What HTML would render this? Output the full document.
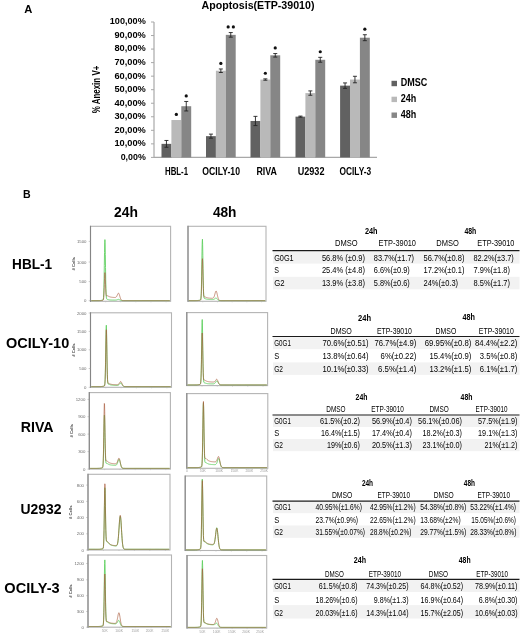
<!DOCTYPE html>
<html><head><meta charset="utf-8"><style>
html,body{margin:0;padding:0;background:#fff;}
body{width:520px;height:637px;overflow:hidden;}
svg{display:block;font-family:"Liberation Sans", sans-serif;will-change:transform;}
</style></head><body>
<svg width="520" height="637" viewBox="0 0 520 637">
<text x="24.2" y="12.8" font-size="11.2" font-weight="bold" >A</text>
<text x="201.5" y="9.3" font-size="10.6" font-weight="bold" textLength="113" lengthAdjust="spacingAndGlyphs" >Apoptosis(ETP-39010)</text>
<line x1="154" y1="22.0" x2="154" y2="157.4" stroke="#a8a8a8" stroke-width="1.2" />
<line x1="154" y1="157.4" x2="377" y2="157.4" stroke="#a8a8a8" stroke-width="1.2" />
<line x1="151" y1="157.4" x2="154" y2="157.4" stroke="#a8a8a8" stroke-width="1" />
<text x="120.70000000000002" y="159.8" font-size="8.6" font-weight="bold" textLength="25.1" lengthAdjust="spacingAndGlyphs" >0,00%</text>
<line x1="151" y1="143.86" x2="154" y2="143.86" stroke="#a8a8a8" stroke-width="1" />
<text x="114.4" y="146.26000000000002" font-size="8.6" font-weight="bold" textLength="31.4" lengthAdjust="spacingAndGlyphs" >10,00%</text>
<line x1="151" y1="130.32" x2="154" y2="130.32" stroke="#a8a8a8" stroke-width="1" />
<text x="114.4" y="132.72" font-size="8.6" font-weight="bold" textLength="31.4" lengthAdjust="spacingAndGlyphs" >20,00%</text>
<line x1="151" y1="116.78" x2="154" y2="116.78" stroke="#a8a8a8" stroke-width="1" />
<text x="114.4" y="119.18" font-size="8.6" font-weight="bold" textLength="31.4" lengthAdjust="spacingAndGlyphs" >30,00%</text>
<line x1="151" y1="103.24000000000001" x2="154" y2="103.24000000000001" stroke="#a8a8a8" stroke-width="1" />
<text x="114.4" y="105.64000000000001" font-size="8.6" font-weight="bold" textLength="31.4" lengthAdjust="spacingAndGlyphs" >40,00%</text>
<line x1="151" y1="89.7" x2="154" y2="89.7" stroke="#a8a8a8" stroke-width="1" />
<text x="114.4" y="92.10000000000001" font-size="8.6" font-weight="bold" textLength="31.4" lengthAdjust="spacingAndGlyphs" >50,00%</text>
<line x1="151" y1="76.16000000000001" x2="154" y2="76.16000000000001" stroke="#a8a8a8" stroke-width="1" />
<text x="114.4" y="78.56000000000002" font-size="8.6" font-weight="bold" textLength="31.4" lengthAdjust="spacingAndGlyphs" >60,00%</text>
<line x1="151" y1="62.620000000000005" x2="154" y2="62.620000000000005" stroke="#a8a8a8" stroke-width="1" />
<text x="114.4" y="65.02000000000001" font-size="8.6" font-weight="bold" textLength="31.4" lengthAdjust="spacingAndGlyphs" >70,00%</text>
<line x1="151" y1="49.08000000000001" x2="154" y2="49.08000000000001" stroke="#a8a8a8" stroke-width="1" />
<text x="114.4" y="51.48000000000001" font-size="8.6" font-weight="bold" textLength="31.4" lengthAdjust="spacingAndGlyphs" >80,00%</text>
<line x1="151" y1="35.540000000000006" x2="154" y2="35.540000000000006" stroke="#a8a8a8" stroke-width="1" />
<text x="114.4" y="37.940000000000005" font-size="8.6" font-weight="bold" textLength="31.4" lengthAdjust="spacingAndGlyphs" >90,00%</text>
<line x1="151" y1="22.0" x2="154" y2="22.0" stroke="#a8a8a8" stroke-width="1" />
<text x="109.80000000000001" y="24.4" font-size="8.6" font-weight="bold" textLength="36" lengthAdjust="spacingAndGlyphs" >100,00%</text>
<text transform="translate(100.3,89.5) rotate(-90)" x="0" y="0" font-size="10.4" font-weight="bold" text-anchor="middle" textLength="47.7" lengthAdjust="spacingAndGlyphs">% Anexin V+</text>
<rect x="161.5" y="143.86" width="9.9" height="13.54" fill="#616161" />
<line x1="166.45" y1="140.475" x2="166.45" y2="147.245" stroke="#222" stroke-width="0.9" />
<line x1="164.45" y1="140.475" x2="168.45" y2="140.475" stroke="#222" stroke-width="0.9" />
<line x1="164.45" y1="147.245" x2="168.45" y2="147.245" stroke="#222" stroke-width="0.9" />
<rect x="171.4" y="120.03" width="9.9" height="37.37" fill="#b9b9b9" />
<circle cx="176.35" cy="114.43" r="1.6" fill="#111"/>
<rect x="181.3" y="106.22" width="9.9" height="51.18" fill="#868686" />
<line x1="186.25" y1="101.47980000000001" x2="186.25" y2="110.9578" stroke="#222" stroke-width="0.9" />
<line x1="184.25" y1="101.47980000000001" x2="188.25" y2="101.47980000000001" stroke="#222" stroke-width="0.9" />
<line x1="184.25" y1="110.9578" x2="188.25" y2="110.9578" stroke="#222" stroke-width="0.9" />
<circle cx="186.25" cy="95.88" r="1.6" fill="#111"/>
<text x="165" y="175.2" font-size="10.4" font-weight="bold" textLength="23" lengthAdjust="spacingAndGlyphs" >HBL-1</text>
<rect x="206.0" y="136.14" width="9.9" height="21.26" fill="#616161" />
<line x1="210.95" y1="134.1112" x2="210.95" y2="138.1732" stroke="#222" stroke-width="0.9" />
<line x1="208.95" y1="134.1112" x2="212.95" y2="134.1112" stroke="#222" stroke-width="0.9" />
<line x1="208.95" y1="138.1732" x2="212.95" y2="138.1732" stroke="#222" stroke-width="0.9" />
<rect x="215.9" y="70.74" width="9.9" height="86.66" fill="#b9b9b9" />
<line x1="220.85" y1="68.9838" x2="220.85" y2="72.50420000000001" stroke="#222" stroke-width="0.9" />
<line x1="218.85" y1="68.9838" x2="222.85" y2="68.9838" stroke="#222" stroke-width="0.9" />
<line x1="218.85" y1="72.50420000000001" x2="222.85" y2="72.50420000000001" stroke="#222" stroke-width="0.9" />
<circle cx="220.85" cy="63.38" r="1.6" fill="#111"/>
<rect x="225.8" y="34.86" width="9.9" height="122.54" fill="#868686" />
<line x1="230.75" y1="32.5612" x2="230.75" y2="37.1648" stroke="#222" stroke-width="0.9" />
<line x1="228.75" y1="32.5612" x2="232.75" y2="32.5612" stroke="#222" stroke-width="0.9" />
<line x1="228.75" y1="37.1648" x2="232.75" y2="37.1648" stroke="#222" stroke-width="0.9" />
<circle cx="228.15" cy="26.96" r="1.6" fill="#111"/>
<circle cx="233.35" cy="26.96" r="1.6" fill="#111"/>
<text x="202.3" y="175.2" font-size="10.4" font-weight="bold" textLength="37.7" lengthAdjust="spacingAndGlyphs" >OCILY-10</text>
<rect x="250.5" y="120.98" width="9.9" height="36.42" fill="#616161" />
<line x1="255.45" y1="116.37380000000002" x2="255.45" y2="125.581" stroke="#222" stroke-width="0.9" />
<line x1="253.45" y1="116.37380000000002" x2="257.45" y2="116.37380000000002" stroke="#222" stroke-width="0.9" />
<line x1="253.45" y1="125.581" x2="257.45" y2="125.581" stroke="#222" stroke-width="0.9" />
<rect x="260.4" y="79.55" width="9.9" height="77.86" fill="#b9b9b9" />
<line x1="265.34999999999997" y1="78.868" x2="265.34999999999997" y2="80.22200000000001" stroke="#222" stroke-width="0.9" />
<line x1="263.34999999999997" y1="78.868" x2="267.34999999999997" y2="78.868" stroke="#222" stroke-width="0.9" />
<line x1="263.34999999999997" y1="80.22200000000001" x2="267.34999999999997" y2="80.22200000000001" stroke="#222" stroke-width="0.9" />
<circle cx="265.35" cy="73.27" r="1.6" fill="#111"/>
<rect x="270.3" y="55.31" width="9.9" height="102.09" fill="#868686" />
<line x1="275.25" y1="53.54820000000001" x2="275.25" y2="57.06859999999999" stroke="#222" stroke-width="0.9" />
<line x1="273.25" y1="53.54820000000001" x2="277.25" y2="53.54820000000001" stroke="#222" stroke-width="0.9" />
<line x1="273.25" y1="57.06859999999999" x2="277.25" y2="57.06859999999999" stroke="#222" stroke-width="0.9" />
<circle cx="275.25" cy="47.95" r="1.6" fill="#111"/>
<text x="256.4" y="175.2" font-size="10.4" font-weight="bold" textLength="20.5" lengthAdjust="spacingAndGlyphs" >RIVA</text>
<rect x="295.5" y="116.64" width="9.9" height="40.76" fill="#616161" />
<line x1="300.45" y1="116.10300000000001" x2="300.45" y2="117.1862" stroke="#222" stroke-width="0.9" />
<line x1="298.45" y1="116.10300000000001" x2="302.45" y2="116.10300000000001" stroke="#222" stroke-width="0.9" />
<line x1="298.45" y1="117.1862" x2="302.45" y2="117.1862" stroke="#222" stroke-width="0.9" />
<rect x="305.4" y="93.09" width="9.9" height="64.31" fill="#b9b9b9" />
<line x1="310.34999999999997" y1="90.9186" x2="310.34999999999997" y2="95.25140000000002" stroke="#222" stroke-width="0.9" />
<line x1="308.34999999999997" y1="90.9186" x2="312.34999999999997" y2="90.9186" stroke="#222" stroke-width="0.9" />
<line x1="308.34999999999997" y1="95.25140000000002" x2="312.34999999999997" y2="95.25140000000002" stroke="#222" stroke-width="0.9" />
<rect x="315.3" y="59.78" width="9.9" height="97.62" fill="#868686" />
<line x1="320.25" y1="57.33940000000001" x2="320.25" y2="62.21379999999999" stroke="#222" stroke-width="0.9" />
<line x1="318.25" y1="57.33940000000001" x2="322.25" y2="57.33940000000001" stroke="#222" stroke-width="0.9" />
<line x1="318.25" y1="62.21379999999999" x2="322.25" y2="62.21379999999999" stroke="#222" stroke-width="0.9" />
<circle cx="320.25" cy="51.74" r="1.6" fill="#111"/>
<text x="297.7" y="175.2" font-size="10.4" font-weight="bold" textLength="26.8" lengthAdjust="spacingAndGlyphs" >U2932</text>
<rect x="340.1" y="85.64" width="9.9" height="71.76" fill="#616161" />
<line x1="345.05" y1="82.93" x2="345.05" y2="88.346" stroke="#222" stroke-width="0.9" />
<line x1="343.05" y1="82.93" x2="347.05" y2="82.93" stroke="#222" stroke-width="0.9" />
<line x1="343.05" y1="88.346" x2="347.05" y2="88.346" stroke="#222" stroke-width="0.9" />
<rect x="350.0" y="79.55" width="9.9" height="77.86" fill="#b9b9b9" />
<line x1="354.95" y1="76.2954" x2="354.95" y2="82.7946" stroke="#222" stroke-width="0.9" />
<line x1="352.95" y1="76.2954" x2="356.95" y2="76.2954" stroke="#222" stroke-width="0.9" />
<line x1="352.95" y1="82.7946" x2="356.95" y2="82.7946" stroke="#222" stroke-width="0.9" />
<rect x="359.9" y="37.71" width="9.9" height="119.69" fill="#868686" />
<line x1="364.85" y1="34.727599999999995" x2="364.85" y2="40.685199999999995" stroke="#222" stroke-width="0.9" />
<line x1="362.85" y1="34.727599999999995" x2="366.85" y2="34.727599999999995" stroke="#222" stroke-width="0.9" />
<line x1="362.85" y1="40.685199999999995" x2="366.85" y2="40.685199999999995" stroke="#222" stroke-width="0.9" />
<circle cx="364.85" cy="29.13" r="1.6" fill="#111"/>
<text x="339.5" y="175.2" font-size="10.4" font-weight="bold" textLength="31.7" lengthAdjust="spacingAndGlyphs" >OCILY-3</text>
<rect x="391.5" y="80.8" width="5.5" height="5.4" fill="#616161" />
<text x="400.8" y="86.1" font-size="10.2" font-weight="bold" textLength="26.5" lengthAdjust="spacingAndGlyphs" >DMSC</text>
<rect x="391.5" y="96.7" width="5.5" height="5.4" fill="#b9b9b9" />
<text x="400.8" y="102.0" font-size="10.2" font-weight="bold" textLength="15.5" lengthAdjust="spacingAndGlyphs" >24h</text>
<rect x="391.5" y="112.5" width="5.5" height="5.4" fill="#868686" />
<text x="400.8" y="117.8" font-size="10.2" font-weight="bold" textLength="15.5" lengthAdjust="spacingAndGlyphs" >48h</text>
<text x="22.9" y="198.1" font-size="10.6" font-weight="bold" >B</text>
<text x="114" y="216.6" font-size="13.9" font-weight="bold" textLength="23.9" lengthAdjust="spacingAndGlyphs" >24h</text>
<text x="212.9" y="216.7" font-size="13.9" font-weight="bold" textLength="23.6" lengthAdjust="spacingAndGlyphs" >48h</text>
<text x="12.1" y="269" font-size="13.9" font-weight="bold" textLength="40.1" lengthAdjust="spacingAndGlyphs" >HBL-1</text>
<text x="6.1" y="348.2" font-size="13.9" font-weight="bold" textLength="63.1" lengthAdjust="spacingAndGlyphs" >OCILY-10</text>
<text x="20.8" y="431.7" font-size="13.9" font-weight="bold" textLength="32.8" lengthAdjust="spacingAndGlyphs" >RIVA</text>
<text x="20.4" y="514" font-size="13.9" font-weight="bold" textLength="41" lengthAdjust="spacingAndGlyphs" >U2932</text>
<text x="4.3" y="593" font-size="13.9" font-weight="bold" textLength="55.4" lengthAdjust="spacingAndGlyphs" >OCILY-3</text>
<rect x="90.5" y="226.3" width="80.1" height="75.0" fill="#fff" stroke="#b4b4b4" stroke-width="1.1"/>
<line x1="90.5" y1="225.8" x2="90.5" y2="301.8" stroke="#858585" stroke-width="1.1" />
<line x1="105.61320754716981" y1="301.3" x2="105.61320754716981" y2="302.3" stroke="#bbb" stroke-width="0.6" />
<line x1="120.72641509433961" y1="301.3" x2="120.72641509433961" y2="302.3" stroke="#bbb" stroke-width="0.6" />
<line x1="135.83962264150944" y1="301.3" x2="135.83962264150944" y2="302.3" stroke="#bbb" stroke-width="0.6" />
<line x1="150.95283018867923" y1="301.3" x2="150.95283018867923" y2="302.3" stroke="#bbb" stroke-width="0.6" />
<line x1="166.06603773584908" y1="301.3" x2="166.06603773584908" y2="302.3" stroke="#bbb" stroke-width="0.6" />
<path d="M91.30,300.60 L91.50,300.60 L91.70,300.60 L91.90,300.60 L92.10,300.60 L92.30,300.60 L92.50,300.60 L92.70,300.60 L92.90,300.60 L93.10,300.60 L93.30,300.60 L93.50,300.60 L93.70,300.60 L93.90,300.60 L94.10,300.60 L94.30,300.60 L94.50,300.60 L94.70,300.60 L94.90,300.60 L95.10,300.60 L95.31,300.60 L95.51,300.60 L95.71,300.60 L95.91,300.60 L96.11,300.60 L96.31,300.60 L96.51,300.60 L96.71,300.60 L96.91,300.60 L97.11,300.60 L97.31,300.60 L97.51,300.60 L97.71,300.60 L97.91,300.59 L98.11,300.59 L98.31,300.59 L98.51,300.59 L98.71,300.58 L98.91,300.58 L99.11,300.57 L99.31,300.57 L99.51,300.56 L99.71,300.55 L99.91,300.53 L100.11,300.52 L100.31,300.50 L100.51,300.48 L100.71,300.46 L100.91,300.43 L101.11,300.41 L101.31,300.37 L101.51,300.34 L101.71,300.30 L101.91,300.26 L102.11,300.22 L102.31,300.17 L102.51,300.12 L102.71,300.05 L102.91,299.94 L103.12,299.67 L103.32,298.99 L103.52,297.37 L103.72,293.94 L103.92,287.69 L104.12,278.02 L104.32,265.53 L104.52,252.60 L104.72,242.86 L104.92,239.63 L105.12,244.08 L105.32,254.57 L105.52,267.58 L105.72,279.60 L105.92,288.58 L106.12,294.18 L106.32,297.14 L106.52,298.49 L106.72,299.02 L106.92,299.22 L107.12,299.30 L107.32,299.36 L107.52,299.41 L107.72,299.46 L107.92,299.52 L108.12,299.57 L108.32,299.63 L108.52,299.68 L108.72,299.72 L108.92,299.76 L109.12,299.80 L109.32,299.84 L109.52,299.87 L109.72,299.89 L109.92,299.92 L110.12,299.94 L110.32,299.96 L110.52,299.97 L110.72,299.99 L110.92,300.00 L111.13,300.01 L111.33,300.02 L111.53,300.03 L111.73,300.03 L111.93,300.04 L112.13,300.05 L112.33,300.05 L112.53,300.06 L112.73,300.06 L112.93,300.06 L113.13,300.07 L113.33,300.07 L113.53,300.07 L113.73,300.07 L113.93,300.08 L114.13,300.08 L114.33,300.08 L114.53,300.08 L114.73,300.08 L114.93,300.08 L115.13,300.08 L115.33,300.07 L115.53,300.06 L115.73,300.05 L115.93,300.03 L116.13,300.01 L116.33,299.98 L116.53,299.93 L116.73,299.88 L116.93,299.82 L117.13,299.75 L117.33,299.68 L117.53,299.60 L117.73,299.53 L117.93,299.46 L118.13,299.41 L118.33,299.39 L118.53,299.38 L118.73,299.41 L118.94,299.46 L119.14,299.53 L119.34,299.62 L119.54,299.73 L119.74,299.85 L119.94,299.96 L120.14,300.07 L120.34,300.18 L120.54,300.27 L120.74,300.34 L120.94,300.41 L121.14,300.46 L121.34,300.50 L121.54,300.53 L121.74,300.55 L121.94,300.57 L122.14,300.58 L122.34,300.58 L122.54,300.59 L122.74,300.59 L122.94,300.60 L123.14,300.60 L123.34,300.60 L123.54,300.60 L123.74,300.60 L123.94,300.60 L124.14,300.60 L124.34,300.60 L124.54,300.60 L124.74,300.60 L124.94,300.60 L125.14,300.60 L125.34,300.60 L125.54,300.60 L125.74,300.60 L125.94,300.60 L126.14,300.60 L126.34,300.60 L126.54,300.60 L126.75,300.60 L126.95,300.60 L127.15,300.60 L127.35,300.60 L127.55,300.60 L127.75,300.60 L127.95,300.60 L128.15,300.60 L128.35,300.60 L128.55,300.60 L128.75,300.60 L128.95,300.60 L129.15,300.60 L129.35,300.60 L129.55,300.60 L129.75,300.60 L129.95,300.60 L130.15,300.60 L130.35,300.60 L130.55,300.60 L130.75,300.60 L130.95,300.60 L131.15,300.60 L131.35,300.60 L131.55,300.60 L131.75,300.60 L131.95,300.60 L132.15,300.60 L132.35,300.60 L132.55,300.60 L132.75,300.60 L132.95,300.60 L133.15,300.60 L133.35,300.60 L133.55,300.60 L133.75,300.60 L133.95,300.60 L134.15,300.60 L134.35,300.60 L134.56,300.60 L134.76,300.60 L134.96,300.60 L135.16,300.60 L135.36,300.60 L135.56,300.60 L135.76,300.60 L135.96,300.60 L136.16,300.60 L136.36,300.60 L136.56,300.60 L136.76,300.60 L136.96,300.60 L137.16,300.60 L137.36,300.60 L137.56,300.60 L137.76,300.60 L137.96,300.60 L138.16,300.60 L138.36,300.60 L138.56,300.60 L138.76,300.60 L138.96,300.60 L139.16,300.60 L139.36,300.60 L139.56,300.60 L139.76,300.60 L139.96,300.60 L140.16,300.60 L140.36,300.60 L140.56,300.60 L140.76,300.60 L140.96,300.60 L141.16,300.60 L141.36,300.60 L141.56,300.60 L141.76,300.60 L141.96,300.60 L142.16,300.60 L142.37,300.60 L142.57,300.60 L142.77,300.60 L142.97,300.60 L143.17,300.60 L143.37,300.60 L143.57,300.60 L143.77,300.60 L143.97,300.60 L144.17,300.60 L144.37,300.60 L144.57,300.60 L144.77,300.60 L144.97,300.60 L145.17,300.60 L145.37,300.60 L145.57,300.60 L145.77,300.60 L145.97,300.60 L146.17,300.60 L146.37,300.60 L146.57,300.60 L146.77,300.60 L146.97,300.60 L147.17,300.60 L147.37,300.60 L147.57,300.60 L147.77,300.60 L147.97,300.60 L148.17,300.60 L148.37,300.60 L148.57,300.60 L148.77,300.60 L148.97,300.60 L149.17,300.60 L149.37,300.60 L149.57,300.60 L149.77,300.60 L149.97,300.60 L150.17,300.60 L150.38,300.60 L150.58,300.60 L150.78,300.60 L150.98,300.60 L151.18,300.60 L151.38,300.60 L151.58,300.60 L151.78,300.60 L151.98,300.60 L152.18,300.60 L152.38,300.60 L152.58,300.60 L152.78,300.60 L152.98,300.60 L153.18,300.60 L153.38,300.60 L153.58,300.60 L153.78,300.60 L153.98,300.60 L154.18,300.60 L154.38,300.60 L154.58,300.60 L154.78,300.60 L154.98,300.60 L155.18,300.60 L155.38,300.60 L155.58,300.60 L155.78,300.60 L155.98,300.60 L156.18,300.60 L156.38,300.60 L156.58,300.60 L156.78,300.60 L156.98,300.60 L157.18,300.60 L157.38,300.60 L157.58,300.60 L157.78,300.60 L157.98,300.60 L158.19,300.60 L158.39,300.60 L158.59,300.60 L158.79,300.60 L158.99,300.60 L159.19,300.60 L159.39,300.60 L159.59,300.60 L159.79,300.60 L159.99,300.60 L160.19,300.60 L160.39,300.60 L160.59,300.60 L160.79,300.60 L160.99,300.60 L161.19,300.60 L161.39,300.60 L161.59,300.60 L161.79,300.60 L161.99,300.60 L162.19,300.60 L162.39,300.60 L162.59,300.60 L162.79,300.60 L162.99,300.60 L163.19,300.60 L163.39,300.60 L163.59,300.60 L163.79,300.60 L163.99,300.60 L164.19,300.60 L164.39,300.60 L164.59,300.60 L164.79,300.60 L164.99,300.60 L165.19,300.60 L165.39,300.60 L165.59,300.60 L165.79,300.60 L166.00,300.60 L166.20,300.60 L166.40,300.60 L166.60,300.60 L166.80,300.60 L167.00,300.60 L167.20,300.60 L167.40,300.60 L167.60,300.60 L167.80,300.60 L168.00,300.60 L168.20,300.60 L168.40,300.60 L168.60,300.60 L168.80,300.60 L169.00,300.60 L169.20,300.60 L169.40,300.60 L169.60,300.60 L169.80,300.60" fill="none" stroke="#62d062" stroke-width="0.9"/>
<path d="M91.30,300.60 L91.50,300.60 L91.70,300.60 L91.90,300.60 L92.10,300.60 L92.30,300.60 L92.50,300.60 L92.70,300.60 L92.90,300.60 L93.10,300.60 L93.30,300.60 L93.50,300.60 L93.70,300.60 L93.90,300.60 L94.10,300.60 L94.30,300.60 L94.50,300.60 L94.70,300.60 L94.90,300.60 L95.10,300.60 L95.31,300.60 L95.51,300.60 L95.71,300.60 L95.91,300.60 L96.11,300.60 L96.31,300.60 L96.51,300.60 L96.71,300.60 L96.91,300.60 L97.11,300.60 L97.31,300.60 L97.51,300.60 L97.71,300.60 L97.91,300.60 L98.11,300.60 L98.31,300.60 L98.51,300.59 L98.71,300.59 L98.91,300.59 L99.11,300.59 L99.31,300.58 L99.51,300.58 L99.71,300.58 L99.91,300.57 L100.11,300.56 L100.31,300.56 L100.51,300.55 L100.71,300.54 L100.91,300.52 L101.11,300.51 L101.31,300.50 L101.51,300.48 L101.71,300.46 L101.91,300.44 L102.11,300.42 L102.31,300.40 L102.51,300.37 L102.71,300.34 L102.91,300.29 L103.12,300.16 L103.32,299.85 L103.52,299.10 L103.72,297.54 L103.92,294.70 L104.12,290.30 L104.32,284.62 L104.52,278.72 L104.72,274.22 L104.92,272.60 L105.12,274.38 L105.32,278.80 L105.52,284.26 L105.72,289.19 L105.92,292.68 L106.12,294.73 L106.32,295.64 L106.52,295.89 L106.72,295.87 L106.92,295.79 L107.12,295.75 L107.32,295.75 L107.52,295.79 L107.72,295.87 L107.92,295.96 L108.12,296.06 L108.32,296.17 L108.52,296.27 L108.72,296.37 L108.92,296.47 L109.12,296.56 L109.32,296.64 L109.52,296.72 L109.72,296.79 L109.92,296.85 L110.12,296.91 L110.32,296.97 L110.52,297.02 L110.72,297.07 L110.92,297.11 L111.13,297.15 L111.33,297.18 L111.53,297.22 L111.73,297.25 L111.93,297.27 L112.13,297.30 L112.33,297.32 L112.53,297.35 L112.73,297.36 L112.93,297.38 L113.13,297.40 L113.33,297.42 L113.53,297.43 L113.73,297.44 L113.93,297.45 L114.13,297.46 L114.33,297.47 L114.53,297.48 L114.73,297.48 L114.93,297.47 L115.13,297.46 L115.33,297.43 L115.53,297.38 L115.73,297.30 L115.93,297.20 L116.13,297.04 L116.33,296.84 L116.53,296.58 L116.73,296.27 L116.93,295.89 L117.13,295.46 L117.33,295.01 L117.53,294.54 L117.73,294.09 L117.93,293.70 L118.13,293.40 L118.33,293.22 L118.53,293.20 L118.73,293.34 L118.94,293.64 L119.14,294.08 L119.34,294.65 L119.54,295.31 L119.74,296.01 L119.94,296.71 L120.14,297.39 L120.34,298.02 L120.54,298.57 L120.74,299.04 L120.94,299.43 L121.14,299.75 L121.34,299.99 L121.54,300.17 L121.74,300.30 L121.94,300.40 L122.14,300.46 L122.34,300.51 L122.54,300.54 L122.74,300.56 L122.94,300.57 L123.14,300.58 L123.34,300.59 L123.54,300.59 L123.74,300.59 L123.94,300.59 L124.14,300.59 L124.34,300.60 L124.54,300.60 L124.74,300.60 L124.94,300.60 L125.14,300.60 L125.34,300.60 L125.54,300.60 L125.74,300.60 L125.94,300.60 L126.14,300.60 L126.34,300.60 L126.54,300.60 L126.75,300.60 L126.95,300.60 L127.15,300.60 L127.35,300.60 L127.55,300.60 L127.75,300.60 L127.95,300.60 L128.15,300.60 L128.35,300.60 L128.55,300.60 L128.75,300.60 L128.95,300.60 L129.15,300.60 L129.35,300.60 L129.55,300.60 L129.75,300.60 L129.95,300.60 L130.15,300.60 L130.35,300.60 L130.55,300.60 L130.75,300.60 L130.95,300.60 L131.15,300.60 L131.35,300.60 L131.55,300.60 L131.75,300.60 L131.95,300.60 L132.15,300.60 L132.35,300.60 L132.55,300.60 L132.75,300.60 L132.95,300.60 L133.15,300.60 L133.35,300.60 L133.55,300.60 L133.75,300.60 L133.95,300.60 L134.15,300.60 L134.35,300.60 L134.56,300.60 L134.76,300.60 L134.96,300.60 L135.16,300.60 L135.36,300.60 L135.56,300.60 L135.76,300.60 L135.96,300.60 L136.16,300.60 L136.36,300.60 L136.56,300.60 L136.76,300.60 L136.96,300.60 L137.16,300.60 L137.36,300.60 L137.56,300.60 L137.76,300.60 L137.96,300.60 L138.16,300.60 L138.36,300.60 L138.56,300.60 L138.76,300.60 L138.96,300.60 L139.16,300.60 L139.36,300.60 L139.56,300.60 L139.76,300.60 L139.96,300.60 L140.16,300.60 L140.36,300.60 L140.56,300.60 L140.76,300.60 L140.96,300.60 L141.16,300.60 L141.36,300.60 L141.56,300.60 L141.76,300.60 L141.96,300.60 L142.16,300.60 L142.37,300.60 L142.57,300.60 L142.77,300.60 L142.97,300.60 L143.17,300.60 L143.37,300.60 L143.57,300.60 L143.77,300.60 L143.97,300.60 L144.17,300.60 L144.37,300.60 L144.57,300.60 L144.77,300.60 L144.97,300.60 L145.17,300.60 L145.37,300.60 L145.57,300.60 L145.77,300.60 L145.97,300.60 L146.17,300.60 L146.37,300.60 L146.57,300.60 L146.77,300.60 L146.97,300.60 L147.17,300.60 L147.37,300.60 L147.57,300.60 L147.77,300.60 L147.97,300.60 L148.17,300.60 L148.37,300.60 L148.57,300.60 L148.77,300.60 L148.97,300.60 L149.17,300.60 L149.37,300.60 L149.57,300.60 L149.77,300.60 L149.97,300.60 L150.17,300.60 L150.38,300.60 L150.58,300.60 L150.78,300.60 L150.98,300.60 L151.18,300.60 L151.38,300.60 L151.58,300.60 L151.78,300.60 L151.98,300.60 L152.18,300.60 L152.38,300.60 L152.58,300.60 L152.78,300.60 L152.98,300.60 L153.18,300.60 L153.38,300.60 L153.58,300.60 L153.78,300.60 L153.98,300.60 L154.18,300.60 L154.38,300.60 L154.58,300.60 L154.78,300.60 L154.98,300.60 L155.18,300.60 L155.38,300.60 L155.58,300.60 L155.78,300.60 L155.98,300.60 L156.18,300.60 L156.38,300.60 L156.58,300.60 L156.78,300.60 L156.98,300.60 L157.18,300.60 L157.38,300.60 L157.58,300.60 L157.78,300.60 L157.98,300.60 L158.19,300.60 L158.39,300.60 L158.59,300.60 L158.79,300.60 L158.99,300.60 L159.19,300.60 L159.39,300.60 L159.59,300.60 L159.79,300.60 L159.99,300.60 L160.19,300.60 L160.39,300.60 L160.59,300.60 L160.79,300.60 L160.99,300.60 L161.19,300.60 L161.39,300.60 L161.59,300.60 L161.79,300.60 L161.99,300.60 L162.19,300.60 L162.39,300.60 L162.59,300.60 L162.79,300.60 L162.99,300.60 L163.19,300.60 L163.39,300.60 L163.59,300.60 L163.79,300.60 L163.99,300.60 L164.19,300.60 L164.39,300.60 L164.59,300.60 L164.79,300.60 L164.99,300.60 L165.19,300.60 L165.39,300.60 L165.59,300.60 L165.79,300.60 L166.00,300.60 L166.20,300.60 L166.40,300.60 L166.60,300.60 L166.80,300.60 L167.00,300.60 L167.20,300.60 L167.40,300.60 L167.60,300.60 L167.80,300.60 L168.00,300.60 L168.20,300.60 L168.40,300.60 L168.60,300.60 L168.80,300.60 L169.00,300.60 L169.20,300.60 L169.40,300.60 L169.60,300.60 L169.80,300.60" fill="none" stroke="#a85a3a" stroke-width="0.9" opacity="0.72"/>
<text x="86.5" y="242.9" font-size="4.3" text-anchor="end" fill="#6a6a6a" >1500</text>
<line x1="88.7" y1="241.4" x2="90.5" y2="241.4" stroke="#999" stroke-width="0.5" />
<text x="86.5" y="263.5" font-size="4.3" text-anchor="end" fill="#6a6a6a" >1000</text>
<line x1="88.7" y1="262" x2="90.5" y2="262" stroke="#999" stroke-width="0.5" />
<text x="86.5" y="283.1" font-size="4.3" text-anchor="end" fill="#6a6a6a" >500</text>
<line x1="88.7" y1="281.6" x2="90.5" y2="281.6" stroke="#999" stroke-width="0.5" />
<text x="86.5" y="302.2" font-size="4.3" text-anchor="end" fill="#6a6a6a" >0</text>
<line x1="88.7" y1="300.7" x2="90.5" y2="300.7" stroke="#999" stroke-width="0.5" />
<text transform="translate(74.6,263.8) rotate(-90)" font-size="4.2" font-weight="bold" fill="#444" text-anchor="middle"># Cells</text>
<rect x="188" y="226.3" width="78" height="75.0" fill="#fff" stroke="#b4b4b4" stroke-width="1.1"/>
<line x1="188" y1="225.8" x2="188" y2="301.8" stroke="#858585" stroke-width="1.1" />
<line x1="202.71698113207546" y1="301.3" x2="202.71698113207546" y2="302.3" stroke="#bbb" stroke-width="0.6" />
<line x1="217.43396226415095" y1="301.3" x2="217.43396226415095" y2="302.3" stroke="#bbb" stroke-width="0.6" />
<line x1="232.1509433962264" y1="301.3" x2="232.1509433962264" y2="302.3" stroke="#bbb" stroke-width="0.6" />
<line x1="246.8679245283019" y1="301.3" x2="246.8679245283019" y2="302.3" stroke="#bbb" stroke-width="0.6" />
<line x1="261.58490566037733" y1="301.3" x2="261.58490566037733" y2="302.3" stroke="#bbb" stroke-width="0.6" />
<path d="M188.80,300.60 L189.00,300.60 L189.20,300.60 L189.40,300.60 L189.60,300.60 L189.80,300.60 L190.00,300.60 L190.20,300.60 L190.40,300.60 L190.60,300.60 L190.81,300.60 L191.01,300.60 L191.21,300.60 L191.41,300.60 L191.61,300.60 L191.81,300.60 L192.01,300.60 L192.21,300.60 L192.41,300.60 L192.61,300.60 L192.81,300.60 L193.01,300.60 L193.21,300.60 L193.41,300.60 L193.61,300.60 L193.81,300.60 L194.01,300.60 L194.21,300.60 L194.41,300.60 L194.62,300.60 L194.82,300.60 L195.02,300.60 L195.22,300.60 L195.42,300.59 L195.62,300.59 L195.82,300.59 L196.02,300.59 L196.22,300.58 L196.42,300.58 L196.62,300.57 L196.82,300.57 L197.02,300.56 L197.22,300.55 L197.42,300.53 L197.62,300.52 L197.82,300.50 L198.02,300.48 L198.22,300.46 L198.43,300.43 L198.63,300.40 L198.83,300.37 L199.03,300.33 L199.23,300.30 L199.43,300.25 L199.63,300.21 L199.83,300.16 L200.03,300.11 L200.23,300.04 L200.43,299.92 L200.63,299.63 L200.83,298.89 L201.03,297.14 L201.23,293.48 L201.43,286.90 L201.63,276.85 L201.83,264.09 L202.03,251.17 L202.24,241.81 L202.44,239.21 L202.64,244.34 L202.84,255.26 L203.04,268.34 L203.24,280.13 L203.44,288.74 L203.64,294.00 L203.84,296.70 L204.04,297.87 L204.24,298.32 L204.44,298.47 L204.64,298.53 L204.84,298.59 L205.04,298.64 L205.24,298.71 L205.44,298.78 L205.64,298.85 L205.84,298.91 L206.05,298.98 L206.25,299.04 L206.45,299.09 L206.65,299.14 L206.85,299.19 L207.05,299.23 L207.25,299.27 L207.45,299.30 L207.65,299.33 L207.85,299.36 L208.05,299.38 L208.25,299.40 L208.45,299.42 L208.65,299.44 L208.85,299.45 L209.05,299.47 L209.25,299.48 L209.45,299.49 L209.65,299.50 L209.86,299.51 L210.06,299.51 L210.26,299.52 L210.46,299.53 L210.66,299.53 L210.86,299.54 L211.06,299.54 L211.26,299.55 L211.46,299.55 L211.66,299.56 L211.86,299.56 L212.06,299.56 L212.26,299.56 L212.46,299.56 L212.66,299.55 L212.86,299.54 L213.06,299.52 L213.26,299.49 L213.46,299.45 L213.67,299.40 L213.87,299.32 L214.07,299.23 L214.27,299.12 L214.47,298.98 L214.67,298.83 L214.87,298.67 L215.07,298.51 L215.27,298.36 L215.47,298.22 L215.67,298.13 L215.87,298.07 L216.07,298.07 L216.27,298.13 L216.47,298.24 L216.67,298.40 L216.87,298.60 L217.07,298.83 L217.27,299.07 L217.48,299.31 L217.68,299.54 L217.88,299.75 L218.08,299.94 L218.28,300.09 L218.48,300.22 L218.68,300.33 L218.88,300.40 L219.08,300.46 L219.28,300.51 L219.48,300.54 L219.68,300.56 L219.88,300.57 L220.08,300.58 L220.28,300.59 L220.48,300.59 L220.68,300.59 L220.88,300.60 L221.08,300.60 L221.29,300.60 L221.49,300.60 L221.69,300.60 L221.89,300.60 L222.09,300.60 L222.29,300.60 L222.49,300.60 L222.69,300.60 L222.89,300.60 L223.09,300.60 L223.29,300.60 L223.49,300.60 L223.69,300.60 L223.89,300.60 L224.09,300.60 L224.29,300.60 L224.49,300.60 L224.69,300.60 L224.89,300.60 L225.10,300.60 L225.30,300.60 L225.50,300.60 L225.70,300.60 L225.90,300.60 L226.10,300.60 L226.30,300.60 L226.50,300.60 L226.70,300.60 L226.90,300.60 L227.10,300.60 L227.30,300.60 L227.50,300.60 L227.70,300.60 L227.90,300.60 L228.10,300.60 L228.30,300.60 L228.50,300.60 L228.70,300.60 L228.90,300.60 L229.11,300.60 L229.31,300.60 L229.51,300.60 L229.71,300.60 L229.91,300.60 L230.11,300.60 L230.31,300.60 L230.51,300.60 L230.71,300.60 L230.91,300.60 L231.11,300.60 L231.31,300.60 L231.51,300.60 L231.71,300.60 L231.91,300.60 L232.11,300.60 L232.31,300.60 L232.51,300.60 L232.71,300.60 L232.92,300.60 L233.12,300.60 L233.32,300.60 L233.52,300.60 L233.72,300.60 L233.92,300.60 L234.12,300.60 L234.32,300.60 L234.52,300.60 L234.72,300.60 L234.92,300.60 L235.12,300.60 L235.32,300.60 L235.52,300.60 L235.72,300.60 L235.92,300.60 L236.12,300.60 L236.32,300.60 L236.52,300.60 L236.73,300.60 L236.93,300.60 L237.13,300.60 L237.33,300.60 L237.53,300.60 L237.73,300.60 L237.93,300.60 L238.13,300.60 L238.33,300.60 L238.53,300.60 L238.73,300.60 L238.93,300.60 L239.13,300.60 L239.33,300.60 L239.53,300.60 L239.73,300.60 L239.93,300.60 L240.13,300.60 L240.33,300.60 L240.54,300.60 L240.74,300.60 L240.94,300.60 L241.14,300.60 L241.34,300.60 L241.54,300.60 L241.74,300.60 L241.94,300.60 L242.14,300.60 L242.34,300.60 L242.54,300.60 L242.74,300.60 L242.94,300.60 L243.14,300.60 L243.34,300.60 L243.54,300.60 L243.74,300.60 L243.94,300.60 L244.14,300.60 L244.35,300.60 L244.55,300.60 L244.75,300.60 L244.95,300.60 L245.15,300.60 L245.35,300.60 L245.55,300.60 L245.75,300.60 L245.95,300.60 L246.15,300.60 L246.35,300.60 L246.55,300.60 L246.75,300.60 L246.95,300.60 L247.15,300.60 L247.35,300.60 L247.55,300.60 L247.75,300.60 L247.95,300.60 L248.16,300.60 L248.36,300.60 L248.56,300.60 L248.76,300.60 L248.96,300.60 L249.16,300.60 L249.36,300.60 L249.56,300.60 L249.76,300.60 L249.96,300.60 L250.16,300.60 L250.36,300.60 L250.56,300.60 L250.76,300.60 L250.96,300.60 L251.16,300.60 L251.36,300.60 L251.56,300.60 L251.76,300.60 L251.97,300.60 L252.17,300.60 L252.37,300.60 L252.57,300.60 L252.77,300.60 L252.97,300.60 L253.17,300.60 L253.37,300.60 L253.57,300.60 L253.77,300.60 L253.97,300.60 L254.17,300.60 L254.37,300.60 L254.57,300.60 L254.77,300.60 L254.97,300.60 L255.17,300.60 L255.37,300.60 L255.57,300.60 L255.78,300.60 L255.98,300.60 L256.18,300.60 L256.38,300.60 L256.58,300.60 L256.78,300.60 L256.98,300.60 L257.18,300.60 L257.38,300.60 L257.58,300.60 L257.78,300.60 L257.98,300.60 L258.18,300.60 L258.38,300.60 L258.58,300.60 L258.78,300.60 L258.98,300.60 L259.18,300.60 L259.38,300.60 L259.59,300.60 L259.79,300.60 L259.99,300.60 L260.19,300.60 L260.39,300.60 L260.59,300.60 L260.79,300.60 L260.99,300.60 L261.19,300.60 L261.39,300.60 L261.59,300.60 L261.79,300.60 L261.99,300.60 L262.19,300.60 L262.39,300.60 L262.59,300.60 L262.79,300.60 L262.99,300.60 L263.19,300.60 L263.40,300.60 L263.60,300.60 L263.80,300.60 L264.00,300.60 L264.20,300.60 L264.40,300.60 L264.60,300.60 L264.80,300.60 L265.00,300.60 L265.20,300.60" fill="none" stroke="#62d062" stroke-width="0.9"/>
<path d="M188.80,300.60 L189.00,300.60 L189.20,300.60 L189.40,300.60 L189.60,300.60 L189.80,300.60 L190.00,300.60 L190.20,300.60 L190.40,300.60 L190.60,300.60 L190.81,300.60 L191.01,300.60 L191.21,300.60 L191.41,300.60 L191.61,300.60 L191.81,300.60 L192.01,300.60 L192.21,300.60 L192.41,300.60 L192.61,300.60 L192.81,300.60 L193.01,300.60 L193.21,300.60 L193.41,300.60 L193.61,300.60 L193.81,300.60 L194.01,300.60 L194.21,300.60 L194.41,300.60 L194.62,300.60 L194.82,300.60 L195.02,300.60 L195.22,300.60 L195.42,300.60 L195.62,300.59 L195.82,300.59 L196.02,300.59 L196.22,300.59 L196.42,300.59 L196.62,300.58 L196.82,300.58 L197.02,300.57 L197.22,300.56 L197.42,300.55 L197.62,300.54 L197.82,300.53 L198.02,300.52 L198.22,300.50 L198.43,300.48 L198.63,300.46 L198.83,300.44 L199.03,300.42 L199.23,300.39 L199.43,300.36 L199.63,300.33 L199.83,300.30 L200.03,300.26 L200.23,300.22 L200.43,300.13 L200.63,299.93 L200.83,299.42 L201.03,298.23 L201.23,295.74 L201.43,291.26 L201.63,284.42 L201.83,275.74 L202.03,266.93 L202.24,260.51 L202.44,258.66 L202.64,262.00 L202.84,269.24 L203.04,277.89 L203.24,285.62 L203.44,291.16 L203.64,294.46 L203.84,296.06 L204.04,296.67 L204.24,296.84 L204.44,296.85 L204.64,296.85 L204.84,296.88 L205.04,296.93 L205.24,297.01 L205.44,297.09 L205.64,297.18 L205.84,297.27 L206.05,297.36 L206.25,297.44 L206.45,297.52 L206.65,297.59 L206.85,297.66 L207.05,297.73 L207.25,297.78 L207.45,297.84 L207.65,297.88 L207.85,297.93 L208.05,297.97 L208.25,298.00 L208.45,298.04 L208.65,298.07 L208.85,298.09 L209.05,298.12 L209.25,298.14 L209.45,298.16 L209.65,298.18 L209.86,298.20 L210.06,298.21 L210.26,298.23 L210.46,298.24 L210.66,298.25 L210.86,298.27 L211.06,298.28 L211.26,298.29 L211.46,298.29 L211.66,298.30 L211.86,298.30 L212.06,298.30 L212.26,298.29 L212.46,298.27 L212.66,298.24 L212.86,298.18 L213.06,298.09 L213.26,297.96 L213.46,297.78 L213.67,297.52 L213.87,297.19 L214.07,296.77 L214.27,296.24 L214.47,295.63 L214.67,294.94 L214.87,294.20 L215.07,293.44 L215.27,292.70 L215.47,292.05 L215.67,291.53 L215.87,291.19 L216.07,291.06 L216.27,291.17 L216.47,291.51 L216.67,292.06 L216.87,292.78 L217.07,293.63 L217.27,294.55 L217.48,295.49 L217.68,296.39 L217.88,297.23 L218.08,297.97 L218.28,298.59 L218.48,299.11 L218.68,299.52 L218.88,299.84 L219.08,300.07 L219.28,300.24 L219.48,300.36 L219.68,300.45 L219.88,300.50 L220.08,300.54 L220.28,300.56 L220.48,300.57 L220.68,300.58 L220.88,300.59 L221.08,300.59 L221.29,300.59 L221.49,300.60 L221.69,300.60 L221.89,300.60 L222.09,300.60 L222.29,300.60 L222.49,300.60 L222.69,300.60 L222.89,300.60 L223.09,300.60 L223.29,300.60 L223.49,300.60 L223.69,300.60 L223.89,300.60 L224.09,300.60 L224.29,300.60 L224.49,300.60 L224.69,300.60 L224.89,300.60 L225.10,300.60 L225.30,300.60 L225.50,300.60 L225.70,300.60 L225.90,300.60 L226.10,300.60 L226.30,300.60 L226.50,300.60 L226.70,300.60 L226.90,300.60 L227.10,300.60 L227.30,300.60 L227.50,300.60 L227.70,300.60 L227.90,300.60 L228.10,300.60 L228.30,300.60 L228.50,300.60 L228.70,300.60 L228.90,300.60 L229.11,300.60 L229.31,300.60 L229.51,300.60 L229.71,300.60 L229.91,300.60 L230.11,300.60 L230.31,300.60 L230.51,300.60 L230.71,300.60 L230.91,300.60 L231.11,300.60 L231.31,300.60 L231.51,300.60 L231.71,300.60 L231.91,300.60 L232.11,300.60 L232.31,300.60 L232.51,300.60 L232.71,300.60 L232.92,300.60 L233.12,300.60 L233.32,300.60 L233.52,300.60 L233.72,300.60 L233.92,300.60 L234.12,300.60 L234.32,300.60 L234.52,300.60 L234.72,300.60 L234.92,300.60 L235.12,300.60 L235.32,300.60 L235.52,300.60 L235.72,300.60 L235.92,300.60 L236.12,300.60 L236.32,300.60 L236.52,300.60 L236.73,300.60 L236.93,300.60 L237.13,300.60 L237.33,300.60 L237.53,300.60 L237.73,300.60 L237.93,300.60 L238.13,300.60 L238.33,300.60 L238.53,300.60 L238.73,300.60 L238.93,300.60 L239.13,300.60 L239.33,300.60 L239.53,300.60 L239.73,300.60 L239.93,300.60 L240.13,300.60 L240.33,300.60 L240.54,300.60 L240.74,300.60 L240.94,300.60 L241.14,300.60 L241.34,300.60 L241.54,300.60 L241.74,300.60 L241.94,300.60 L242.14,300.60 L242.34,300.60 L242.54,300.60 L242.74,300.60 L242.94,300.60 L243.14,300.60 L243.34,300.60 L243.54,300.60 L243.74,300.60 L243.94,300.60 L244.14,300.60 L244.35,300.60 L244.55,300.60 L244.75,300.60 L244.95,300.60 L245.15,300.60 L245.35,300.60 L245.55,300.60 L245.75,300.60 L245.95,300.60 L246.15,300.60 L246.35,300.60 L246.55,300.60 L246.75,300.60 L246.95,300.60 L247.15,300.60 L247.35,300.60 L247.55,300.60 L247.75,300.60 L247.95,300.60 L248.16,300.60 L248.36,300.60 L248.56,300.60 L248.76,300.60 L248.96,300.60 L249.16,300.60 L249.36,300.60 L249.56,300.60 L249.76,300.60 L249.96,300.60 L250.16,300.60 L250.36,300.60 L250.56,300.60 L250.76,300.60 L250.96,300.60 L251.16,300.60 L251.36,300.60 L251.56,300.60 L251.76,300.60 L251.97,300.60 L252.17,300.60 L252.37,300.60 L252.57,300.60 L252.77,300.60 L252.97,300.60 L253.17,300.60 L253.37,300.60 L253.57,300.60 L253.77,300.60 L253.97,300.60 L254.17,300.60 L254.37,300.60 L254.57,300.60 L254.77,300.60 L254.97,300.60 L255.17,300.60 L255.37,300.60 L255.57,300.60 L255.78,300.60 L255.98,300.60 L256.18,300.60 L256.38,300.60 L256.58,300.60 L256.78,300.60 L256.98,300.60 L257.18,300.60 L257.38,300.60 L257.58,300.60 L257.78,300.60 L257.98,300.60 L258.18,300.60 L258.38,300.60 L258.58,300.60 L258.78,300.60 L258.98,300.60 L259.18,300.60 L259.38,300.60 L259.59,300.60 L259.79,300.60 L259.99,300.60 L260.19,300.60 L260.39,300.60 L260.59,300.60 L260.79,300.60 L260.99,300.60 L261.19,300.60 L261.39,300.60 L261.59,300.60 L261.79,300.60 L261.99,300.60 L262.19,300.60 L262.39,300.60 L262.59,300.60 L262.79,300.60 L262.99,300.60 L263.19,300.60 L263.40,300.60 L263.60,300.60 L263.80,300.60 L264.00,300.60 L264.20,300.60 L264.40,300.60 L264.60,300.60 L264.80,300.60 L265.00,300.60 L265.20,300.60" fill="none" stroke="#a85a3a" stroke-width="0.9" opacity="0.72"/>
<rect x="90.5" y="312.8" width="81.0" height="74.5" fill="#fff" stroke="#b4b4b4" stroke-width="1.1"/>
<line x1="90.5" y1="312.3" x2="90.5" y2="387.8" stroke="#858585" stroke-width="1.1" />
<line x1="105.78301886792453" y1="387.3" x2="105.78301886792453" y2="388.3" stroke="#bbb" stroke-width="0.6" />
<line x1="121.06603773584905" y1="387.3" x2="121.06603773584905" y2="388.3" stroke="#bbb" stroke-width="0.6" />
<line x1="136.3490566037736" y1="387.3" x2="136.3490566037736" y2="388.3" stroke="#bbb" stroke-width="0.6" />
<line x1="151.6320754716981" y1="387.3" x2="151.6320754716981" y2="388.3" stroke="#bbb" stroke-width="0.6" />
<line x1="166.91509433962264" y1="387.3" x2="166.91509433962264" y2="388.3" stroke="#bbb" stroke-width="0.6" />
<path d="M91.30,386.60 L91.50,386.60 L91.70,386.60 L91.90,386.60 L92.10,386.60 L92.30,386.60 L92.50,386.60 L92.70,386.60 L92.90,386.60 L93.10,386.60 L93.31,386.60 L93.51,386.60 L93.71,386.60 L93.91,386.60 L94.11,386.60 L94.31,386.60 L94.51,386.60 L94.71,386.60 L94.91,386.60 L95.11,386.60 L95.31,386.60 L95.51,386.60 L95.71,386.60 L95.91,386.60 L96.11,386.60 L96.31,386.60 L96.51,386.60 L96.71,386.60 L96.91,386.60 L97.11,386.60 L97.32,386.60 L97.52,386.60 L97.72,386.60 L97.92,386.60 L98.12,386.60 L98.32,386.60 L98.52,386.60 L98.72,386.60 L98.92,386.60 L99.12,386.60 L99.32,386.59 L99.52,386.59 L99.72,386.59 L99.92,386.59 L100.12,386.58 L100.32,386.58 L100.52,386.57 L100.72,386.57 L100.92,386.56 L101.12,386.55 L101.33,386.53 L101.53,386.52 L101.73,386.50 L101.93,386.48 L102.13,386.46 L102.33,386.43 L102.53,386.40 L102.73,386.37 L102.93,386.33 L103.13,386.29 L103.33,386.25 L103.53,386.21 L103.73,386.16 L103.93,386.11 L104.13,386.04 L104.33,385.92 L104.53,385.62 L104.73,384.87 L104.93,383.10 L105.13,379.42 L105.34,372.81 L105.54,362.72 L105.74,349.95 L105.94,337.05 L106.14,327.74 L106.34,325.23 L106.54,330.40 L106.74,341.34 L106.94,354.39 L107.14,366.11 L107.34,374.63 L107.54,379.82 L107.74,382.47 L107.94,383.61 L108.14,384.03 L108.34,384.17 L108.54,384.23 L108.74,384.28 L108.94,384.34 L109.14,384.41 L109.35,384.48 L109.55,384.55 L109.75,384.63 L109.95,384.70 L110.15,384.76 L110.35,384.82 L110.55,384.88 L110.75,384.93 L110.95,384.97 L111.15,385.02 L111.35,385.05 L111.55,385.09 L111.75,385.12 L111.95,385.14 L112.15,385.17 L112.35,385.19 L112.55,385.21 L112.75,385.23 L112.95,385.24 L113.16,385.25 L113.36,385.27 L113.56,385.28 L113.76,385.29 L113.96,385.30 L114.16,385.31 L114.36,385.31 L114.56,385.32 L114.76,385.33 L114.96,385.33 L115.16,385.34 L115.36,385.34 L115.56,385.35 L115.76,385.35 L115.96,385.35 L116.16,385.36 L116.36,385.36 L116.56,385.36 L116.76,385.36 L116.96,385.36 L117.17,385.35 L117.37,385.34 L117.57,385.32 L117.77,385.30 L117.97,385.25 L118.17,385.19 L118.37,385.11 L118.57,385.00 L118.77,384.86 L118.97,384.69 L119.17,384.48 L119.37,384.26 L119.57,384.02 L119.77,383.77 L119.97,383.54 L120.17,383.33 L120.37,383.18 L120.57,383.08 L120.77,383.07 L120.97,383.13 L121.18,383.28 L121.38,383.50 L121.58,383.78 L121.78,384.09 L121.98,384.43 L122.18,384.77 L122.38,385.10 L122.58,385.40 L122.78,385.66 L122.98,385.88 L123.18,386.07 L123.38,386.21 L123.58,386.33 L123.78,386.41 L123.98,386.47 L124.18,386.51 L124.38,386.54 L124.58,386.56 L124.78,386.57 L124.98,386.58 L125.19,386.59 L125.39,386.59 L125.59,386.59 L125.79,386.60 L125.99,386.60 L126.19,386.60 L126.39,386.60 L126.59,386.60 L126.79,386.60 L126.99,386.60 L127.19,386.60 L127.39,386.60 L127.59,386.60 L127.79,386.60 L127.99,386.60 L128.19,386.60 L128.39,386.60 L128.59,386.60 L128.79,386.60 L128.99,386.60 L129.20,386.60 L129.40,386.60 L129.60,386.60 L129.80,386.60 L130.00,386.60 L130.20,386.60 L130.40,386.60 L130.60,386.60 L130.80,386.60 L131.00,386.60 L131.20,386.60 L131.40,386.60 L131.60,386.60 L131.80,386.60 L132.00,386.60 L132.20,386.60 L132.40,386.60 L132.60,386.60 L132.80,386.60 L133.01,386.60 L133.21,386.60 L133.41,386.60 L133.61,386.60 L133.81,386.60 L134.01,386.60 L134.21,386.60 L134.41,386.60 L134.61,386.60 L134.81,386.60 L135.01,386.60 L135.21,386.60 L135.41,386.60 L135.61,386.60 L135.81,386.60 L136.01,386.60 L136.21,386.60 L136.41,386.60 L136.61,386.60 L136.81,386.60 L137.02,386.60 L137.22,386.60 L137.42,386.60 L137.62,386.60 L137.82,386.60 L138.02,386.60 L138.22,386.60 L138.42,386.60 L138.62,386.60 L138.82,386.60 L139.02,386.60 L139.22,386.60 L139.42,386.60 L139.62,386.60 L139.82,386.60 L140.02,386.60 L140.22,386.60 L140.42,386.60 L140.62,386.60 L140.82,386.60 L141.03,386.60 L141.23,386.60 L141.43,386.60 L141.63,386.60 L141.83,386.60 L142.03,386.60 L142.23,386.60 L142.43,386.60 L142.63,386.60 L142.83,386.60 L143.03,386.60 L143.23,386.60 L143.43,386.60 L143.63,386.60 L143.83,386.60 L144.03,386.60 L144.23,386.60 L144.43,386.60 L144.63,386.60 L144.83,386.60 L145.04,386.60 L145.24,386.60 L145.44,386.60 L145.64,386.60 L145.84,386.60 L146.04,386.60 L146.24,386.60 L146.44,386.60 L146.64,386.60 L146.84,386.60 L147.04,386.60 L147.24,386.60 L147.44,386.60 L147.64,386.60 L147.84,386.60 L148.04,386.60 L148.24,386.60 L148.44,386.60 L148.64,386.60 L148.84,386.60 L149.05,386.60 L149.25,386.60 L149.45,386.60 L149.65,386.60 L149.85,386.60 L150.05,386.60 L150.25,386.60 L150.45,386.60 L150.65,386.60 L150.85,386.60 L151.05,386.60 L151.25,386.60 L151.45,386.60 L151.65,386.60 L151.85,386.60 L152.05,386.60 L152.25,386.60 L152.45,386.60 L152.65,386.60 L152.86,386.60 L153.06,386.60 L153.26,386.60 L153.46,386.60 L153.66,386.60 L153.86,386.60 L154.06,386.60 L154.26,386.60 L154.46,386.60 L154.66,386.60 L154.86,386.60 L155.06,386.60 L155.26,386.60 L155.46,386.60 L155.66,386.60 L155.86,386.60 L156.06,386.60 L156.26,386.60 L156.46,386.60 L156.66,386.60 L156.87,386.60 L157.07,386.60 L157.27,386.60 L157.47,386.60 L157.67,386.60 L157.87,386.60 L158.07,386.60 L158.27,386.60 L158.47,386.60 L158.67,386.60 L158.87,386.60 L159.07,386.60 L159.27,386.60 L159.47,386.60 L159.67,386.60 L159.87,386.60 L160.07,386.60 L160.27,386.60 L160.47,386.60 L160.67,386.60 L160.88,386.60 L161.08,386.60 L161.28,386.60 L161.48,386.60 L161.68,386.60 L161.88,386.60 L162.08,386.60 L162.28,386.60 L162.48,386.60 L162.68,386.60 L162.88,386.60 L163.08,386.60 L163.28,386.60 L163.48,386.60 L163.68,386.60 L163.88,386.60 L164.08,386.60 L164.28,386.60 L164.48,386.60 L164.68,386.60 L164.89,386.60 L165.09,386.60 L165.29,386.60 L165.49,386.60 L165.69,386.60 L165.89,386.60 L166.09,386.60 L166.29,386.60 L166.49,386.60 L166.69,386.60 L166.89,386.60 L167.09,386.60 L167.29,386.60 L167.49,386.60 L167.69,386.60 L167.89,386.60 L168.09,386.60 L168.29,386.60 L168.49,386.60 L168.69,386.60 L168.90,386.60 L169.10,386.60 L169.30,386.60 L169.50,386.60 L169.70,386.60 L169.90,386.60 L170.10,386.60 L170.30,386.60 L170.50,386.60 L170.70,386.60" fill="none" stroke="#62d062" stroke-width="0.9"/>
<path d="M91.30,386.60 L91.50,386.60 L91.70,386.60 L91.90,386.60 L92.10,386.60 L92.30,386.60 L92.50,386.60 L92.70,386.60 L92.90,386.60 L93.10,386.60 L93.31,386.60 L93.51,386.60 L93.71,386.60 L93.91,386.60 L94.11,386.60 L94.31,386.60 L94.51,386.60 L94.71,386.60 L94.91,386.60 L95.11,386.60 L95.31,386.60 L95.51,386.60 L95.71,386.60 L95.91,386.60 L96.11,386.60 L96.31,386.60 L96.51,386.60 L96.71,386.60 L96.91,386.60 L97.11,386.60 L97.32,386.60 L97.52,386.60 L97.72,386.60 L97.92,386.60 L98.12,386.60 L98.32,386.60 L98.52,386.60 L98.72,386.60 L98.92,386.60 L99.12,386.60 L99.32,386.59 L99.52,386.59 L99.72,386.59 L99.92,386.59 L100.12,386.58 L100.32,386.58 L100.52,386.57 L100.72,386.57 L100.92,386.56 L101.12,386.55 L101.33,386.54 L101.53,386.52 L101.73,386.51 L101.93,386.49 L102.13,386.47 L102.33,386.44 L102.53,386.42 L102.73,386.39 L102.93,386.35 L103.13,386.32 L103.33,386.28 L103.53,386.24 L103.73,386.19 L103.93,386.14 L104.13,386.08 L104.33,385.96 L104.53,385.69 L104.73,385.00 L104.93,383.36 L105.13,379.95 L105.34,373.82 L105.54,364.49 L105.74,352.67 L105.94,340.72 L106.14,332.08 L106.34,329.71 L106.54,334.44 L106.74,344.47 L106.94,356.43 L107.14,367.15 L107.34,374.90 L107.54,379.58 L107.74,381.92 L107.94,382.89 L108.14,383.22 L108.34,383.31 L108.54,383.34 L108.74,383.39 L108.94,383.45 L109.14,383.52 L109.35,383.61 L109.55,383.70 L109.75,383.78 L109.95,383.87 L110.15,383.95 L110.35,384.02 L110.55,384.09 L110.75,384.16 L110.95,384.22 L111.15,384.27 L111.35,384.32 L111.55,384.36 L111.75,384.40 L111.95,384.43 L112.15,384.47 L112.35,384.50 L112.55,384.52 L112.75,384.55 L112.95,384.57 L113.16,384.59 L113.36,384.60 L113.56,384.62 L113.76,384.63 L113.96,384.65 L114.16,384.66 L114.36,384.67 L114.56,384.68 L114.76,384.69 L114.96,384.70 L115.16,384.71 L115.36,384.71 L115.56,384.72 L115.76,384.73 L115.96,384.73 L116.16,384.74 L116.36,384.74 L116.56,384.74 L116.76,384.74 L116.96,384.74 L117.17,384.73 L117.37,384.72 L117.57,384.69 L117.77,384.65 L117.97,384.59 L118.17,384.51 L118.37,384.39 L118.57,384.23 L118.77,384.04 L118.97,383.80 L119.17,383.51 L119.37,383.20 L119.57,382.86 L119.77,382.51 L119.97,382.19 L120.17,381.91 L120.37,381.69 L120.57,381.57 L120.77,381.55 L120.97,381.65 L121.18,381.86 L121.38,382.18 L121.58,382.58 L121.78,383.03 L121.98,383.52 L122.18,384.00 L122.38,384.47 L122.58,384.89 L122.78,385.27 L122.98,385.58 L123.18,385.84 L123.38,386.05 L123.58,386.21 L123.78,386.33 L123.98,386.41 L124.18,386.47 L124.38,386.52 L124.58,386.55 L124.78,386.56 L124.98,386.58 L125.19,386.58 L125.39,386.59 L125.59,386.59 L125.79,386.59 L125.99,386.60 L126.19,386.60 L126.39,386.60 L126.59,386.60 L126.79,386.60 L126.99,386.60 L127.19,386.60 L127.39,386.60 L127.59,386.60 L127.79,386.60 L127.99,386.60 L128.19,386.60 L128.39,386.60 L128.59,386.60 L128.79,386.60 L128.99,386.60 L129.20,386.60 L129.40,386.60 L129.60,386.60 L129.80,386.60 L130.00,386.60 L130.20,386.60 L130.40,386.60 L130.60,386.60 L130.80,386.60 L131.00,386.60 L131.20,386.60 L131.40,386.60 L131.60,386.60 L131.80,386.60 L132.00,386.60 L132.20,386.60 L132.40,386.60 L132.60,386.60 L132.80,386.60 L133.01,386.60 L133.21,386.60 L133.41,386.60 L133.61,386.60 L133.81,386.60 L134.01,386.60 L134.21,386.60 L134.41,386.60 L134.61,386.60 L134.81,386.60 L135.01,386.60 L135.21,386.60 L135.41,386.60 L135.61,386.60 L135.81,386.60 L136.01,386.60 L136.21,386.60 L136.41,386.60 L136.61,386.60 L136.81,386.60 L137.02,386.60 L137.22,386.60 L137.42,386.60 L137.62,386.60 L137.82,386.60 L138.02,386.60 L138.22,386.60 L138.42,386.60 L138.62,386.60 L138.82,386.60 L139.02,386.60 L139.22,386.60 L139.42,386.60 L139.62,386.60 L139.82,386.60 L140.02,386.60 L140.22,386.60 L140.42,386.60 L140.62,386.60 L140.82,386.60 L141.03,386.60 L141.23,386.60 L141.43,386.60 L141.63,386.60 L141.83,386.60 L142.03,386.60 L142.23,386.60 L142.43,386.60 L142.63,386.60 L142.83,386.60 L143.03,386.60 L143.23,386.60 L143.43,386.60 L143.63,386.60 L143.83,386.60 L144.03,386.60 L144.23,386.60 L144.43,386.60 L144.63,386.60 L144.83,386.60 L145.04,386.60 L145.24,386.60 L145.44,386.60 L145.64,386.60 L145.84,386.60 L146.04,386.60 L146.24,386.60 L146.44,386.60 L146.64,386.60 L146.84,386.60 L147.04,386.60 L147.24,386.60 L147.44,386.60 L147.64,386.60 L147.84,386.60 L148.04,386.60 L148.24,386.60 L148.44,386.60 L148.64,386.60 L148.84,386.60 L149.05,386.60 L149.25,386.60 L149.45,386.60 L149.65,386.60 L149.85,386.60 L150.05,386.60 L150.25,386.60 L150.45,386.60 L150.65,386.60 L150.85,386.60 L151.05,386.60 L151.25,386.60 L151.45,386.60 L151.65,386.60 L151.85,386.60 L152.05,386.60 L152.25,386.60 L152.45,386.60 L152.65,386.60 L152.86,386.60 L153.06,386.60 L153.26,386.60 L153.46,386.60 L153.66,386.60 L153.86,386.60 L154.06,386.60 L154.26,386.60 L154.46,386.60 L154.66,386.60 L154.86,386.60 L155.06,386.60 L155.26,386.60 L155.46,386.60 L155.66,386.60 L155.86,386.60 L156.06,386.60 L156.26,386.60 L156.46,386.60 L156.66,386.60 L156.87,386.60 L157.07,386.60 L157.27,386.60 L157.47,386.60 L157.67,386.60 L157.87,386.60 L158.07,386.60 L158.27,386.60 L158.47,386.60 L158.67,386.60 L158.87,386.60 L159.07,386.60 L159.27,386.60 L159.47,386.60 L159.67,386.60 L159.87,386.60 L160.07,386.60 L160.27,386.60 L160.47,386.60 L160.67,386.60 L160.88,386.60 L161.08,386.60 L161.28,386.60 L161.48,386.60 L161.68,386.60 L161.88,386.60 L162.08,386.60 L162.28,386.60 L162.48,386.60 L162.68,386.60 L162.88,386.60 L163.08,386.60 L163.28,386.60 L163.48,386.60 L163.68,386.60 L163.88,386.60 L164.08,386.60 L164.28,386.60 L164.48,386.60 L164.68,386.60 L164.89,386.60 L165.09,386.60 L165.29,386.60 L165.49,386.60 L165.69,386.60 L165.89,386.60 L166.09,386.60 L166.29,386.60 L166.49,386.60 L166.69,386.60 L166.89,386.60 L167.09,386.60 L167.29,386.60 L167.49,386.60 L167.69,386.60 L167.89,386.60 L168.09,386.60 L168.29,386.60 L168.49,386.60 L168.69,386.60 L168.90,386.60 L169.10,386.60 L169.30,386.60 L169.50,386.60 L169.70,386.60 L169.90,386.60 L170.10,386.60 L170.30,386.60 L170.50,386.60 L170.70,386.60" fill="none" stroke="#a85a3a" stroke-width="0.9" opacity="0.72"/>
<text x="86.5" y="314.5" font-size="4.3" text-anchor="end" fill="#6a6a6a" >2000</text>
<line x1="88.7" y1="313" x2="90.5" y2="313" stroke="#999" stroke-width="0.5" />
<text x="86.5" y="332.9" font-size="4.3" text-anchor="end" fill="#6a6a6a" >1500</text>
<line x1="88.7" y1="331.4" x2="90.5" y2="331.4" stroke="#999" stroke-width="0.5" />
<text x="86.5" y="351.3" font-size="4.3" text-anchor="end" fill="#6a6a6a" >1000</text>
<line x1="88.7" y1="349.8" x2="90.5" y2="349.8" stroke="#999" stroke-width="0.5" />
<text x="86.5" y="370.0" font-size="4.3" text-anchor="end" fill="#6a6a6a" >500</text>
<line x1="88.7" y1="368.5" x2="90.5" y2="368.5" stroke="#999" stroke-width="0.5" />
<text x="86.5" y="388.8" font-size="4.3" text-anchor="end" fill="#6a6a6a" >0</text>
<line x1="88.7" y1="387.3" x2="90.5" y2="387.3" stroke="#999" stroke-width="0.5" />
<text transform="translate(74.6,350.05) rotate(-90)" font-size="4.2" font-weight="bold" fill="#444" text-anchor="middle"># Cells</text>
<rect x="186.8" y="312.6" width="80.80000000000001" height="73.0" fill="#fff" stroke="#b4b4b4" stroke-width="1.1"/>
<line x1="186.8" y1="312.1" x2="186.8" y2="386.1" stroke="#858585" stroke-width="1.1" />
<line x1="202.04528301886793" y1="385.6" x2="202.04528301886793" y2="386.6" stroke="#bbb" stroke-width="0.6" />
<line x1="217.29056603773586" y1="385.6" x2="217.29056603773586" y2="386.6" stroke="#bbb" stroke-width="0.6" />
<line x1="232.5358490566038" y1="385.6" x2="232.5358490566038" y2="386.6" stroke="#bbb" stroke-width="0.6" />
<line x1="247.7811320754717" y1="385.6" x2="247.7811320754717" y2="386.6" stroke="#bbb" stroke-width="0.6" />
<line x1="263.02641509433965" y1="385.6" x2="263.02641509433965" y2="386.6" stroke="#bbb" stroke-width="0.6" />
<path d="M187.60,384.90 L187.80,384.90 L188.00,384.90 L188.20,384.90 L188.40,384.90 L188.60,384.90 L188.80,384.90 L189.00,384.90 L189.20,384.90 L189.40,384.90 L189.61,384.90 L189.81,384.90 L190.01,384.90 L190.21,384.90 L190.41,384.90 L190.61,384.90 L190.81,384.90 L191.01,384.90 L191.21,384.90 L191.41,384.90 L191.61,384.90 L191.81,384.90 L192.01,384.90 L192.21,384.90 L192.41,384.90 L192.61,384.90 L192.81,384.90 L193.01,384.90 L193.21,384.90 L193.41,384.90 L193.62,384.90 L193.82,384.90 L194.02,384.90 L194.22,384.90 L194.42,384.90 L194.62,384.90 L194.82,384.90 L195.02,384.90 L195.22,384.89 L195.42,384.89 L195.62,384.89 L195.82,384.89 L196.02,384.88 L196.22,384.88 L196.42,384.87 L196.62,384.86 L196.82,384.85 L197.02,384.84 L197.22,384.83 L197.42,384.81 L197.63,384.79 L197.83,384.77 L198.03,384.75 L198.23,384.72 L198.43,384.69 L198.63,384.65 L198.83,384.62 L199.03,384.58 L199.23,384.53 L199.43,384.48 L199.63,384.43 L199.83,384.38 L200.03,384.31 L200.23,384.17 L200.43,383.86 L200.63,383.07 L200.83,381.19 L201.03,377.28 L201.23,370.25 L201.43,359.52 L201.64,345.92 L201.84,332.17 L202.04,322.24 L202.24,319.53 L202.44,325.04 L202.64,336.71 L202.84,350.65 L203.04,363.21 L203.24,372.37 L203.44,377.96 L203.64,380.83 L203.84,382.09 L204.04,382.56 L204.24,382.73 L204.44,382.80 L204.64,382.86 L204.84,382.92 L205.04,382.99 L205.24,383.06 L205.45,383.13 L205.65,383.20 L205.85,383.26 L206.05,383.32 L206.25,383.38 L206.45,383.43 L206.65,383.48 L206.85,383.52 L207.05,383.56 L207.25,383.60 L207.45,383.63 L207.65,383.66 L207.85,383.68 L208.05,383.70 L208.25,383.72 L208.45,383.74 L208.65,383.75 L208.85,383.77 L209.05,383.78 L209.25,383.79 L209.46,383.80 L209.66,383.81 L209.86,383.81 L210.06,383.82 L210.26,383.83 L210.46,383.83 L210.66,383.84 L210.86,383.84 L211.06,383.85 L211.26,383.85 L211.46,383.86 L211.66,383.86 L211.86,383.86 L212.06,383.87 L212.26,383.87 L212.46,383.87 L212.66,383.87 L212.86,383.87 L213.06,383.86 L213.26,383.85 L213.47,383.84 L213.67,383.82 L213.87,383.78 L214.07,383.72 L214.27,383.65 L214.47,383.54 L214.67,383.40 L214.87,383.22 L215.07,383.01 L215.27,382.75 L215.47,382.47 L215.67,382.16 L215.87,381.85 L216.07,381.54 L216.27,381.28 L216.47,381.06 L216.67,380.93 L216.87,380.88 L217.07,380.93 L217.27,381.08 L217.48,381.31 L217.68,381.62 L217.88,381.98 L218.08,382.37 L218.28,382.76 L218.48,383.14 L218.68,383.49 L218.88,383.80 L219.08,384.06 L219.28,384.28 L219.48,384.45 L219.68,384.58 L219.88,384.68 L220.08,384.75 L220.28,384.80 L220.48,384.84 L220.68,384.86 L220.88,384.87 L221.08,384.88 L221.29,384.89 L221.49,384.89 L221.69,384.90 L221.89,384.90 L222.09,384.90 L222.29,384.90 L222.49,384.90 L222.69,384.90 L222.89,384.90 L223.09,384.90 L223.29,384.90 L223.49,384.90 L223.69,384.90 L223.89,384.90 L224.09,384.90 L224.29,384.90 L224.49,384.90 L224.69,384.90 L224.89,384.90 L225.09,384.90 L225.30,384.90 L225.50,384.90 L225.70,384.90 L225.90,384.90 L226.10,384.90 L226.30,384.90 L226.50,384.90 L226.70,384.90 L226.90,384.90 L227.10,384.90 L227.30,384.90 L227.50,384.90 L227.70,384.90 L227.90,384.90 L228.10,384.90 L228.30,384.90 L228.50,384.90 L228.70,384.90 L228.90,384.90 L229.10,384.90 L229.31,384.90 L229.51,384.90 L229.71,384.90 L229.91,384.90 L230.11,384.90 L230.31,384.90 L230.51,384.90 L230.71,384.90 L230.91,384.90 L231.11,384.90 L231.31,384.90 L231.51,384.90 L231.71,384.90 L231.91,384.90 L232.11,384.90 L232.31,384.90 L232.51,384.90 L232.71,384.90 L232.91,384.90 L233.11,384.90 L233.32,384.90 L233.52,384.90 L233.72,384.90 L233.92,384.90 L234.12,384.90 L234.32,384.90 L234.52,384.90 L234.72,384.90 L234.92,384.90 L235.12,384.90 L235.32,384.90 L235.52,384.90 L235.72,384.90 L235.92,384.90 L236.12,384.90 L236.32,384.90 L236.52,384.90 L236.72,384.90 L236.92,384.90 L237.13,384.90 L237.33,384.90 L237.53,384.90 L237.73,384.90 L237.93,384.90 L238.13,384.90 L238.33,384.90 L238.53,384.90 L238.73,384.90 L238.93,384.90 L239.13,384.90 L239.33,384.90 L239.53,384.90 L239.73,384.90 L239.93,384.90 L240.13,384.90 L240.33,384.90 L240.53,384.90 L240.73,384.90 L240.93,384.90 L241.14,384.90 L241.34,384.90 L241.54,384.90 L241.74,384.90 L241.94,384.90 L242.14,384.90 L242.34,384.90 L242.54,384.90 L242.74,384.90 L242.94,384.90 L243.14,384.90 L243.34,384.90 L243.54,384.90 L243.74,384.90 L243.94,384.90 L244.14,384.90 L244.34,384.90 L244.54,384.90 L244.74,384.90 L244.94,384.90 L245.15,384.90 L245.35,384.90 L245.55,384.90 L245.75,384.90 L245.95,384.90 L246.15,384.90 L246.35,384.90 L246.55,384.90 L246.75,384.90 L246.95,384.90 L247.15,384.90 L247.35,384.90 L247.55,384.90 L247.75,384.90 L247.95,384.90 L248.15,384.90 L248.35,384.90 L248.55,384.90 L248.75,384.90 L248.95,384.90 L249.16,384.90 L249.36,384.90 L249.56,384.90 L249.76,384.90 L249.96,384.90 L250.16,384.90 L250.36,384.90 L250.56,384.90 L250.76,384.90 L250.96,384.90 L251.16,384.90 L251.36,384.90 L251.56,384.90 L251.76,384.90 L251.96,384.90 L252.16,384.90 L252.36,384.90 L252.56,384.90 L252.76,384.90 L252.97,384.90 L253.17,384.90 L253.37,384.90 L253.57,384.90 L253.77,384.90 L253.97,384.90 L254.17,384.90 L254.37,384.90 L254.57,384.90 L254.77,384.90 L254.97,384.90 L255.17,384.90 L255.37,384.90 L255.57,384.90 L255.77,384.90 L255.97,384.90 L256.17,384.90 L256.37,384.90 L256.57,384.90 L256.77,384.90 L256.98,384.90 L257.18,384.90 L257.38,384.90 L257.58,384.90 L257.78,384.90 L257.98,384.90 L258.18,384.90 L258.38,384.90 L258.58,384.90 L258.78,384.90 L258.98,384.90 L259.18,384.90 L259.38,384.90 L259.58,384.90 L259.78,384.90 L259.98,384.90 L260.18,384.90 L260.38,384.90 L260.58,384.90 L260.78,384.90 L260.99,384.90 L261.19,384.90 L261.39,384.90 L261.59,384.90 L261.79,384.90 L261.99,384.90 L262.19,384.90 L262.39,384.90 L262.59,384.90 L262.79,384.90 L262.99,384.90 L263.19,384.90 L263.39,384.90 L263.59,384.90 L263.79,384.90 L263.99,384.90 L264.19,384.90 L264.39,384.90 L264.59,384.90 L264.79,384.90 L265.00,384.90 L265.20,384.90 L265.40,384.90 L265.60,384.90 L265.80,384.90 L266.00,384.90 L266.20,384.90 L266.40,384.90 L266.60,384.90 L266.80,384.90" fill="none" stroke="#62d062" stroke-width="0.9"/>
<path d="M187.60,384.90 L187.80,384.90 L188.00,384.90 L188.20,384.90 L188.40,384.90 L188.60,384.90 L188.80,384.90 L189.00,384.90 L189.20,384.90 L189.40,384.90 L189.61,384.90 L189.81,384.90 L190.01,384.90 L190.21,384.90 L190.41,384.90 L190.61,384.90 L190.81,384.90 L191.01,384.90 L191.21,384.90 L191.41,384.90 L191.61,384.90 L191.81,384.90 L192.01,384.90 L192.21,384.90 L192.41,384.90 L192.61,384.90 L192.81,384.90 L193.01,384.90 L193.21,384.90 L193.41,384.90 L193.62,384.90 L193.82,384.90 L194.02,384.90 L194.22,384.90 L194.42,384.90 L194.62,384.90 L194.82,384.90 L195.02,384.90 L195.22,384.90 L195.42,384.89 L195.62,384.89 L195.82,384.89 L196.02,384.89 L196.22,384.88 L196.42,384.88 L196.62,384.87 L196.82,384.86 L197.02,384.85 L197.22,384.84 L197.42,384.83 L197.63,384.82 L197.83,384.80 L198.03,384.78 L198.23,384.76 L198.43,384.73 L198.63,384.70 L198.83,384.67 L199.03,384.64 L199.23,384.61 L199.43,384.57 L199.63,384.53 L199.83,384.48 L200.03,384.42 L200.23,384.32 L200.43,384.07 L200.63,383.43 L200.83,381.95 L201.03,378.85 L201.23,373.29 L201.43,364.81 L201.64,354.05 L201.84,343.15 L202.04,335.23 L202.24,332.98 L202.44,337.15 L202.64,346.12 L202.84,356.81 L203.04,366.35 L203.24,373.17 L203.44,377.24 L203.64,379.20 L203.84,379.94 L204.04,380.13 L204.24,380.15 L204.44,380.15 L204.64,380.18 L204.84,380.24 L205.04,380.34 L205.24,380.44 L205.45,380.55 L205.65,380.67 L205.85,380.78 L206.05,380.89 L206.25,380.99 L206.45,381.08 L206.65,381.17 L206.85,381.24 L207.05,381.32 L207.25,381.38 L207.45,381.45 L207.65,381.50 L207.85,381.55 L208.05,381.60 L208.25,381.64 L208.45,381.68 L208.65,381.71 L208.85,381.74 L209.05,381.77 L209.25,381.80 L209.46,381.82 L209.66,381.84 L209.86,381.86 L210.06,381.88 L210.26,381.90 L210.46,381.92 L210.66,381.93 L210.86,381.94 L211.06,381.96 L211.26,381.97 L211.46,381.98 L211.66,381.99 L211.86,382.00 L212.06,382.00 L212.26,382.01 L212.46,382.02 L212.66,382.02 L212.86,382.02 L213.06,382.02 L213.26,382.02 L213.47,382.01 L213.67,381.98 L213.87,381.95 L214.07,381.90 L214.27,381.82 L214.47,381.71 L214.67,381.57 L214.87,381.39 L215.07,381.17 L215.27,380.91 L215.47,380.62 L215.67,380.32 L215.87,380.01 L216.07,379.73 L216.27,379.49 L216.47,379.33 L216.67,379.27 L216.87,379.31 L217.07,379.47 L217.27,379.75 L217.48,380.13 L217.68,380.59 L217.88,381.10 L218.08,381.63 L218.28,382.15 L218.48,382.65 L218.68,383.10 L218.88,383.49 L219.08,383.83 L219.28,384.10 L219.48,384.31 L219.68,384.48 L219.88,384.60 L220.08,384.69 L220.28,384.76 L220.48,384.80 L220.68,384.84 L220.88,384.86 L221.08,384.87 L221.29,384.88 L221.49,384.89 L221.69,384.89 L221.89,384.89 L222.09,384.89 L222.29,384.90 L222.49,384.90 L222.69,384.90 L222.89,384.90 L223.09,384.90 L223.29,384.90 L223.49,384.90 L223.69,384.90 L223.89,384.90 L224.09,384.90 L224.29,384.90 L224.49,384.90 L224.69,384.90 L224.89,384.90 L225.09,384.90 L225.30,384.90 L225.50,384.90 L225.70,384.90 L225.90,384.90 L226.10,384.90 L226.30,384.90 L226.50,384.90 L226.70,384.90 L226.90,384.90 L227.10,384.90 L227.30,384.90 L227.50,384.90 L227.70,384.90 L227.90,384.90 L228.10,384.90 L228.30,384.90 L228.50,384.90 L228.70,384.90 L228.90,384.90 L229.10,384.90 L229.31,384.90 L229.51,384.90 L229.71,384.90 L229.91,384.90 L230.11,384.90 L230.31,384.90 L230.51,384.90 L230.71,384.90 L230.91,384.90 L231.11,384.90 L231.31,384.90 L231.51,384.90 L231.71,384.90 L231.91,384.90 L232.11,384.90 L232.31,384.90 L232.51,384.90 L232.71,384.90 L232.91,384.90 L233.11,384.90 L233.32,384.90 L233.52,384.90 L233.72,384.90 L233.92,384.90 L234.12,384.90 L234.32,384.90 L234.52,384.90 L234.72,384.90 L234.92,384.90 L235.12,384.90 L235.32,384.90 L235.52,384.90 L235.72,384.90 L235.92,384.90 L236.12,384.90 L236.32,384.90 L236.52,384.90 L236.72,384.90 L236.92,384.90 L237.13,384.90 L237.33,384.90 L237.53,384.90 L237.73,384.90 L237.93,384.90 L238.13,384.90 L238.33,384.90 L238.53,384.90 L238.73,384.90 L238.93,384.90 L239.13,384.90 L239.33,384.90 L239.53,384.90 L239.73,384.90 L239.93,384.90 L240.13,384.90 L240.33,384.90 L240.53,384.90 L240.73,384.90 L240.93,384.90 L241.14,384.90 L241.34,384.90 L241.54,384.90 L241.74,384.90 L241.94,384.90 L242.14,384.90 L242.34,384.90 L242.54,384.90 L242.74,384.90 L242.94,384.90 L243.14,384.90 L243.34,384.90 L243.54,384.90 L243.74,384.90 L243.94,384.90 L244.14,384.90 L244.34,384.90 L244.54,384.90 L244.74,384.90 L244.94,384.90 L245.15,384.90 L245.35,384.90 L245.55,384.90 L245.75,384.90 L245.95,384.90 L246.15,384.90 L246.35,384.90 L246.55,384.90 L246.75,384.90 L246.95,384.90 L247.15,384.90 L247.35,384.90 L247.55,384.90 L247.75,384.90 L247.95,384.90 L248.15,384.90 L248.35,384.90 L248.55,384.90 L248.75,384.90 L248.95,384.90 L249.16,384.90 L249.36,384.90 L249.56,384.90 L249.76,384.90 L249.96,384.90 L250.16,384.90 L250.36,384.90 L250.56,384.90 L250.76,384.90 L250.96,384.90 L251.16,384.90 L251.36,384.90 L251.56,384.90 L251.76,384.90 L251.96,384.90 L252.16,384.90 L252.36,384.90 L252.56,384.90 L252.76,384.90 L252.97,384.90 L253.17,384.90 L253.37,384.90 L253.57,384.90 L253.77,384.90 L253.97,384.90 L254.17,384.90 L254.37,384.90 L254.57,384.90 L254.77,384.90 L254.97,384.90 L255.17,384.90 L255.37,384.90 L255.57,384.90 L255.77,384.90 L255.97,384.90 L256.17,384.90 L256.37,384.90 L256.57,384.90 L256.77,384.90 L256.98,384.90 L257.18,384.90 L257.38,384.90 L257.58,384.90 L257.78,384.90 L257.98,384.90 L258.18,384.90 L258.38,384.90 L258.58,384.90 L258.78,384.90 L258.98,384.90 L259.18,384.90 L259.38,384.90 L259.58,384.90 L259.78,384.90 L259.98,384.90 L260.18,384.90 L260.38,384.90 L260.58,384.90 L260.78,384.90 L260.99,384.90 L261.19,384.90 L261.39,384.90 L261.59,384.90 L261.79,384.90 L261.99,384.90 L262.19,384.90 L262.39,384.90 L262.59,384.90 L262.79,384.90 L262.99,384.90 L263.19,384.90 L263.39,384.90 L263.59,384.90 L263.79,384.90 L263.99,384.90 L264.19,384.90 L264.39,384.90 L264.59,384.90 L264.79,384.90 L265.00,384.90 L265.20,384.90 L265.40,384.90 L265.60,384.90 L265.80,384.90 L266.00,384.90 L266.20,384.90 L266.40,384.90 L266.60,384.90 L266.80,384.90" fill="none" stroke="#a85a3a" stroke-width="0.9" opacity="0.72"/>
<rect x="89.3" y="392.6" width="81.10000000000001" height="76.5" fill="#fff" stroke="#b4b4b4" stroke-width="1.1"/>
<line x1="89.3" y1="392.1" x2="89.3" y2="469.6" stroke="#858585" stroke-width="1.1" />
<line x1="104.60188679245283" y1="469.1" x2="104.60188679245283" y2="470.1" stroke="#bbb" stroke-width="0.6" />
<line x1="119.90377358490566" y1="469.1" x2="119.90377358490566" y2="470.1" stroke="#bbb" stroke-width="0.6" />
<line x1="135.2056603773585" y1="469.1" x2="135.2056603773585" y2="470.1" stroke="#bbb" stroke-width="0.6" />
<line x1="150.50754716981132" y1="469.1" x2="150.50754716981132" y2="470.1" stroke="#bbb" stroke-width="0.6" />
<line x1="165.80943396226417" y1="469.1" x2="165.80943396226417" y2="470.1" stroke="#bbb" stroke-width="0.6" />
<path d="M90.10,468.40 L90.30,468.40 L90.50,468.40 L90.70,468.40 L90.90,468.40 L91.10,468.40 L91.30,468.40 L91.50,468.40 L91.70,468.40 L91.90,468.40 L92.10,468.40 L92.30,468.40 L92.50,468.40 L92.70,468.40 L92.90,468.40 L93.10,468.40 L93.30,468.40 L93.50,468.40 L93.70,468.40 L93.90,468.40 L94.11,468.40 L94.31,468.40 L94.51,468.40 L94.71,468.40 L94.91,468.40 L95.11,468.40 L95.31,468.40 L95.51,468.40 L95.71,468.40 L95.91,468.40 L96.11,468.40 L96.31,468.40 L96.51,468.40 L96.71,468.40 L96.91,468.40 L97.11,468.40 L97.31,468.40 L97.51,468.39 L97.71,468.39 L97.91,468.39 L98.11,468.39 L98.31,468.38 L98.51,468.38 L98.71,468.37 L98.91,468.37 L99.11,468.36 L99.31,468.35 L99.51,468.34 L99.71,468.32 L99.91,468.31 L100.11,468.29 L100.31,468.27 L100.51,468.24 L100.71,468.21 L100.91,468.18 L101.11,468.15 L101.31,468.12 L101.51,468.08 L101.71,468.04 L101.91,467.99 L102.12,467.94 L102.32,467.87 L102.52,467.71 L102.72,467.33 L102.92,466.38 L103.12,464.26 L103.32,460.09 L103.52,453.08 L103.72,443.15 L103.92,431.58 L104.12,421.14 L104.32,415.06 L104.52,415.47 L104.72,422.12 L104.92,432.54 L105.12,443.43 L105.32,452.27 L105.52,458.14 L105.72,461.35 L105.92,462.77 L106.12,463.24 L106.32,463.32 L106.52,463.32 L106.72,463.33 L106.92,463.38 L107.12,463.46 L107.32,463.56 L107.52,463.68 L107.72,463.80 L107.92,463.92 L108.12,464.03 L108.32,464.15 L108.52,464.25 L108.72,464.35 L108.92,464.43 L109.12,464.52 L109.32,464.59 L109.52,464.66 L109.72,464.72 L109.92,464.78 L110.13,464.83 L110.33,464.88 L110.53,464.92 L110.73,464.96 L110.93,465.00 L111.13,465.03 L111.33,465.06 L111.53,465.09 L111.73,465.11 L111.93,465.13 L112.13,465.15 L112.33,465.17 L112.53,465.19 L112.73,465.21 L112.93,465.22 L113.13,465.24 L113.33,465.25 L113.53,465.26 L113.73,465.27 L113.93,465.28 L114.13,465.29 L114.33,465.30 L114.53,465.30 L114.73,465.31 L114.93,465.31 L115.13,465.31 L115.33,465.30 L115.53,465.28 L115.73,465.25 L115.93,465.19 L116.13,465.10 L116.33,464.98 L116.53,464.80 L116.73,464.56 L116.93,464.25 L117.13,463.86 L117.33,463.39 L117.53,462.84 L117.73,462.24 L117.94,461.60 L118.14,460.96 L118.34,460.38 L118.54,459.88 L118.74,459.52 L118.94,459.33 L119.14,459.35 L119.34,459.58 L119.54,460.01 L119.74,460.62 L119.94,461.37 L120.14,462.21 L120.34,463.08 L120.54,463.95 L120.74,464.77 L120.94,465.52 L121.14,466.16 L121.34,466.71 L121.54,467.15 L121.74,467.50 L121.94,467.76 L122.14,467.96 L122.34,468.10 L122.54,468.20 L122.74,468.27 L122.94,468.31 L123.14,468.34 L123.34,468.36 L123.54,468.38 L123.74,468.38 L123.94,468.39 L124.14,468.39 L124.34,468.39 L124.54,468.39 L124.74,468.40 L124.94,468.40 L125.14,468.40 L125.34,468.40 L125.54,468.40 L125.74,468.40 L125.95,468.40 L126.15,468.40 L126.35,468.40 L126.55,468.40 L126.75,468.40 L126.95,468.40 L127.15,468.40 L127.35,468.40 L127.55,468.40 L127.75,468.40 L127.95,468.40 L128.15,468.40 L128.35,468.40 L128.55,468.40 L128.75,468.40 L128.95,468.40 L129.15,468.40 L129.35,468.40 L129.55,468.40 L129.75,468.40 L129.95,468.40 L130.15,468.40 L130.35,468.40 L130.55,468.40 L130.75,468.40 L130.95,468.40 L131.15,468.40 L131.35,468.40 L131.55,468.40 L131.75,468.40 L131.95,468.40 L132.15,468.40 L132.35,468.40 L132.55,468.40 L132.75,468.40 L132.95,468.40 L133.15,468.40 L133.35,468.40 L133.55,468.40 L133.75,468.40 L133.96,468.40 L134.16,468.40 L134.36,468.40 L134.56,468.40 L134.76,468.40 L134.96,468.40 L135.16,468.40 L135.36,468.40 L135.56,468.40 L135.76,468.40 L135.96,468.40 L136.16,468.40 L136.36,468.40 L136.56,468.40 L136.76,468.40 L136.96,468.40 L137.16,468.40 L137.36,468.40 L137.56,468.40 L137.76,468.40 L137.96,468.40 L138.16,468.40 L138.36,468.40 L138.56,468.40 L138.76,468.40 L138.96,468.40 L139.16,468.40 L139.36,468.40 L139.56,468.40 L139.76,468.40 L139.96,468.40 L140.16,468.40 L140.36,468.40 L140.56,468.40 L140.76,468.40 L140.96,468.40 L141.16,468.40 L141.36,468.40 L141.56,468.40 L141.76,468.40 L141.97,468.40 L142.17,468.40 L142.37,468.40 L142.57,468.40 L142.77,468.40 L142.97,468.40 L143.17,468.40 L143.37,468.40 L143.57,468.40 L143.77,468.40 L143.97,468.40 L144.17,468.40 L144.37,468.40 L144.57,468.40 L144.77,468.40 L144.97,468.40 L145.17,468.40 L145.37,468.40 L145.57,468.40 L145.77,468.40 L145.97,468.40 L146.17,468.40 L146.37,468.40 L146.57,468.40 L146.77,468.40 L146.97,468.40 L147.17,468.40 L147.37,468.40 L147.57,468.40 L147.77,468.40 L147.97,468.40 L148.17,468.40 L148.37,468.40 L148.57,468.40 L148.77,468.40 L148.97,468.40 L149.17,468.40 L149.37,468.40 L149.57,468.40 L149.78,468.40 L149.98,468.40 L150.18,468.40 L150.38,468.40 L150.58,468.40 L150.78,468.40 L150.98,468.40 L151.18,468.40 L151.38,468.40 L151.58,468.40 L151.78,468.40 L151.98,468.40 L152.18,468.40 L152.38,468.40 L152.58,468.40 L152.78,468.40 L152.98,468.40 L153.18,468.40 L153.38,468.40 L153.58,468.40 L153.78,468.40 L153.98,468.40 L154.18,468.40 L154.38,468.40 L154.58,468.40 L154.78,468.40 L154.98,468.40 L155.18,468.40 L155.38,468.40 L155.58,468.40 L155.78,468.40 L155.98,468.40 L156.18,468.40 L156.38,468.40 L156.58,468.40 L156.78,468.40 L156.98,468.40 L157.18,468.40 L157.38,468.40 L157.58,468.40 L157.79,468.40 L157.99,468.40 L158.19,468.40 L158.39,468.40 L158.59,468.40 L158.79,468.40 L158.99,468.40 L159.19,468.40 L159.39,468.40 L159.59,468.40 L159.79,468.40 L159.99,468.40 L160.19,468.40 L160.39,468.40 L160.59,468.40 L160.79,468.40 L160.99,468.40 L161.19,468.40 L161.39,468.40 L161.59,468.40 L161.79,468.40 L161.99,468.40 L162.19,468.40 L162.39,468.40 L162.59,468.40 L162.79,468.40 L162.99,468.40 L163.19,468.40 L163.39,468.40 L163.59,468.40 L163.79,468.40 L163.99,468.40 L164.19,468.40 L164.39,468.40 L164.59,468.40 L164.79,468.40 L164.99,468.40 L165.19,468.40 L165.39,468.40 L165.59,468.40 L165.80,468.40 L166.00,468.40 L166.20,468.40 L166.40,468.40 L166.60,468.40 L166.80,468.40 L167.00,468.40 L167.20,468.40 L167.40,468.40 L167.60,468.40 L167.80,468.40 L168.00,468.40 L168.20,468.40 L168.40,468.40 L168.60,468.40 L168.80,468.40 L169.00,468.40 L169.20,468.40 L169.40,468.40 L169.60,468.40" fill="none" stroke="#62d062" stroke-width="0.9"/>
<path d="M90.10,468.40 L90.30,468.40 L90.50,468.40 L90.70,468.40 L90.90,468.40 L91.10,468.40 L91.30,468.40 L91.50,468.40 L91.70,468.40 L91.90,468.40 L92.10,468.40 L92.30,468.40 L92.50,468.40 L92.70,468.40 L92.90,468.40 L93.10,468.40 L93.30,468.40 L93.50,468.40 L93.70,468.40 L93.90,468.40 L94.11,468.40 L94.31,468.40 L94.51,468.40 L94.71,468.40 L94.91,468.40 L95.11,468.40 L95.31,468.40 L95.51,468.40 L95.71,468.40 L95.91,468.40 L96.11,468.40 L96.31,468.40 L96.51,468.40 L96.71,468.40 L96.91,468.40 L97.11,468.40 L97.31,468.39 L97.51,468.39 L97.71,468.39 L97.91,468.39 L98.11,468.38 L98.31,468.38 L98.51,468.37 L98.71,468.37 L98.91,468.36 L99.11,468.35 L99.31,468.34 L99.51,468.32 L99.71,468.30 L99.91,468.28 L100.11,468.26 L100.31,468.24 L100.51,468.21 L100.71,468.17 L100.91,468.14 L101.11,468.10 L101.31,468.05 L101.51,468.01 L101.71,467.96 L101.91,467.90 L102.12,467.84 L102.32,467.75 L102.52,467.56 L102.72,467.09 L102.92,465.94 L103.12,463.35 L103.32,458.28 L103.52,449.75 L103.72,437.66 L103.92,423.58 L104.12,410.85 L104.32,403.43 L104.52,403.87 L104.72,411.87 L104.92,424.42 L105.12,437.53 L105.32,448.11 L105.52,455.08 L105.72,458.85 L105.92,460.45 L106.12,460.92 L106.32,460.97 L106.52,460.92 L106.72,460.92 L106.92,460.98 L107.12,461.09 L107.32,461.23 L107.52,461.40 L107.72,461.57 L107.92,461.74 L108.12,461.90 L108.32,462.06 L108.52,462.21 L108.72,462.35 L108.92,462.48 L109.12,462.60 L109.32,462.70 L109.52,462.80 L109.72,462.89 L109.92,462.98 L110.13,463.05 L110.33,463.12 L110.53,463.19 L110.73,463.24 L110.93,463.30 L111.13,463.34 L111.33,463.39 L111.53,463.43 L111.73,463.47 L111.93,463.50 L112.13,463.53 L112.33,463.56 L112.53,463.59 L112.73,463.61 L112.93,463.63 L113.13,463.65 L113.33,463.67 L113.53,463.69 L113.73,463.71 L113.93,463.72 L114.13,463.74 L114.33,463.75 L114.53,463.76 L114.73,463.77 L114.93,463.77 L115.13,463.77 L115.33,463.77 L115.53,463.75 L115.73,463.72 L115.93,463.67 L116.13,463.59 L116.33,463.47 L116.53,463.30 L116.73,463.06 L116.93,462.76 L117.13,462.38 L117.33,461.93 L117.53,461.40 L117.73,460.82 L117.94,460.21 L118.14,459.61 L118.34,459.06 L118.54,458.62 L118.74,458.32 L118.94,458.22 L119.14,458.32 L119.34,458.65 L119.54,459.18 L119.74,459.90 L119.94,460.75 L120.14,461.69 L120.34,462.66 L120.54,463.61 L120.74,464.50 L120.94,465.30 L121.14,465.99 L121.34,466.58 L121.54,467.05 L121.74,467.42 L121.94,467.70 L122.14,467.91 L122.34,468.07 L122.54,468.17 L122.74,468.25 L122.94,468.30 L123.14,468.33 L123.34,468.35 L123.54,468.37 L123.74,468.38 L123.94,468.38 L124.14,468.39 L124.34,468.39 L124.54,468.39 L124.74,468.39 L124.94,468.40 L125.14,468.40 L125.34,468.40 L125.54,468.40 L125.74,468.40 L125.95,468.40 L126.15,468.40 L126.35,468.40 L126.55,468.40 L126.75,468.40 L126.95,468.40 L127.15,468.40 L127.35,468.40 L127.55,468.40 L127.75,468.40 L127.95,468.40 L128.15,468.40 L128.35,468.40 L128.55,468.40 L128.75,468.40 L128.95,468.40 L129.15,468.40 L129.35,468.40 L129.55,468.40 L129.75,468.40 L129.95,468.40 L130.15,468.40 L130.35,468.40 L130.55,468.40 L130.75,468.40 L130.95,468.40 L131.15,468.40 L131.35,468.40 L131.55,468.40 L131.75,468.40 L131.95,468.40 L132.15,468.40 L132.35,468.40 L132.55,468.40 L132.75,468.40 L132.95,468.40 L133.15,468.40 L133.35,468.40 L133.55,468.40 L133.75,468.40 L133.96,468.40 L134.16,468.40 L134.36,468.40 L134.56,468.40 L134.76,468.40 L134.96,468.40 L135.16,468.40 L135.36,468.40 L135.56,468.40 L135.76,468.40 L135.96,468.40 L136.16,468.40 L136.36,468.40 L136.56,468.40 L136.76,468.40 L136.96,468.40 L137.16,468.40 L137.36,468.40 L137.56,468.40 L137.76,468.40 L137.96,468.40 L138.16,468.40 L138.36,468.40 L138.56,468.40 L138.76,468.40 L138.96,468.40 L139.16,468.40 L139.36,468.40 L139.56,468.40 L139.76,468.40 L139.96,468.40 L140.16,468.40 L140.36,468.40 L140.56,468.40 L140.76,468.40 L140.96,468.40 L141.16,468.40 L141.36,468.40 L141.56,468.40 L141.76,468.40 L141.97,468.40 L142.17,468.40 L142.37,468.40 L142.57,468.40 L142.77,468.40 L142.97,468.40 L143.17,468.40 L143.37,468.40 L143.57,468.40 L143.77,468.40 L143.97,468.40 L144.17,468.40 L144.37,468.40 L144.57,468.40 L144.77,468.40 L144.97,468.40 L145.17,468.40 L145.37,468.40 L145.57,468.40 L145.77,468.40 L145.97,468.40 L146.17,468.40 L146.37,468.40 L146.57,468.40 L146.77,468.40 L146.97,468.40 L147.17,468.40 L147.37,468.40 L147.57,468.40 L147.77,468.40 L147.97,468.40 L148.17,468.40 L148.37,468.40 L148.57,468.40 L148.77,468.40 L148.97,468.40 L149.17,468.40 L149.37,468.40 L149.57,468.40 L149.78,468.40 L149.98,468.40 L150.18,468.40 L150.38,468.40 L150.58,468.40 L150.78,468.40 L150.98,468.40 L151.18,468.40 L151.38,468.40 L151.58,468.40 L151.78,468.40 L151.98,468.40 L152.18,468.40 L152.38,468.40 L152.58,468.40 L152.78,468.40 L152.98,468.40 L153.18,468.40 L153.38,468.40 L153.58,468.40 L153.78,468.40 L153.98,468.40 L154.18,468.40 L154.38,468.40 L154.58,468.40 L154.78,468.40 L154.98,468.40 L155.18,468.40 L155.38,468.40 L155.58,468.40 L155.78,468.40 L155.98,468.40 L156.18,468.40 L156.38,468.40 L156.58,468.40 L156.78,468.40 L156.98,468.40 L157.18,468.40 L157.38,468.40 L157.58,468.40 L157.79,468.40 L157.99,468.40 L158.19,468.40 L158.39,468.40 L158.59,468.40 L158.79,468.40 L158.99,468.40 L159.19,468.40 L159.39,468.40 L159.59,468.40 L159.79,468.40 L159.99,468.40 L160.19,468.40 L160.39,468.40 L160.59,468.40 L160.79,468.40 L160.99,468.40 L161.19,468.40 L161.39,468.40 L161.59,468.40 L161.79,468.40 L161.99,468.40 L162.19,468.40 L162.39,468.40 L162.59,468.40 L162.79,468.40 L162.99,468.40 L163.19,468.40 L163.39,468.40 L163.59,468.40 L163.79,468.40 L163.99,468.40 L164.19,468.40 L164.39,468.40 L164.59,468.40 L164.79,468.40 L164.99,468.40 L165.19,468.40 L165.39,468.40 L165.59,468.40 L165.80,468.40 L166.00,468.40 L166.20,468.40 L166.40,468.40 L166.60,468.40 L166.80,468.40 L167.00,468.40 L167.20,468.40 L167.40,468.40 L167.60,468.40 L167.80,468.40 L168.00,468.40 L168.20,468.40 L168.40,468.40 L168.60,468.40 L168.80,468.40 L169.00,468.40 L169.20,468.40 L169.40,468.40 L169.60,468.40" fill="none" stroke="#a85a3a" stroke-width="0.9" opacity="0.72"/>
<text x="85.3" y="400.9" font-size="4.3" text-anchor="end" fill="#6a6a6a" >1200</text>
<line x1="87.5" y1="399.4" x2="89.3" y2="399.4" stroke="#999" stroke-width="0.5" />
<text x="85.3" y="418.2" font-size="4.3" text-anchor="end" fill="#6a6a6a" >900</text>
<line x1="87.5" y1="416.7" x2="89.3" y2="416.7" stroke="#999" stroke-width="0.5" />
<text x="85.3" y="435.6" font-size="4.3" text-anchor="end" fill="#6a6a6a" >600</text>
<line x1="87.5" y1="434.1" x2="89.3" y2="434.1" stroke="#999" stroke-width="0.5" />
<text x="85.3" y="453.1" font-size="4.3" text-anchor="end" fill="#6a6a6a" >300</text>
<line x1="87.5" y1="451.6" x2="89.3" y2="451.6" stroke="#999" stroke-width="0.5" />
<text x="85.3" y="470.6" font-size="4.3" text-anchor="end" fill="#6a6a6a" >0</text>
<line x1="87.5" y1="469.1" x2="89.3" y2="469.1" stroke="#999" stroke-width="0.5" />
<text transform="translate(73.39999999999999,430.85) rotate(-90)" font-size="4.2" font-weight="bold" fill="#444" text-anchor="middle"># Cells</text>
<rect x="186.8" y="393.6" width="81.0" height="74.69999999999999" fill="#fff" stroke="#b4b4b4" stroke-width="1.1"/>
<line x1="186.8" y1="393.1" x2="186.8" y2="468.8" stroke="#858585" stroke-width="1.1" />
<line x1="202.08301886792455" y1="468.3" x2="202.08301886792455" y2="469.3" stroke="#bbb" stroke-width="0.6" />
<line x1="217.36603773584906" y1="468.3" x2="217.36603773584906" y2="469.3" stroke="#bbb" stroke-width="0.6" />
<line x1="232.6490566037736" y1="468.3" x2="232.6490566037736" y2="469.3" stroke="#bbb" stroke-width="0.6" />
<line x1="247.9320754716981" y1="468.3" x2="247.9320754716981" y2="469.3" stroke="#bbb" stroke-width="0.6" />
<line x1="263.2150943396226" y1="468.3" x2="263.2150943396226" y2="469.3" stroke="#bbb" stroke-width="0.6" />
<path d="M187.60,467.60 L187.80,467.60 L188.00,467.60 L188.20,467.60 L188.40,467.60 L188.60,467.60 L188.80,467.60 L189.00,467.60 L189.20,467.60 L189.40,467.60 L189.61,467.60 L189.81,467.60 L190.01,467.60 L190.21,467.60 L190.41,467.60 L190.61,467.60 L190.81,467.60 L191.01,467.60 L191.21,467.60 L191.41,467.60 L191.61,467.60 L191.81,467.60 L192.01,467.60 L192.21,467.60 L192.41,467.60 L192.61,467.60 L192.81,467.60 L193.01,467.60 L193.21,467.60 L193.41,467.60 L193.62,467.60 L193.82,467.60 L194.02,467.60 L194.22,467.60 L194.42,467.60 L194.62,467.60 L194.82,467.60 L195.02,467.60 L195.22,467.60 L195.42,467.60 L195.62,467.60 L195.82,467.60 L196.02,467.60 L196.22,467.60 L196.42,467.59 L196.62,467.59 L196.82,467.59 L197.02,467.59 L197.22,467.58 L197.42,467.58 L197.63,467.57 L197.83,467.56 L198.03,467.55 L198.23,467.54 L198.43,467.53 L198.63,467.51 L198.83,467.49 L199.03,467.47 L199.23,467.45 L199.43,467.42 L199.63,467.39 L199.83,467.36 L200.03,467.32 L200.23,467.28 L200.43,467.23 L200.63,467.18 L200.83,467.13 L201.03,467.08 L201.23,467.00 L201.43,466.87 L201.64,466.55 L201.84,465.75 L202.04,463.87 L202.24,459.96 L202.44,452.95 L202.64,442.28 L202.84,428.80 L203.04,415.20 L203.24,405.39 L203.44,402.73 L203.64,408.11 L203.84,419.47 L204.04,432.96 L204.24,444.97 L204.44,453.57 L204.64,458.72 L204.84,461.23 L205.04,462.22 L205.24,462.51 L205.44,462.56 L205.65,462.58 L205.85,462.63 L206.05,462.70 L206.25,462.81 L206.45,462.92 L206.65,463.05 L206.85,463.17 L207.05,463.29 L207.25,463.41 L207.45,463.52 L207.65,463.62 L207.85,463.71 L208.05,463.80 L208.25,463.88 L208.45,463.95 L208.65,464.01 L208.85,464.07 L209.05,464.13 L209.25,464.17 L209.46,464.22 L209.66,464.26 L209.86,464.30 L210.06,464.33 L210.26,464.36 L210.46,464.39 L210.66,464.41 L210.86,464.43 L211.06,464.46 L211.26,464.47 L211.46,464.49 L211.66,464.51 L211.86,464.52 L212.06,464.54 L212.26,464.55 L212.46,464.56 L212.66,464.57 L212.86,464.58 L213.06,464.59 L213.26,464.60 L213.47,464.61 L213.67,464.61 L213.87,464.62 L214.07,464.63 L214.27,464.63 L214.47,464.63 L214.67,464.63 L214.87,464.62 L215.07,464.60 L215.27,464.57 L215.47,464.52 L215.67,464.44 L215.87,464.33 L216.07,464.16 L216.27,463.94 L216.47,463.65 L216.67,463.28 L216.87,462.82 L217.07,462.29 L217.27,461.69 L217.48,461.05 L217.68,460.40 L217.88,459.78 L218.08,459.24 L218.28,458.83 L218.48,458.58 L218.68,458.53 L218.88,458.69 L219.08,459.06 L219.28,459.62 L219.48,460.33 L219.68,461.15 L219.88,462.02 L220.08,462.90 L220.28,463.74 L220.48,464.51 L220.68,465.19 L220.88,465.76 L221.08,466.24 L221.28,466.61 L221.49,466.90 L221.69,467.11 L221.89,467.27 L222.09,467.38 L222.29,467.45 L222.49,467.50 L222.69,467.54 L222.89,467.56 L223.09,467.57 L223.29,467.58 L223.49,467.59 L223.69,467.59 L223.89,467.59 L224.09,467.60 L224.29,467.60 L224.49,467.60 L224.69,467.60 L224.89,467.60 L225.09,467.60 L225.29,467.60 L225.50,467.60 L225.70,467.60 L225.90,467.60 L226.10,467.60 L226.30,467.60 L226.50,467.60 L226.70,467.60 L226.90,467.60 L227.10,467.60 L227.30,467.60 L227.50,467.60 L227.70,467.60 L227.90,467.60 L228.10,467.60 L228.30,467.60 L228.50,467.60 L228.70,467.60 L228.90,467.60 L229.10,467.60 L229.31,467.60 L229.51,467.60 L229.71,467.60 L229.91,467.60 L230.11,467.60 L230.31,467.60 L230.51,467.60 L230.71,467.60 L230.91,467.60 L231.11,467.60 L231.31,467.60 L231.51,467.60 L231.71,467.60 L231.91,467.60 L232.11,467.60 L232.31,467.60 L232.51,467.60 L232.71,467.60 L232.91,467.60 L233.11,467.60 L233.32,467.60 L233.52,467.60 L233.72,467.60 L233.92,467.60 L234.12,467.60 L234.32,467.60 L234.52,467.60 L234.72,467.60 L234.92,467.60 L235.12,467.60 L235.32,467.60 L235.52,467.60 L235.72,467.60 L235.92,467.60 L236.12,467.60 L236.32,467.60 L236.52,467.60 L236.72,467.60 L236.92,467.60 L237.12,467.60 L237.33,467.60 L237.53,467.60 L237.73,467.60 L237.93,467.60 L238.13,467.60 L238.33,467.60 L238.53,467.60 L238.73,467.60 L238.93,467.60 L239.13,467.60 L239.33,467.60 L239.53,467.60 L239.73,467.60 L239.93,467.60 L240.13,467.60 L240.33,467.60 L240.53,467.60 L240.73,467.60 L240.93,467.60 L241.13,467.60 L241.34,467.60 L241.54,467.60 L241.74,467.60 L241.94,467.60 L242.14,467.60 L242.34,467.60 L242.54,467.60 L242.74,467.60 L242.94,467.60 L243.14,467.60 L243.34,467.60 L243.54,467.60 L243.74,467.60 L243.94,467.60 L244.14,467.60 L244.34,467.60 L244.54,467.60 L244.74,467.60 L244.94,467.60 L245.14,467.60 L245.35,467.60 L245.55,467.60 L245.75,467.60 L245.95,467.60 L246.15,467.60 L246.35,467.60 L246.55,467.60 L246.75,467.60 L246.95,467.60 L247.15,467.60 L247.35,467.60 L247.55,467.60 L247.75,467.60 L247.95,467.60 L248.15,467.60 L248.35,467.60 L248.55,467.60 L248.75,467.60 L248.95,467.60 L249.16,467.60 L249.36,467.60 L249.56,467.60 L249.76,467.60 L249.96,467.60 L250.16,467.60 L250.36,467.60 L250.56,467.60 L250.76,467.60 L250.96,467.60 L251.16,467.60 L251.36,467.60 L251.56,467.60 L251.76,467.60 L251.96,467.60 L252.16,467.60 L252.36,467.60 L252.56,467.60 L252.76,467.60 L252.96,467.60 L253.17,467.60 L253.37,467.60 L253.57,467.60 L253.77,467.60 L253.97,467.60 L254.17,467.60 L254.37,467.60 L254.57,467.60 L254.77,467.60 L254.97,467.60 L255.17,467.60 L255.37,467.60 L255.57,467.60 L255.77,467.60 L255.97,467.60 L256.17,467.60 L256.37,467.60 L256.57,467.60 L256.77,467.60 L256.97,467.60 L257.18,467.60 L257.38,467.60 L257.58,467.60 L257.78,467.60 L257.98,467.60 L258.18,467.60 L258.38,467.60 L258.58,467.60 L258.78,467.60 L258.98,467.60 L259.18,467.60 L259.38,467.60 L259.58,467.60 L259.78,467.60 L259.98,467.60 L260.18,467.60 L260.38,467.60 L260.58,467.60 L260.78,467.60 L260.98,467.60 L261.19,467.60 L261.39,467.60 L261.59,467.60 L261.79,467.60 L261.99,467.60 L262.19,467.60 L262.39,467.60 L262.59,467.60 L262.79,467.60 L262.99,467.60 L263.19,467.60 L263.39,467.60 L263.59,467.60 L263.79,467.60 L263.99,467.60 L264.19,467.60 L264.39,467.60 L264.59,467.60 L264.79,467.60 L264.99,467.60 L265.20,467.60 L265.40,467.60 L265.60,467.60 L265.80,467.60 L266.00,467.60 L266.20,467.60 L266.40,467.60 L266.60,467.60 L266.80,467.60 L267.00,467.60" fill="none" stroke="#62d062" stroke-width="0.9"/>
<path d="M187.60,467.60 L187.80,467.60 L188.00,467.60 L188.20,467.60 L188.40,467.60 L188.60,467.60 L188.80,467.60 L189.00,467.60 L189.20,467.60 L189.40,467.60 L189.61,467.60 L189.81,467.60 L190.01,467.60 L190.21,467.60 L190.41,467.60 L190.61,467.60 L190.81,467.60 L191.01,467.60 L191.21,467.60 L191.41,467.60 L191.61,467.60 L191.81,467.60 L192.01,467.60 L192.21,467.60 L192.41,467.60 L192.61,467.60 L192.81,467.60 L193.01,467.60 L193.21,467.60 L193.41,467.60 L193.62,467.60 L193.82,467.60 L194.02,467.60 L194.22,467.60 L194.42,467.60 L194.62,467.60 L194.82,467.60 L195.02,467.60 L195.22,467.60 L195.42,467.60 L195.62,467.60 L195.82,467.60 L196.02,467.60 L196.22,467.60 L196.42,467.59 L196.62,467.59 L196.82,467.59 L197.02,467.59 L197.22,467.58 L197.42,467.58 L197.63,467.57 L197.83,467.56 L198.03,467.55 L198.23,467.54 L198.43,467.53 L198.63,467.51 L198.83,467.49 L199.03,467.47 L199.23,467.45 L199.43,467.42 L199.63,467.39 L199.83,467.35 L200.03,467.31 L200.23,467.27 L200.43,467.22 L200.63,467.18 L200.83,467.12 L201.03,467.06 L201.23,466.99 L201.43,466.85 L201.64,466.52 L201.84,465.71 L202.04,463.79 L202.24,459.82 L202.44,452.71 L202.64,441.89 L202.84,428.20 L203.04,414.37 L203.24,404.35 L203.44,401.49 L203.64,406.71 L203.84,417.89 L204.04,431.13 L204.24,442.79 L204.44,450.96 L204.64,455.71 L204.84,457.85 L205.04,458.51 L205.24,458.57 L205.44,458.47 L205.65,458.42 L205.85,458.44 L206.05,458.55 L206.25,458.70 L206.45,458.89 L206.65,459.09 L206.85,459.29 L207.05,459.50 L207.25,459.69 L207.45,459.87 L207.65,460.04 L207.85,460.20 L208.05,460.35 L208.25,460.48 L208.45,460.61 L208.65,460.72 L208.85,460.83 L209.05,460.92 L209.25,461.01 L209.46,461.09 L209.66,461.16 L209.86,461.23 L210.06,461.29 L210.26,461.35 L210.46,461.40 L210.66,461.45 L210.86,461.49 L211.06,461.53 L211.26,461.57 L211.46,461.60 L211.66,461.63 L211.86,461.66 L212.06,461.69 L212.26,461.71 L212.46,461.73 L212.66,461.75 L212.86,461.77 L213.06,461.79 L213.26,461.81 L213.47,461.82 L213.67,461.84 L213.87,461.85 L214.07,461.86 L214.27,461.87 L214.47,461.88 L214.67,461.88 L214.87,461.88 L215.07,461.86 L215.27,461.84 L215.47,461.79 L215.67,461.72 L215.87,461.62 L216.07,461.46 L216.27,461.25 L216.47,460.97 L216.67,460.62 L216.87,460.19 L217.07,459.69 L217.27,459.13 L217.48,458.53 L217.68,457.94 L217.88,457.40 L218.08,456.95 L218.28,456.64 L218.48,456.53 L218.68,456.63 L218.88,456.96 L219.08,457.51 L219.28,458.26 L219.48,459.17 L219.68,460.17 L219.88,461.21 L220.08,462.24 L220.28,463.21 L220.48,464.09 L220.68,464.86 L220.88,465.51 L221.08,466.04 L221.28,466.46 L221.49,466.78 L221.69,467.02 L221.89,467.20 L222.09,467.33 L222.29,467.41 L222.49,467.47 L222.69,467.51 L222.89,467.54 L223.09,467.56 L223.29,467.57 L223.49,467.58 L223.69,467.58 L223.89,467.59 L224.09,467.59 L224.29,467.59 L224.49,467.59 L224.69,467.60 L224.89,467.60 L225.09,467.60 L225.29,467.60 L225.50,467.60 L225.70,467.60 L225.90,467.60 L226.10,467.60 L226.30,467.60 L226.50,467.60 L226.70,467.60 L226.90,467.60 L227.10,467.60 L227.30,467.60 L227.50,467.60 L227.70,467.60 L227.90,467.60 L228.10,467.60 L228.30,467.60 L228.50,467.60 L228.70,467.60 L228.90,467.60 L229.10,467.60 L229.31,467.60 L229.51,467.60 L229.71,467.60 L229.91,467.60 L230.11,467.60 L230.31,467.60 L230.51,467.60 L230.71,467.60 L230.91,467.60 L231.11,467.60 L231.31,467.60 L231.51,467.60 L231.71,467.60 L231.91,467.60 L232.11,467.60 L232.31,467.60 L232.51,467.60 L232.71,467.60 L232.91,467.60 L233.11,467.60 L233.32,467.60 L233.52,467.60 L233.72,467.60 L233.92,467.60 L234.12,467.60 L234.32,467.60 L234.52,467.60 L234.72,467.60 L234.92,467.60 L235.12,467.60 L235.32,467.60 L235.52,467.60 L235.72,467.60 L235.92,467.60 L236.12,467.60 L236.32,467.60 L236.52,467.60 L236.72,467.60 L236.92,467.60 L237.12,467.60 L237.33,467.60 L237.53,467.60 L237.73,467.60 L237.93,467.60 L238.13,467.60 L238.33,467.60 L238.53,467.60 L238.73,467.60 L238.93,467.60 L239.13,467.60 L239.33,467.60 L239.53,467.60 L239.73,467.60 L239.93,467.60 L240.13,467.60 L240.33,467.60 L240.53,467.60 L240.73,467.60 L240.93,467.60 L241.13,467.60 L241.34,467.60 L241.54,467.60 L241.74,467.60 L241.94,467.60 L242.14,467.60 L242.34,467.60 L242.54,467.60 L242.74,467.60 L242.94,467.60 L243.14,467.60 L243.34,467.60 L243.54,467.60 L243.74,467.60 L243.94,467.60 L244.14,467.60 L244.34,467.60 L244.54,467.60 L244.74,467.60 L244.94,467.60 L245.14,467.60 L245.35,467.60 L245.55,467.60 L245.75,467.60 L245.95,467.60 L246.15,467.60 L246.35,467.60 L246.55,467.60 L246.75,467.60 L246.95,467.60 L247.15,467.60 L247.35,467.60 L247.55,467.60 L247.75,467.60 L247.95,467.60 L248.15,467.60 L248.35,467.60 L248.55,467.60 L248.75,467.60 L248.95,467.60 L249.16,467.60 L249.36,467.60 L249.56,467.60 L249.76,467.60 L249.96,467.60 L250.16,467.60 L250.36,467.60 L250.56,467.60 L250.76,467.60 L250.96,467.60 L251.16,467.60 L251.36,467.60 L251.56,467.60 L251.76,467.60 L251.96,467.60 L252.16,467.60 L252.36,467.60 L252.56,467.60 L252.76,467.60 L252.96,467.60 L253.17,467.60 L253.37,467.60 L253.57,467.60 L253.77,467.60 L253.97,467.60 L254.17,467.60 L254.37,467.60 L254.57,467.60 L254.77,467.60 L254.97,467.60 L255.17,467.60 L255.37,467.60 L255.57,467.60 L255.77,467.60 L255.97,467.60 L256.17,467.60 L256.37,467.60 L256.57,467.60 L256.77,467.60 L256.97,467.60 L257.18,467.60 L257.38,467.60 L257.58,467.60 L257.78,467.60 L257.98,467.60 L258.18,467.60 L258.38,467.60 L258.58,467.60 L258.78,467.60 L258.98,467.60 L259.18,467.60 L259.38,467.60 L259.58,467.60 L259.78,467.60 L259.98,467.60 L260.18,467.60 L260.38,467.60 L260.58,467.60 L260.78,467.60 L260.98,467.60 L261.19,467.60 L261.39,467.60 L261.59,467.60 L261.79,467.60 L261.99,467.60 L262.19,467.60 L262.39,467.60 L262.59,467.60 L262.79,467.60 L262.99,467.60 L263.19,467.60 L263.39,467.60 L263.59,467.60 L263.79,467.60 L263.99,467.60 L264.19,467.60 L264.39,467.60 L264.59,467.60 L264.79,467.60 L264.99,467.60 L265.20,467.60 L265.40,467.60 L265.60,467.60 L265.80,467.60 L266.00,467.60 L266.20,467.60 L266.40,467.60 L266.60,467.60 L266.80,467.60 L267.00,467.60" fill="none" stroke="#a85a3a" stroke-width="0.9" opacity="0.72"/>
<text x="186.9" y="472.4" font-size="3.3" text-anchor="middle" fill="#a0a0a0" >0</text>
<text x="202.8" y="472.4" font-size="3.3" text-anchor="middle" fill="#a0a0a0" >50K</text>
<text x="219.1" y="472.4" font-size="3.3" text-anchor="middle" fill="#a0a0a0" >100K</text>
<text x="234.5" y="472.4" font-size="3.3" text-anchor="middle" fill="#a0a0a0" >150K</text>
<text x="249.3" y="472.4" font-size="3.3" text-anchor="middle" fill="#a0a0a0" >200K</text>
<text x="264.1" y="472.4" font-size="3.3" text-anchor="middle" fill="#a0a0a0" >250K</text>
<rect x="88" y="474.3" width="82" height="75.69999999999999" fill="#fff" stroke="#b4b4b4" stroke-width="1.1"/>
<line x1="88" y1="473.8" x2="88" y2="550.5" stroke="#858585" stroke-width="1.1" />
<line x1="103.47169811320755" y1="550" x2="103.47169811320755" y2="551.0" stroke="#bbb" stroke-width="0.6" />
<line x1="118.9433962264151" y1="550" x2="118.9433962264151" y2="551.0" stroke="#bbb" stroke-width="0.6" />
<line x1="134.41509433962264" y1="550" x2="134.41509433962264" y2="551.0" stroke="#bbb" stroke-width="0.6" />
<line x1="149.8867924528302" y1="550" x2="149.8867924528302" y2="551.0" stroke="#bbb" stroke-width="0.6" />
<line x1="165.35849056603774" y1="550" x2="165.35849056603774" y2="551.0" stroke="#bbb" stroke-width="0.6" />
<path d="M88.80,549.30 L89.00,549.30 L89.20,549.30 L89.40,549.30 L89.60,549.30 L89.80,549.30 L90.00,549.30 L90.20,549.30 L90.40,549.30 L90.60,549.30 L90.80,549.30 L91.01,549.30 L91.21,549.30 L91.41,549.30 L91.61,549.30 L91.81,549.30 L92.01,549.30 L92.21,549.30 L92.41,549.30 L92.61,549.30 L92.81,549.30 L93.01,549.30 L93.21,549.30 L93.41,549.30 L93.61,549.30 L93.81,549.30 L94.01,549.30 L94.21,549.30 L94.41,549.30 L94.61,549.30 L94.81,549.30 L95.02,549.30 L95.22,549.30 L95.42,549.30 L95.62,549.30 L95.82,549.30 L96.02,549.30 L96.22,549.30 L96.42,549.30 L96.62,549.30 L96.82,549.30 L97.02,549.30 L97.22,549.30 L97.42,549.30 L97.62,549.30 L97.82,549.30 L98.02,549.29 L98.22,549.29 L98.42,549.29 L98.62,549.29 L98.82,549.28 L99.03,549.28 L99.23,549.27 L99.43,549.26 L99.63,549.25 L99.83,549.24 L100.03,549.23 L100.23,549.21 L100.43,549.19 L100.63,549.17 L100.83,549.14 L101.03,549.11 L101.23,549.08 L101.43,549.05 L101.63,549.01 L101.83,548.97 L102.03,548.93 L102.23,548.88 L102.43,548.83 L102.63,548.77 L102.83,548.67 L103.04,548.48 L103.24,547.99 L103.44,546.80 L103.64,544.17 L103.84,539.09 L104.04,530.69 L104.24,519.01 L104.44,505.70 L104.64,494.06 L104.84,487.76 L105.04,488.96 L105.24,497.06 L105.44,509.01 L105.64,521.04 L105.84,530.45 L106.04,536.52 L106.24,539.72 L106.44,541.04 L106.64,541.43 L106.84,541.51 L107.05,541.55 L107.25,541.65 L107.45,541.82 L107.65,542.04 L107.85,542.28 L108.05,542.53 L108.25,542.79 L108.45,543.03 L108.65,543.27 L108.85,543.49 L109.05,543.70 L109.25,543.89 L109.45,544.07 L109.65,544.24 L109.85,544.39 L110.05,544.53 L110.25,544.65 L110.45,544.77 L110.65,544.88 L110.85,544.98 L111.06,545.07 L111.26,545.15 L111.46,545.22 L111.66,545.29 L111.86,545.36 L112.06,545.41 L112.26,545.47 L112.46,545.52 L112.66,545.56 L112.86,545.60 L113.06,545.64 L113.26,545.68 L113.46,545.71 L113.66,545.74 L113.86,545.77 L114.06,545.79 L114.26,545.82 L114.46,545.84 L114.66,545.86 L114.86,545.88 L115.07,545.89 L115.27,545.91 L115.47,545.92 L115.67,545.92 L115.87,545.92 L116.07,545.91 L116.27,545.87 L116.47,545.80 L116.67,545.68 L116.87,545.49 L117.07,545.20 L117.27,544.76 L117.47,544.13 L117.67,543.26 L117.87,542.10 L118.07,540.60 L118.27,538.72 L118.47,536.48 L118.67,533.88 L118.87,531.02 L119.08,528.00 L119.28,524.97 L119.48,522.13 L119.68,519.67 L119.88,517.77 L120.08,516.61 L120.28,516.28 L120.48,516.83 L120.68,518.22 L120.88,520.34 L121.08,523.05 L121.28,526.14 L121.48,529.42 L121.68,532.69 L121.88,535.80 L122.08,538.62 L122.28,541.08 L122.48,543.14 L122.68,544.81 L122.88,546.11 L123.09,547.09 L123.29,547.81 L123.49,548.32 L123.69,548.67 L123.89,548.90 L124.09,549.05 L124.29,549.15 L124.49,549.21 L124.69,549.24 L124.89,549.27 L125.09,549.28 L125.29,549.29 L125.49,549.29 L125.69,549.29 L125.89,549.29 L126.09,549.30 L126.29,549.30 L126.49,549.30 L126.69,549.30 L126.89,549.30 L127.10,549.30 L127.30,549.30 L127.50,549.30 L127.70,549.30 L127.90,549.30 L128.10,549.30 L128.30,549.30 L128.50,549.30 L128.70,549.30 L128.90,549.30 L129.10,549.30 L129.30,549.30 L129.50,549.30 L129.70,549.30 L129.90,549.30 L130.10,549.30 L130.30,549.30 L130.50,549.30 L130.70,549.30 L130.90,549.30 L131.11,549.30 L131.31,549.30 L131.51,549.30 L131.71,549.30 L131.91,549.30 L132.11,549.30 L132.31,549.30 L132.51,549.30 L132.71,549.30 L132.91,549.30 L133.11,549.30 L133.31,549.30 L133.51,549.30 L133.71,549.30 L133.91,549.30 L134.11,549.30 L134.31,549.30 L134.51,549.30 L134.71,549.30 L134.91,549.30 L135.12,549.30 L135.32,549.30 L135.52,549.30 L135.72,549.30 L135.92,549.30 L136.12,549.30 L136.32,549.30 L136.52,549.30 L136.72,549.30 L136.92,549.30 L137.12,549.30 L137.32,549.30 L137.52,549.30 L137.72,549.30 L137.92,549.30 L138.12,549.30 L138.32,549.30 L138.52,549.30 L138.72,549.30 L138.92,549.30 L139.13,549.30 L139.33,549.30 L139.53,549.30 L139.73,549.30 L139.93,549.30 L140.13,549.30 L140.33,549.30 L140.53,549.30 L140.73,549.30 L140.93,549.30 L141.13,549.30 L141.33,549.30 L141.53,549.30 L141.73,549.30 L141.93,549.30 L142.13,549.30 L142.33,549.30 L142.53,549.30 L142.73,549.30 L142.93,549.30 L143.14,549.30 L143.34,549.30 L143.54,549.30 L143.74,549.30 L143.94,549.30 L144.14,549.30 L144.34,549.30 L144.54,549.30 L144.74,549.30 L144.94,549.30 L145.14,549.30 L145.34,549.30 L145.54,549.30 L145.74,549.30 L145.94,549.30 L146.14,549.30 L146.34,549.30 L146.54,549.30 L146.74,549.30 L146.94,549.30 L147.15,549.30 L147.35,549.30 L147.55,549.30 L147.75,549.30 L147.95,549.30 L148.15,549.30 L148.35,549.30 L148.55,549.30 L148.75,549.30 L148.95,549.30 L149.15,549.30 L149.35,549.30 L149.55,549.30 L149.75,549.30 L149.95,549.30 L150.15,549.30 L150.35,549.30 L150.55,549.30 L150.75,549.30 L150.95,549.30 L151.16,549.30 L151.36,549.30 L151.56,549.30 L151.76,549.30 L151.96,549.30 L152.16,549.30 L152.36,549.30 L152.56,549.30 L152.76,549.30 L152.96,549.30 L153.16,549.30 L153.36,549.30 L153.56,549.30 L153.76,549.30 L153.96,549.30 L154.16,549.30 L154.36,549.30 L154.56,549.30 L154.76,549.30 L154.96,549.30 L155.17,549.30 L155.37,549.30 L155.57,549.30 L155.77,549.30 L155.97,549.30 L156.17,549.30 L156.37,549.30 L156.57,549.30 L156.77,549.30 L156.97,549.30 L157.17,549.30 L157.37,549.30 L157.57,549.30 L157.77,549.30 L157.97,549.30 L158.17,549.30 L158.37,549.30 L158.57,549.30 L158.77,549.30 L158.97,549.30 L159.18,549.30 L159.38,549.30 L159.58,549.30 L159.78,549.30 L159.98,549.30 L160.18,549.30 L160.38,549.30 L160.58,549.30 L160.78,549.30 L160.98,549.30 L161.18,549.30 L161.38,549.30 L161.58,549.30 L161.78,549.30 L161.98,549.30 L162.18,549.30 L162.38,549.30 L162.58,549.30 L162.78,549.30 L162.98,549.30 L163.19,549.30 L163.39,549.30 L163.59,549.30 L163.79,549.30 L163.99,549.30 L164.19,549.30 L164.39,549.30 L164.59,549.30 L164.79,549.30 L164.99,549.30 L165.19,549.30 L165.39,549.30 L165.59,549.30 L165.79,549.30 L165.99,549.30 L166.19,549.30 L166.39,549.30 L166.59,549.30 L166.79,549.30 L166.99,549.30 L167.20,549.30 L167.40,549.30 L167.60,549.30 L167.80,549.30 L168.00,549.30 L168.20,549.30 L168.40,549.30 L168.60,549.30 L168.80,549.30 L169.00,549.30 L169.20,549.30" fill="none" stroke="#62d062" stroke-width="0.9"/>
<path d="M88.80,549.30 L89.00,549.30 L89.20,549.30 L89.40,549.30 L89.60,549.30 L89.80,549.30 L90.00,549.30 L90.20,549.30 L90.40,549.30 L90.60,549.30 L90.80,549.30 L91.01,549.30 L91.21,549.30 L91.41,549.30 L91.61,549.30 L91.81,549.30 L92.01,549.30 L92.21,549.30 L92.41,549.30 L92.61,549.30 L92.81,549.30 L93.01,549.30 L93.21,549.30 L93.41,549.30 L93.61,549.30 L93.81,549.30 L94.01,549.30 L94.21,549.30 L94.41,549.30 L94.61,549.30 L94.81,549.30 L95.02,549.30 L95.22,549.30 L95.42,549.30 L95.62,549.30 L95.82,549.30 L96.02,549.30 L96.22,549.30 L96.42,549.30 L96.62,549.30 L96.82,549.30 L97.02,549.30 L97.22,549.30 L97.42,549.30 L97.62,549.30 L97.82,549.29 L98.02,549.29 L98.22,549.29 L98.42,549.29 L98.62,549.28 L98.82,549.28 L99.03,549.27 L99.23,549.27 L99.43,549.26 L99.63,549.25 L99.83,549.24 L100.03,549.22 L100.23,549.20 L100.43,549.18 L100.63,549.16 L100.83,549.13 L101.03,549.10 L101.23,549.07 L101.43,549.03 L101.63,548.99 L101.83,548.95 L102.03,548.90 L102.23,548.85 L102.43,548.80 L102.63,548.73 L102.83,548.63 L103.04,548.43 L103.24,547.91 L103.44,546.64 L103.64,543.84 L103.84,538.44 L104.04,529.49 L104.24,517.04 L104.44,502.88 L104.64,490.48 L104.84,483.78 L105.04,485.08 L105.24,493.72 L105.44,506.48 L105.64,519.33 L105.84,529.38 L106.04,535.88 L106.24,539.30 L106.44,540.72 L106.64,541.14 L106.84,541.22 L107.05,541.26 L107.25,541.35 L107.45,541.51 L107.65,541.72 L107.85,541.96 L108.05,542.22 L108.25,542.47 L108.45,542.72 L108.65,542.96 L108.85,543.18 L109.05,543.39 L109.25,543.59 L109.45,543.77 L109.65,543.93 L109.85,544.08 L110.05,544.22 L110.25,544.35 L110.45,544.47 L110.65,544.58 L110.85,544.67 L111.06,544.76 L111.26,544.85 L111.46,544.92 L111.66,544.99 L111.86,545.06 L112.06,545.11 L112.26,545.17 L112.46,545.22 L112.66,545.26 L112.86,545.30 L113.06,545.34 L113.26,545.38 L113.46,545.41 L113.66,545.44 L113.86,545.47 L114.06,545.49 L114.26,545.52 L114.46,545.54 L114.66,545.56 L114.86,545.58 L115.07,545.59 L115.27,545.61 L115.47,545.62 L115.67,545.62 L115.87,545.62 L116.07,545.60 L116.27,545.57 L116.47,545.50 L116.67,545.38 L116.87,545.18 L117.07,544.88 L117.27,544.43 L117.47,543.79 L117.67,542.89 L117.87,541.70 L118.07,540.16 L118.27,538.24 L118.47,535.94 L118.67,533.28 L118.87,530.34 L119.08,527.25 L119.28,524.15 L119.48,521.24 L119.68,518.72 L119.88,516.79 L120.08,515.60 L120.28,515.28 L120.48,515.86 L120.68,517.29 L120.88,519.49 L121.08,522.28 L121.28,525.47 L121.48,528.84 L121.68,532.21 L121.88,535.41 L122.08,538.32 L122.28,540.84 L122.48,542.96 L122.68,544.68 L122.88,546.01 L123.09,547.02 L123.29,547.76 L123.49,548.29 L123.69,548.65 L123.89,548.89 L124.09,549.05 L124.29,549.14 L124.49,549.21 L124.69,549.24 L124.89,549.26 L125.09,549.28 L125.29,549.29 L125.49,549.29 L125.69,549.29 L125.89,549.29 L126.09,549.30 L126.29,549.30 L126.49,549.30 L126.69,549.30 L126.89,549.30 L127.10,549.30 L127.30,549.30 L127.50,549.30 L127.70,549.30 L127.90,549.30 L128.10,549.30 L128.30,549.30 L128.50,549.30 L128.70,549.30 L128.90,549.30 L129.10,549.30 L129.30,549.30 L129.50,549.30 L129.70,549.30 L129.90,549.30 L130.10,549.30 L130.30,549.30 L130.50,549.30 L130.70,549.30 L130.90,549.30 L131.11,549.30 L131.31,549.30 L131.51,549.30 L131.71,549.30 L131.91,549.30 L132.11,549.30 L132.31,549.30 L132.51,549.30 L132.71,549.30 L132.91,549.30 L133.11,549.30 L133.31,549.30 L133.51,549.30 L133.71,549.30 L133.91,549.30 L134.11,549.30 L134.31,549.30 L134.51,549.30 L134.71,549.30 L134.91,549.30 L135.12,549.30 L135.32,549.30 L135.52,549.30 L135.72,549.30 L135.92,549.30 L136.12,549.30 L136.32,549.30 L136.52,549.30 L136.72,549.30 L136.92,549.30 L137.12,549.30 L137.32,549.30 L137.52,549.30 L137.72,549.30 L137.92,549.30 L138.12,549.30 L138.32,549.30 L138.52,549.30 L138.72,549.30 L138.92,549.30 L139.13,549.30 L139.33,549.30 L139.53,549.30 L139.73,549.30 L139.93,549.30 L140.13,549.30 L140.33,549.30 L140.53,549.30 L140.73,549.30 L140.93,549.30 L141.13,549.30 L141.33,549.30 L141.53,549.30 L141.73,549.30 L141.93,549.30 L142.13,549.30 L142.33,549.30 L142.53,549.30 L142.73,549.30 L142.93,549.30 L143.14,549.30 L143.34,549.30 L143.54,549.30 L143.74,549.30 L143.94,549.30 L144.14,549.30 L144.34,549.30 L144.54,549.30 L144.74,549.30 L144.94,549.30 L145.14,549.30 L145.34,549.30 L145.54,549.30 L145.74,549.30 L145.94,549.30 L146.14,549.30 L146.34,549.30 L146.54,549.30 L146.74,549.30 L146.94,549.30 L147.15,549.30 L147.35,549.30 L147.55,549.30 L147.75,549.30 L147.95,549.30 L148.15,549.30 L148.35,549.30 L148.55,549.30 L148.75,549.30 L148.95,549.30 L149.15,549.30 L149.35,549.30 L149.55,549.30 L149.75,549.30 L149.95,549.30 L150.15,549.30 L150.35,549.30 L150.55,549.30 L150.75,549.30 L150.95,549.30 L151.16,549.30 L151.36,549.30 L151.56,549.30 L151.76,549.30 L151.96,549.30 L152.16,549.30 L152.36,549.30 L152.56,549.30 L152.76,549.30 L152.96,549.30 L153.16,549.30 L153.36,549.30 L153.56,549.30 L153.76,549.30 L153.96,549.30 L154.16,549.30 L154.36,549.30 L154.56,549.30 L154.76,549.30 L154.96,549.30 L155.17,549.30 L155.37,549.30 L155.57,549.30 L155.77,549.30 L155.97,549.30 L156.17,549.30 L156.37,549.30 L156.57,549.30 L156.77,549.30 L156.97,549.30 L157.17,549.30 L157.37,549.30 L157.57,549.30 L157.77,549.30 L157.97,549.30 L158.17,549.30 L158.37,549.30 L158.57,549.30 L158.77,549.30 L158.97,549.30 L159.18,549.30 L159.38,549.30 L159.58,549.30 L159.78,549.30 L159.98,549.30 L160.18,549.30 L160.38,549.30 L160.58,549.30 L160.78,549.30 L160.98,549.30 L161.18,549.30 L161.38,549.30 L161.58,549.30 L161.78,549.30 L161.98,549.30 L162.18,549.30 L162.38,549.30 L162.58,549.30 L162.78,549.30 L162.98,549.30 L163.19,549.30 L163.39,549.30 L163.59,549.30 L163.79,549.30 L163.99,549.30 L164.19,549.30 L164.39,549.30 L164.59,549.30 L164.79,549.30 L164.99,549.30 L165.19,549.30 L165.39,549.30 L165.59,549.30 L165.79,549.30 L165.99,549.30 L166.19,549.30 L166.39,549.30 L166.59,549.30 L166.79,549.30 L166.99,549.30 L167.20,549.30 L167.40,549.30 L167.60,549.30 L167.80,549.30 L168.00,549.30 L168.20,549.30 L168.40,549.30 L168.60,549.30 L168.80,549.30 L169.00,549.30 L169.20,549.30" fill="none" stroke="#a85a3a" stroke-width="0.9" opacity="0.72"/>
<text x="84" y="486.6" font-size="4.3" text-anchor="end" fill="#6a6a6a" >800</text>
<line x1="86.2" y1="485.1" x2="88" y2="485.1" stroke="#999" stroke-width="0.5" />
<text x="84" y="502.9" font-size="4.3" text-anchor="end" fill="#6a6a6a" >600</text>
<line x1="86.2" y1="501.4" x2="88" y2="501.4" stroke="#999" stroke-width="0.5" />
<text x="84" y="519.0" font-size="4.3" text-anchor="end" fill="#6a6a6a" >400</text>
<line x1="86.2" y1="517.5" x2="88" y2="517.5" stroke="#999" stroke-width="0.5" />
<text x="84" y="535.3" font-size="4.3" text-anchor="end" fill="#6a6a6a" >200</text>
<line x1="86.2" y1="533.8" x2="88" y2="533.8" stroke="#999" stroke-width="0.5" />
<text x="84" y="551.5" font-size="4.3" text-anchor="end" fill="#6a6a6a" >0</text>
<line x1="86.2" y1="550" x2="88" y2="550" stroke="#999" stroke-width="0.5" />
<text transform="translate(72.1,512.15) rotate(-90)" font-size="4.2" font-weight="bold" fill="#444" text-anchor="middle"># Cells</text>
<rect x="185.2" y="476" width="81.5" height="74.5" fill="#fff" stroke="#b4b4b4" stroke-width="1.1"/>
<line x1="185.2" y1="475.5" x2="185.2" y2="551.0" stroke="#858585" stroke-width="1.1" />
<line x1="200.57735849056604" y1="550.5" x2="200.57735849056604" y2="551.5" stroke="#bbb" stroke-width="0.6" />
<line x1="215.95471698113207" y1="550.5" x2="215.95471698113207" y2="551.5" stroke="#bbb" stroke-width="0.6" />
<line x1="231.3320754716981" y1="550.5" x2="231.3320754716981" y2="551.5" stroke="#bbb" stroke-width="0.6" />
<line x1="246.70943396226414" y1="550.5" x2="246.70943396226414" y2="551.5" stroke="#bbb" stroke-width="0.6" />
<line x1="262.0867924528302" y1="550.5" x2="262.0867924528302" y2="551.5" stroke="#bbb" stroke-width="0.6" />
<path d="M186.00,549.80 L186.20,549.80 L186.40,549.80 L186.60,549.80 L186.80,549.80 L187.00,549.80 L187.20,549.80 L187.40,549.80 L187.60,549.80 L187.80,549.80 L188.00,549.80 L188.20,549.80 L188.40,549.80 L188.60,549.80 L188.80,549.80 L189.00,549.80 L189.20,549.80 L189.40,549.80 L189.60,549.80 L189.80,549.80 L190.01,549.80 L190.21,549.80 L190.41,549.80 L190.61,549.80 L190.81,549.80 L191.01,549.80 L191.21,549.80 L191.41,549.80 L191.61,549.80 L191.81,549.80 L192.01,549.80 L192.21,549.80 L192.41,549.80 L192.61,549.80 L192.81,549.80 L193.01,549.80 L193.21,549.80 L193.41,549.80 L193.61,549.80 L193.81,549.80 L194.01,549.80 L194.21,549.80 L194.41,549.80 L194.61,549.80 L194.81,549.80 L195.01,549.80 L195.21,549.79 L195.41,549.79 L195.61,549.79 L195.81,549.79 L196.01,549.78 L196.21,549.78 L196.41,549.77 L196.61,549.76 L196.81,549.76 L197.01,549.74 L197.21,549.73 L197.41,549.71 L197.61,549.70 L197.81,549.67 L198.02,549.65 L198.22,549.62 L198.42,549.59 L198.62,549.55 L198.82,549.51 L199.02,549.47 L199.22,549.42 L199.42,549.37 L199.62,549.32 L199.82,549.26 L200.02,549.19 L200.22,549.09 L200.42,548.88 L200.62,548.37 L200.82,547.10 L201.02,544.26 L201.22,538.70 L201.42,529.37 L201.62,516.18 L201.82,500.85 L202.02,487.04 L202.22,479.05 L202.42,479.64 L202.62,488.42 L202.82,502.12 L203.02,516.36 L203.22,527.82 L203.42,535.37 L203.62,539.44 L203.82,541.16 L204.02,541.67 L204.22,541.72 L204.42,541.68 L204.62,541.68 L204.82,541.75 L205.02,541.88 L205.22,542.04 L205.42,542.22 L205.62,542.41 L205.82,542.60 L206.03,542.79 L206.23,542.96 L206.43,543.13 L206.63,543.28 L206.83,543.42 L207.03,543.55 L207.23,543.67 L207.43,543.78 L207.63,543.89 L207.83,543.98 L208.03,544.06 L208.23,544.14 L208.43,544.21 L208.63,544.27 L208.83,544.33 L209.03,544.38 L209.23,544.43 L209.43,544.48 L209.63,544.52 L209.83,544.56 L210.03,544.59 L210.23,544.62 L210.43,544.65 L210.63,544.68 L210.83,544.70 L211.03,544.73 L211.23,544.75 L211.43,544.77 L211.63,544.79 L211.83,544.80 L212.03,544.81 L212.23,544.82 L212.43,544.83 L212.63,544.83 L212.83,544.81 L213.03,544.78 L213.23,544.72 L213.43,544.62 L213.63,544.46 L213.83,544.22 L214.04,543.87 L214.24,543.38 L214.44,542.72 L214.64,541.86 L214.84,540.79 L215.04,539.49 L215.24,537.98 L215.44,536.31 L215.64,534.54 L215.84,532.76 L216.04,531.08 L216.24,529.63 L216.44,528.53 L216.64,527.87 L216.84,527.73 L217.04,528.14 L217.24,529.09 L217.44,530.50 L217.64,532.28 L217.84,534.31 L218.04,536.47 L218.24,538.63 L218.44,540.68 L218.64,542.54 L218.84,544.18 L219.04,545.55 L219.24,546.67 L219.44,547.55 L219.64,548.23 L219.84,548.72 L220.04,549.08 L220.24,549.32 L220.44,549.49 L220.64,549.60 L220.84,549.68 L221.04,549.72 L221.24,549.75 L221.44,549.77 L221.64,549.78 L221.84,549.78 L222.05,549.79 L222.25,549.79 L222.45,549.79 L222.65,549.79 L222.85,549.80 L223.05,549.80 L223.25,549.80 L223.45,549.80 L223.65,549.80 L223.85,549.80 L224.05,549.80 L224.25,549.80 L224.45,549.80 L224.65,549.80 L224.85,549.80 L225.05,549.80 L225.25,549.80 L225.45,549.80 L225.65,549.80 L225.85,549.80 L226.05,549.80 L226.25,549.80 L226.45,549.80 L226.65,549.80 L226.85,549.80 L227.05,549.80 L227.25,549.80 L227.45,549.80 L227.65,549.80 L227.85,549.80 L228.05,549.80 L228.25,549.80 L228.45,549.80 L228.65,549.80 L228.85,549.80 L229.05,549.80 L229.25,549.80 L229.45,549.80 L229.65,549.80 L229.85,549.80 L230.06,549.80 L230.26,549.80 L230.46,549.80 L230.66,549.80 L230.86,549.80 L231.06,549.80 L231.26,549.80 L231.46,549.80 L231.66,549.80 L231.86,549.80 L232.06,549.80 L232.26,549.80 L232.46,549.80 L232.66,549.80 L232.86,549.80 L233.06,549.80 L233.26,549.80 L233.46,549.80 L233.66,549.80 L233.86,549.80 L234.06,549.80 L234.26,549.80 L234.46,549.80 L234.66,549.80 L234.86,549.80 L235.06,549.80 L235.26,549.80 L235.46,549.80 L235.66,549.80 L235.86,549.80 L236.06,549.80 L236.26,549.80 L236.46,549.80 L236.66,549.80 L236.86,549.80 L237.06,549.80 L237.26,549.80 L237.46,549.80 L237.66,549.80 L237.86,549.80 L238.07,549.80 L238.27,549.80 L238.47,549.80 L238.67,549.80 L238.87,549.80 L239.07,549.80 L239.27,549.80 L239.47,549.80 L239.67,549.80 L239.87,549.80 L240.07,549.80 L240.27,549.80 L240.47,549.80 L240.67,549.80 L240.87,549.80 L241.07,549.80 L241.27,549.80 L241.47,549.80 L241.67,549.80 L241.87,549.80 L242.07,549.80 L242.27,549.80 L242.47,549.80 L242.67,549.80 L242.87,549.80 L243.07,549.80 L243.27,549.80 L243.47,549.80 L243.67,549.80 L243.87,549.80 L244.07,549.80 L244.27,549.80 L244.47,549.80 L244.67,549.80 L244.87,549.80 L245.07,549.80 L245.27,549.80 L245.47,549.80 L245.67,549.80 L245.87,549.80 L246.08,549.80 L246.28,549.80 L246.48,549.80 L246.68,549.80 L246.88,549.80 L247.08,549.80 L247.28,549.80 L247.48,549.80 L247.68,549.80 L247.88,549.80 L248.08,549.80 L248.28,549.80 L248.48,549.80 L248.68,549.80 L248.88,549.80 L249.08,549.80 L249.28,549.80 L249.48,549.80 L249.68,549.80 L249.88,549.80 L250.08,549.80 L250.28,549.80 L250.48,549.80 L250.68,549.80 L250.88,549.80 L251.08,549.80 L251.28,549.80 L251.48,549.80 L251.68,549.80 L251.88,549.80 L252.08,549.80 L252.28,549.80 L252.48,549.80 L252.68,549.80 L252.88,549.80 L253.08,549.80 L253.28,549.80 L253.48,549.80 L253.68,549.80 L253.88,549.80 L254.09,549.80 L254.29,549.80 L254.49,549.80 L254.69,549.80 L254.89,549.80 L255.09,549.80 L255.29,549.80 L255.49,549.80 L255.69,549.80 L255.89,549.80 L256.09,549.80 L256.29,549.80 L256.49,549.80 L256.69,549.80 L256.89,549.80 L257.09,549.80 L257.29,549.80 L257.49,549.80 L257.69,549.80 L257.89,549.80 L258.09,549.80 L258.29,549.80 L258.49,549.80 L258.69,549.80 L258.89,549.80 L259.09,549.80 L259.29,549.80 L259.49,549.80 L259.69,549.80 L259.89,549.80 L260.09,549.80 L260.29,549.80 L260.49,549.80 L260.69,549.80 L260.89,549.80 L261.09,549.80 L261.29,549.80 L261.49,549.80 L261.69,549.80 L261.89,549.80 L262.10,549.80 L262.30,549.80 L262.50,549.80 L262.70,549.80 L262.90,549.80 L263.10,549.80 L263.30,549.80 L263.50,549.80 L263.70,549.80 L263.90,549.80 L264.10,549.80 L264.30,549.80 L264.50,549.80 L264.70,549.80 L264.90,549.80 L265.10,549.80 L265.30,549.80 L265.50,549.80 L265.70,549.80 L265.90,549.80" fill="none" stroke="#62d062" stroke-width="0.9"/>
<path d="M186.00,549.80 L186.20,549.80 L186.40,549.80 L186.60,549.80 L186.80,549.80 L187.00,549.80 L187.20,549.80 L187.40,549.80 L187.60,549.80 L187.80,549.80 L188.00,549.80 L188.20,549.80 L188.40,549.80 L188.60,549.80 L188.80,549.80 L189.00,549.80 L189.20,549.80 L189.40,549.80 L189.60,549.80 L189.80,549.80 L190.01,549.80 L190.21,549.80 L190.41,549.80 L190.61,549.80 L190.81,549.80 L191.01,549.80 L191.21,549.80 L191.41,549.80 L191.61,549.80 L191.81,549.80 L192.01,549.80 L192.21,549.80 L192.41,549.80 L192.61,549.80 L192.81,549.80 L193.01,549.80 L193.21,549.80 L193.41,549.80 L193.61,549.80 L193.81,549.80 L194.01,549.80 L194.21,549.80 L194.41,549.80 L194.61,549.80 L194.81,549.80 L195.01,549.80 L195.21,549.79 L195.41,549.79 L195.61,549.79 L195.81,549.79 L196.01,549.78 L196.21,549.78 L196.41,549.77 L196.61,549.77 L196.81,549.76 L197.01,549.75 L197.21,549.73 L197.41,549.72 L197.61,549.70 L197.81,549.68 L198.02,549.65 L198.22,549.62 L198.42,549.59 L198.62,549.56 L198.82,549.52 L199.02,549.48 L199.22,549.43 L199.42,549.38 L199.62,549.33 L199.82,549.27 L200.02,549.20 L200.22,549.11 L200.42,548.90 L200.62,548.40 L200.82,547.16 L201.02,544.38 L201.22,538.95 L201.42,529.83 L201.62,516.94 L201.82,501.96 L202.02,488.46 L202.22,480.64 L202.42,481.19 L202.62,489.75 L202.82,503.09 L203.02,516.95 L203.22,528.09 L203.42,535.40 L203.62,539.32 L203.82,540.95 L204.02,541.40 L204.22,541.41 L204.42,541.35 L204.62,541.33 L204.82,541.39 L205.02,541.51 L205.22,541.66 L205.42,541.84 L205.62,542.03 L205.82,542.21 L206.03,542.40 L206.23,542.57 L206.43,542.73 L206.63,542.88 L206.83,543.03 L207.03,543.16 L207.23,543.28 L207.43,543.39 L207.63,543.49 L207.83,543.58 L208.03,543.66 L208.23,543.74 L208.43,543.81 L208.63,543.87 L208.83,543.93 L209.03,543.98 L209.23,544.03 L209.43,544.08 L209.63,544.12 L209.83,544.16 L210.03,544.19 L210.23,544.22 L210.43,544.25 L210.63,544.28 L210.83,544.30 L211.03,544.33 L211.23,544.35 L211.43,544.37 L211.63,544.39 L211.83,544.40 L212.03,544.42 L212.23,544.43 L212.43,544.43 L212.63,544.43 L212.83,544.42 L213.03,544.39 L213.23,544.33 L213.43,544.24 L213.63,544.08 L213.83,543.85 L214.04,543.52 L214.24,543.05 L214.44,542.42 L214.64,541.60 L214.84,540.57 L215.04,539.33 L215.24,537.90 L215.44,536.30 L215.64,534.61 L215.84,532.91 L216.04,531.32 L216.24,529.95 L216.44,528.92 L216.64,528.32 L216.84,528.22 L217.04,528.66 L217.24,529.60 L217.44,531.00 L217.64,532.75 L217.84,534.74 L218.04,536.84 L218.24,538.94 L218.44,540.94 L218.64,542.75 L218.84,544.34 L219.04,545.67 L219.24,546.76 L219.44,547.62 L219.64,548.27 L219.84,548.75 L220.04,549.09 L220.24,549.33 L220.44,549.50 L220.64,549.61 L220.84,549.68 L221.04,549.72 L221.24,549.75 L221.44,549.77 L221.64,549.78 L221.84,549.78 L222.05,549.79 L222.25,549.79 L222.45,549.79 L222.65,549.79 L222.85,549.80 L223.05,549.80 L223.25,549.80 L223.45,549.80 L223.65,549.80 L223.85,549.80 L224.05,549.80 L224.25,549.80 L224.45,549.80 L224.65,549.80 L224.85,549.80 L225.05,549.80 L225.25,549.80 L225.45,549.80 L225.65,549.80 L225.85,549.80 L226.05,549.80 L226.25,549.80 L226.45,549.80 L226.65,549.80 L226.85,549.80 L227.05,549.80 L227.25,549.80 L227.45,549.80 L227.65,549.80 L227.85,549.80 L228.05,549.80 L228.25,549.80 L228.45,549.80 L228.65,549.80 L228.85,549.80 L229.05,549.80 L229.25,549.80 L229.45,549.80 L229.65,549.80 L229.85,549.80 L230.06,549.80 L230.26,549.80 L230.46,549.80 L230.66,549.80 L230.86,549.80 L231.06,549.80 L231.26,549.80 L231.46,549.80 L231.66,549.80 L231.86,549.80 L232.06,549.80 L232.26,549.80 L232.46,549.80 L232.66,549.80 L232.86,549.80 L233.06,549.80 L233.26,549.80 L233.46,549.80 L233.66,549.80 L233.86,549.80 L234.06,549.80 L234.26,549.80 L234.46,549.80 L234.66,549.80 L234.86,549.80 L235.06,549.80 L235.26,549.80 L235.46,549.80 L235.66,549.80 L235.86,549.80 L236.06,549.80 L236.26,549.80 L236.46,549.80 L236.66,549.80 L236.86,549.80 L237.06,549.80 L237.26,549.80 L237.46,549.80 L237.66,549.80 L237.86,549.80 L238.07,549.80 L238.27,549.80 L238.47,549.80 L238.67,549.80 L238.87,549.80 L239.07,549.80 L239.27,549.80 L239.47,549.80 L239.67,549.80 L239.87,549.80 L240.07,549.80 L240.27,549.80 L240.47,549.80 L240.67,549.80 L240.87,549.80 L241.07,549.80 L241.27,549.80 L241.47,549.80 L241.67,549.80 L241.87,549.80 L242.07,549.80 L242.27,549.80 L242.47,549.80 L242.67,549.80 L242.87,549.80 L243.07,549.80 L243.27,549.80 L243.47,549.80 L243.67,549.80 L243.87,549.80 L244.07,549.80 L244.27,549.80 L244.47,549.80 L244.67,549.80 L244.87,549.80 L245.07,549.80 L245.27,549.80 L245.47,549.80 L245.67,549.80 L245.87,549.80 L246.08,549.80 L246.28,549.80 L246.48,549.80 L246.68,549.80 L246.88,549.80 L247.08,549.80 L247.28,549.80 L247.48,549.80 L247.68,549.80 L247.88,549.80 L248.08,549.80 L248.28,549.80 L248.48,549.80 L248.68,549.80 L248.88,549.80 L249.08,549.80 L249.28,549.80 L249.48,549.80 L249.68,549.80 L249.88,549.80 L250.08,549.80 L250.28,549.80 L250.48,549.80 L250.68,549.80 L250.88,549.80 L251.08,549.80 L251.28,549.80 L251.48,549.80 L251.68,549.80 L251.88,549.80 L252.08,549.80 L252.28,549.80 L252.48,549.80 L252.68,549.80 L252.88,549.80 L253.08,549.80 L253.28,549.80 L253.48,549.80 L253.68,549.80 L253.88,549.80 L254.09,549.80 L254.29,549.80 L254.49,549.80 L254.69,549.80 L254.89,549.80 L255.09,549.80 L255.29,549.80 L255.49,549.80 L255.69,549.80 L255.89,549.80 L256.09,549.80 L256.29,549.80 L256.49,549.80 L256.69,549.80 L256.89,549.80 L257.09,549.80 L257.29,549.80 L257.49,549.80 L257.69,549.80 L257.89,549.80 L258.09,549.80 L258.29,549.80 L258.49,549.80 L258.69,549.80 L258.89,549.80 L259.09,549.80 L259.29,549.80 L259.49,549.80 L259.69,549.80 L259.89,549.80 L260.09,549.80 L260.29,549.80 L260.49,549.80 L260.69,549.80 L260.89,549.80 L261.09,549.80 L261.29,549.80 L261.49,549.80 L261.69,549.80 L261.89,549.80 L262.10,549.80 L262.30,549.80 L262.50,549.80 L262.70,549.80 L262.90,549.80 L263.10,549.80 L263.30,549.80 L263.50,549.80 L263.70,549.80 L263.90,549.80 L264.10,549.80 L264.30,549.80 L264.50,549.80 L264.70,549.80 L264.90,549.80 L265.10,549.80 L265.30,549.80 L265.50,549.80 L265.70,549.80 L265.90,549.80" fill="none" stroke="#a85a3a" stroke-width="0.9" opacity="0.72"/>
<rect x="88" y="555" width="83.5" height="72.20000000000005" fill="#fff" stroke="#b4b4b4" stroke-width="1.1"/>
<line x1="88" y1="554.5" x2="88" y2="627.7" stroke="#858585" stroke-width="1.1" />
<line x1="103.75471698113208" y1="627.2" x2="103.75471698113208" y2="628.2" stroke="#bbb" stroke-width="0.6" />
<line x1="119.50943396226415" y1="627.2" x2="119.50943396226415" y2="628.2" stroke="#bbb" stroke-width="0.6" />
<line x1="135.26415094339623" y1="627.2" x2="135.26415094339623" y2="628.2" stroke="#bbb" stroke-width="0.6" />
<line x1="151.0188679245283" y1="627.2" x2="151.0188679245283" y2="628.2" stroke="#bbb" stroke-width="0.6" />
<line x1="166.77358490566039" y1="627.2" x2="166.77358490566039" y2="628.2" stroke="#bbb" stroke-width="0.6" />
<path d="M88.80,626.50 L89.00,626.50 L89.20,626.50 L89.40,626.50 L89.60,626.50 L89.80,626.50 L90.00,626.50 L90.20,626.50 L90.40,626.50 L90.60,626.50 L90.80,626.50 L91.00,626.50 L91.20,626.50 L91.40,626.50 L91.60,626.50 L91.80,626.50 L92.00,626.50 L92.20,626.50 L92.40,626.50 L92.60,626.50 L92.80,626.50 L93.01,626.50 L93.21,626.50 L93.41,626.50 L93.61,626.50 L93.81,626.50 L94.01,626.50 L94.21,626.50 L94.41,626.50 L94.61,626.50 L94.81,626.50 L95.01,626.50 L95.21,626.50 L95.41,626.50 L95.61,626.50 L95.81,626.50 L96.01,626.50 L96.21,626.50 L96.41,626.50 L96.61,626.50 L96.81,626.50 L97.01,626.50 L97.21,626.50 L97.41,626.50 L97.61,626.50 L97.81,626.49 L98.01,626.49 L98.21,626.49 L98.41,626.49 L98.61,626.48 L98.81,626.48 L99.01,626.47 L99.21,626.46 L99.41,626.45 L99.61,626.44 L99.81,626.43 L100.01,626.41 L100.21,626.39 L100.41,626.37 L100.61,626.35 L100.81,626.32 L101.01,626.29 L101.22,626.25 L101.42,626.21 L101.62,626.17 L101.82,626.13 L102.02,626.08 L102.22,626.03 L102.42,625.97 L102.62,625.90 L102.82,625.77 L103.02,625.47 L103.22,624.72 L103.42,622.93 L103.62,619.17 L103.82,612.33 L104.02,601.76 L104.22,588.14 L104.42,574.06 L104.62,563.46 L104.82,559.92 L105.02,564.68 L105.22,575.89 L105.42,589.72 L105.62,602.38 L105.82,611.67 L106.02,617.37 L106.22,620.24 L106.42,621.43 L106.62,621.81 L106.82,621.90 L107.02,621.93 L107.22,621.97 L107.42,622.04 L107.62,622.14 L107.82,622.25 L108.02,622.37 L108.22,622.48 L108.42,622.60 L108.62,622.70 L108.82,622.81 L109.02,622.90 L109.22,622.99 L109.43,623.07 L109.63,623.14 L109.83,623.21 L110.03,623.27 L110.23,623.32 L110.43,623.37 L110.63,623.42 L110.83,623.46 L111.03,623.50 L111.23,623.53 L111.43,623.56 L111.63,623.59 L111.83,623.61 L112.03,623.64 L112.23,623.66 L112.43,623.68 L112.63,623.70 L112.83,623.71 L113.03,623.73 L113.23,623.74 L113.43,623.75 L113.63,623.76 L113.83,623.77 L114.03,623.78 L114.23,623.79 L114.43,623.80 L114.63,623.81 L114.83,623.81 L115.03,623.81 L115.23,623.80 L115.43,623.79 L115.63,623.77 L115.83,623.73 L116.03,623.67 L116.23,623.58 L116.43,623.46 L116.63,623.29 L116.83,623.09 L117.03,622.83 L117.23,622.53 L117.43,622.19 L117.64,621.82 L117.84,621.45 L118.04,621.09 L118.24,620.78 L118.44,620.55 L118.64,620.42 L118.84,620.41 L119.04,620.53 L119.24,620.79 L119.44,621.16 L119.64,621.63 L119.84,622.17 L120.04,622.75 L120.24,623.33 L120.44,623.89 L120.64,624.40 L120.84,624.85 L121.04,625.23 L121.24,625.55 L121.44,625.80 L121.64,626.00 L121.84,626.15 L122.04,626.26 L122.24,626.33 L122.44,626.39 L122.64,626.42 L122.84,626.45 L123.04,626.47 L123.24,626.48 L123.44,626.48 L123.64,626.49 L123.84,626.49 L124.04,626.49 L124.24,626.49 L124.44,626.50 L124.64,626.50 L124.84,626.50 L125.04,626.50 L125.24,626.50 L125.44,626.50 L125.64,626.50 L125.85,626.50 L126.05,626.50 L126.25,626.50 L126.45,626.50 L126.65,626.50 L126.85,626.50 L127.05,626.50 L127.25,626.50 L127.45,626.50 L127.65,626.50 L127.85,626.50 L128.05,626.50 L128.25,626.50 L128.45,626.50 L128.65,626.50 L128.85,626.50 L129.05,626.50 L129.25,626.50 L129.45,626.50 L129.65,626.50 L129.85,626.50 L130.05,626.50 L130.25,626.50 L130.45,626.50 L130.65,626.50 L130.85,626.50 L131.05,626.50 L131.25,626.50 L131.45,626.50 L131.65,626.50 L131.85,626.50 L132.05,626.50 L132.25,626.50 L132.45,626.50 L132.65,626.50 L132.85,626.50 L133.05,626.50 L133.25,626.50 L133.45,626.50 L133.65,626.50 L133.86,626.50 L134.06,626.50 L134.26,626.50 L134.46,626.50 L134.66,626.50 L134.86,626.50 L135.06,626.50 L135.26,626.50 L135.46,626.50 L135.66,626.50 L135.86,626.50 L136.06,626.50 L136.26,626.50 L136.46,626.50 L136.66,626.50 L136.86,626.50 L137.06,626.50 L137.26,626.50 L137.46,626.50 L137.66,626.50 L137.86,626.50 L138.06,626.50 L138.26,626.50 L138.46,626.50 L138.66,626.50 L138.86,626.50 L139.06,626.50 L139.26,626.50 L139.46,626.50 L139.66,626.50 L139.86,626.50 L140.06,626.50 L140.26,626.50 L140.46,626.50 L140.66,626.50 L140.86,626.50 L141.06,626.50 L141.26,626.50 L141.46,626.50 L141.66,626.50 L141.86,626.50 L142.07,626.50 L142.27,626.50 L142.47,626.50 L142.67,626.50 L142.87,626.50 L143.07,626.50 L143.27,626.50 L143.47,626.50 L143.67,626.50 L143.87,626.50 L144.07,626.50 L144.27,626.50 L144.47,626.50 L144.67,626.50 L144.87,626.50 L145.07,626.50 L145.27,626.50 L145.47,626.50 L145.67,626.50 L145.87,626.50 L146.07,626.50 L146.27,626.50 L146.47,626.50 L146.67,626.50 L146.87,626.50 L147.07,626.50 L147.27,626.50 L147.47,626.50 L147.67,626.50 L147.87,626.50 L148.07,626.50 L148.27,626.50 L148.47,626.50 L148.67,626.50 L148.87,626.50 L149.07,626.50 L149.27,626.50 L149.47,626.50 L149.67,626.50 L149.87,626.50 L150.07,626.50 L150.28,626.50 L150.48,626.50 L150.68,626.50 L150.88,626.50 L151.08,626.50 L151.28,626.50 L151.48,626.50 L151.68,626.50 L151.88,626.50 L152.08,626.50 L152.28,626.50 L152.48,626.50 L152.68,626.50 L152.88,626.50 L153.08,626.50 L153.28,626.50 L153.48,626.50 L153.68,626.50 L153.88,626.50 L154.08,626.50 L154.28,626.50 L154.48,626.50 L154.68,626.50 L154.88,626.50 L155.08,626.50 L155.28,626.50 L155.48,626.50 L155.68,626.50 L155.88,626.50 L156.08,626.50 L156.28,626.50 L156.48,626.50 L156.68,626.50 L156.88,626.50 L157.08,626.50 L157.28,626.50 L157.48,626.50 L157.68,626.50 L157.88,626.50 L158.08,626.50 L158.28,626.50 L158.49,626.50 L158.69,626.50 L158.89,626.50 L159.09,626.50 L159.29,626.50 L159.49,626.50 L159.69,626.50 L159.89,626.50 L160.09,626.50 L160.29,626.50 L160.49,626.50 L160.69,626.50 L160.89,626.50 L161.09,626.50 L161.29,626.50 L161.49,626.50 L161.69,626.50 L161.89,626.50 L162.09,626.50 L162.29,626.50 L162.49,626.50 L162.69,626.50 L162.89,626.50 L163.09,626.50 L163.29,626.50 L163.49,626.50 L163.69,626.50 L163.89,626.50 L164.09,626.50 L164.29,626.50 L164.49,626.50 L164.69,626.50 L164.89,626.50 L165.09,626.50 L165.29,626.50 L165.49,626.50 L165.69,626.50 L165.89,626.50 L166.09,626.50 L166.29,626.50 L166.49,626.50 L166.70,626.50 L166.90,626.50 L167.10,626.50 L167.30,626.50 L167.50,626.50 L167.70,626.50 L167.90,626.50 L168.10,626.50 L168.30,626.50 L168.50,626.50 L168.70,626.50 L168.90,626.50 L169.10,626.50 L169.30,626.50 L169.50,626.50 L169.70,626.50 L169.90,626.50 L170.10,626.50 L170.30,626.50 L170.50,626.50 L170.70,626.50" fill="none" stroke="#62d062" stroke-width="0.9"/>
<path d="M88.80,626.50 L89.00,626.50 L89.20,626.50 L89.40,626.50 L89.60,626.50 L89.80,626.50 L90.00,626.50 L90.20,626.50 L90.40,626.50 L90.60,626.50 L90.80,626.50 L91.00,626.50 L91.20,626.50 L91.40,626.50 L91.60,626.50 L91.80,626.50 L92.00,626.50 L92.20,626.50 L92.40,626.50 L92.60,626.50 L92.80,626.50 L93.01,626.50 L93.21,626.50 L93.41,626.50 L93.61,626.50 L93.81,626.50 L94.01,626.50 L94.21,626.50 L94.41,626.50 L94.61,626.50 L94.81,626.50 L95.01,626.50 L95.21,626.50 L95.41,626.50 L95.61,626.50 L95.81,626.50 L96.01,626.50 L96.21,626.50 L96.41,626.50 L96.61,626.50 L96.81,626.50 L97.01,626.50 L97.21,626.50 L97.41,626.50 L97.61,626.50 L97.81,626.50 L98.01,626.49 L98.21,626.49 L98.41,626.49 L98.61,626.49 L98.81,626.48 L99.01,626.48 L99.21,626.47 L99.41,626.46 L99.61,626.45 L99.81,626.44 L100.01,626.43 L100.21,626.42 L100.41,626.40 L100.61,626.38 L100.81,626.36 L101.01,626.33 L101.22,626.30 L101.42,626.27 L101.62,626.24 L101.82,626.21 L102.02,626.17 L102.22,626.13 L102.42,626.08 L102.62,626.02 L102.82,625.92 L103.02,625.69 L103.22,625.09 L103.42,623.68 L103.62,620.72 L103.82,615.34 L104.02,607.02 L104.22,596.30 L104.42,585.21 L104.62,576.85 L104.82,574.01 L105.02,577.67 L105.22,586.37 L105.42,597.10 L105.62,606.88 L105.82,613.99 L106.02,618.30 L106.22,620.41 L106.42,621.22 L106.62,621.43 L106.82,621.44 L107.02,621.43 L107.22,621.46 L107.42,621.53 L107.62,621.62 L107.82,621.73 L108.02,621.85 L108.22,621.97 L108.42,622.08 L108.62,622.20 L108.82,622.30 L109.02,622.40 L109.22,622.49 L109.43,622.58 L109.63,622.66 L109.83,622.73 L110.03,622.79 L110.23,622.85 L110.43,622.91 L110.63,622.96 L110.83,623.00 L111.03,623.04 L111.23,623.08 L111.43,623.11 L111.63,623.14 L111.83,623.17 L112.03,623.20 L112.23,623.22 L112.43,623.24 L112.63,623.26 L112.83,623.28 L113.03,623.30 L113.23,623.32 L113.43,623.33 L113.63,623.34 L113.83,623.35 L114.03,623.37 L114.23,623.37 L114.43,623.38 L114.63,623.38 L114.83,623.38 L115.03,623.37 L115.23,623.34 L115.43,623.29 L115.63,623.21 L115.83,623.09 L116.03,622.91 L116.23,622.65 L116.43,622.30 L116.63,621.83 L116.83,621.23 L117.03,620.50 L117.23,619.62 L117.43,618.63 L117.64,617.55 L117.84,616.44 L118.04,615.35 L118.24,614.37 L118.44,613.57 L118.64,613.01 L118.84,612.76 L119.04,612.84 L119.24,613.26 L119.44,614.00 L119.64,615.00 L119.84,616.20 L120.04,617.51 L120.24,618.86 L120.44,620.18 L120.64,621.41 L120.84,622.50 L121.04,623.44 L121.24,624.22 L121.44,624.84 L121.64,625.32 L121.84,625.68 L122.04,625.95 L122.24,626.13 L122.44,626.26 L122.64,626.35 L122.84,626.40 L123.04,626.44 L123.24,626.46 L123.44,626.47 L123.64,626.48 L123.84,626.49 L124.04,626.49 L124.24,626.49 L124.44,626.49 L124.64,626.50 L124.84,626.50 L125.04,626.50 L125.24,626.50 L125.44,626.50 L125.64,626.50 L125.85,626.50 L126.05,626.50 L126.25,626.50 L126.45,626.50 L126.65,626.50 L126.85,626.50 L127.05,626.50 L127.25,626.50 L127.45,626.50 L127.65,626.50 L127.85,626.50 L128.05,626.50 L128.25,626.50 L128.45,626.50 L128.65,626.50 L128.85,626.50 L129.05,626.50 L129.25,626.50 L129.45,626.50 L129.65,626.50 L129.85,626.50 L130.05,626.50 L130.25,626.50 L130.45,626.50 L130.65,626.50 L130.85,626.50 L131.05,626.50 L131.25,626.50 L131.45,626.50 L131.65,626.50 L131.85,626.50 L132.05,626.50 L132.25,626.50 L132.45,626.50 L132.65,626.50 L132.85,626.50 L133.05,626.50 L133.25,626.50 L133.45,626.50 L133.65,626.50 L133.86,626.50 L134.06,626.50 L134.26,626.50 L134.46,626.50 L134.66,626.50 L134.86,626.50 L135.06,626.50 L135.26,626.50 L135.46,626.50 L135.66,626.50 L135.86,626.50 L136.06,626.50 L136.26,626.50 L136.46,626.50 L136.66,626.50 L136.86,626.50 L137.06,626.50 L137.26,626.50 L137.46,626.50 L137.66,626.50 L137.86,626.50 L138.06,626.50 L138.26,626.50 L138.46,626.50 L138.66,626.50 L138.86,626.50 L139.06,626.50 L139.26,626.50 L139.46,626.50 L139.66,626.50 L139.86,626.50 L140.06,626.50 L140.26,626.50 L140.46,626.50 L140.66,626.50 L140.86,626.50 L141.06,626.50 L141.26,626.50 L141.46,626.50 L141.66,626.50 L141.86,626.50 L142.07,626.50 L142.27,626.50 L142.47,626.50 L142.67,626.50 L142.87,626.50 L143.07,626.50 L143.27,626.50 L143.47,626.50 L143.67,626.50 L143.87,626.50 L144.07,626.50 L144.27,626.50 L144.47,626.50 L144.67,626.50 L144.87,626.50 L145.07,626.50 L145.27,626.50 L145.47,626.50 L145.67,626.50 L145.87,626.50 L146.07,626.50 L146.27,626.50 L146.47,626.50 L146.67,626.50 L146.87,626.50 L147.07,626.50 L147.27,626.50 L147.47,626.50 L147.67,626.50 L147.87,626.50 L148.07,626.50 L148.27,626.50 L148.47,626.50 L148.67,626.50 L148.87,626.50 L149.07,626.50 L149.27,626.50 L149.47,626.50 L149.67,626.50 L149.87,626.50 L150.07,626.50 L150.28,626.50 L150.48,626.50 L150.68,626.50 L150.88,626.50 L151.08,626.50 L151.28,626.50 L151.48,626.50 L151.68,626.50 L151.88,626.50 L152.08,626.50 L152.28,626.50 L152.48,626.50 L152.68,626.50 L152.88,626.50 L153.08,626.50 L153.28,626.50 L153.48,626.50 L153.68,626.50 L153.88,626.50 L154.08,626.50 L154.28,626.50 L154.48,626.50 L154.68,626.50 L154.88,626.50 L155.08,626.50 L155.28,626.50 L155.48,626.50 L155.68,626.50 L155.88,626.50 L156.08,626.50 L156.28,626.50 L156.48,626.50 L156.68,626.50 L156.88,626.50 L157.08,626.50 L157.28,626.50 L157.48,626.50 L157.68,626.50 L157.88,626.50 L158.08,626.50 L158.28,626.50 L158.49,626.50 L158.69,626.50 L158.89,626.50 L159.09,626.50 L159.29,626.50 L159.49,626.50 L159.69,626.50 L159.89,626.50 L160.09,626.50 L160.29,626.50 L160.49,626.50 L160.69,626.50 L160.89,626.50 L161.09,626.50 L161.29,626.50 L161.49,626.50 L161.69,626.50 L161.89,626.50 L162.09,626.50 L162.29,626.50 L162.49,626.50 L162.69,626.50 L162.89,626.50 L163.09,626.50 L163.29,626.50 L163.49,626.50 L163.69,626.50 L163.89,626.50 L164.09,626.50 L164.29,626.50 L164.49,626.50 L164.69,626.50 L164.89,626.50 L165.09,626.50 L165.29,626.50 L165.49,626.50 L165.69,626.50 L165.89,626.50 L166.09,626.50 L166.29,626.50 L166.49,626.50 L166.70,626.50 L166.90,626.50 L167.10,626.50 L167.30,626.50 L167.50,626.50 L167.70,626.50 L167.90,626.50 L168.10,626.50 L168.30,626.50 L168.50,626.50 L168.70,626.50 L168.90,626.50 L169.10,626.50 L169.30,626.50 L169.50,626.50 L169.70,626.50 L169.90,626.50 L170.10,626.50 L170.30,626.50 L170.50,626.50 L170.70,626.50" fill="none" stroke="#a85a3a" stroke-width="0.9" opacity="0.72"/>
<text x="84" y="565.0" font-size="4.3" text-anchor="end" fill="#6a6a6a" >1200</text>
<line x1="86.2" y1="563.5" x2="88" y2="563.5" stroke="#999" stroke-width="0.5" />
<text x="84" y="581.3" font-size="4.3" text-anchor="end" fill="#6a6a6a" >900</text>
<line x1="86.2" y1="579.8" x2="88" y2="579.8" stroke="#999" stroke-width="0.5" />
<text x="84" y="597.2" font-size="4.3" text-anchor="end" fill="#6a6a6a" >600</text>
<line x1="86.2" y1="595.7" x2="88" y2="595.7" stroke="#999" stroke-width="0.5" />
<text x="84" y="613.0" font-size="4.3" text-anchor="end" fill="#6a6a6a" >300</text>
<line x1="86.2" y1="611.5" x2="88" y2="611.5" stroke="#999" stroke-width="0.5" />
<text x="84" y="628.7" font-size="4.3" text-anchor="end" fill="#6a6a6a" >0</text>
<line x1="86.2" y1="627.2" x2="88" y2="627.2" stroke="#999" stroke-width="0.5" />
<text transform="translate(72.1,591.1) rotate(-90)" font-size="4.2" font-weight="bold" fill="#444" text-anchor="middle"># Cells</text>
<text x="104.7" y="632.4" font-size="3.3" text-anchor="middle" fill="#a0a0a0" >50K</text>
<text x="119" y="632.4" font-size="3.3" text-anchor="middle" fill="#a0a0a0" >100K</text>
<text x="135.3" y="632.4" font-size="3.3" text-anchor="middle" fill="#a0a0a0" >150K</text>
<text x="149.6" y="632.4" font-size="3.3" text-anchor="middle" fill="#a0a0a0" >200K</text>
<text x="165.3" y="632.4" font-size="3.3" text-anchor="middle" fill="#a0a0a0" >250K</text>
<rect x="187" y="555.5" width="79.69999999999999" height="72.60000000000002" fill="#fff" stroke="#b4b4b4" stroke-width="1.1"/>
<line x1="187" y1="555.0" x2="187" y2="628.6" stroke="#858585" stroke-width="1.1" />
<line x1="202.03773584905662" y1="628.1" x2="202.03773584905662" y2="629.1" stroke="#bbb" stroke-width="0.6" />
<line x1="217.0754716981132" y1="628.1" x2="217.0754716981132" y2="629.1" stroke="#bbb" stroke-width="0.6" />
<line x1="232.1132075471698" y1="628.1" x2="232.1132075471698" y2="629.1" stroke="#bbb" stroke-width="0.6" />
<line x1="247.1509433962264" y1="628.1" x2="247.1509433962264" y2="629.1" stroke="#bbb" stroke-width="0.6" />
<line x1="262.188679245283" y1="628.1" x2="262.188679245283" y2="629.1" stroke="#bbb" stroke-width="0.6" />
<path d="M187.80,627.40 L188.00,627.40 L188.20,627.40 L188.40,627.40 L188.60,627.40 L188.80,627.40 L189.00,627.40 L189.20,627.40 L189.40,627.40 L189.60,627.40 L189.80,627.40 L190.00,627.40 L190.20,627.40 L190.40,627.40 L190.60,627.40 L190.80,627.40 L191.00,627.40 L191.20,627.40 L191.40,627.40 L191.60,627.40 L191.81,627.40 L192.01,627.40 L192.21,627.40 L192.41,627.40 L192.61,627.40 L192.81,627.40 L193.01,627.40 L193.21,627.40 L193.41,627.40 L193.61,627.40 L193.81,627.40 L194.01,627.40 L194.21,627.40 L194.41,627.40 L194.61,627.40 L194.81,627.40 L195.01,627.40 L195.21,627.40 L195.41,627.39 L195.61,627.39 L195.81,627.39 L196.01,627.39 L196.21,627.38 L196.41,627.38 L196.61,627.37 L196.81,627.36 L197.01,627.35 L197.21,627.34 L197.41,627.33 L197.61,627.31 L197.81,627.29 L198.01,627.27 L198.21,627.25 L198.41,627.22 L198.61,627.19 L198.81,627.15 L199.01,627.11 L199.21,627.07 L199.41,627.03 L199.62,626.98 L199.82,626.93 L200.02,626.87 L200.22,626.80 L200.42,626.67 L200.62,626.37 L200.82,625.61 L201.02,623.82 L201.22,620.05 L201.42,613.18 L201.62,602.56 L201.82,588.87 L202.02,574.70 L202.22,564.02 L202.42,560.42 L202.62,565.17 L202.82,576.44 L203.02,590.35 L203.22,603.10 L203.42,612.47 L203.62,618.22 L203.82,621.12 L204.02,622.31 L204.22,622.70 L204.42,622.79 L204.62,622.82 L204.82,622.87 L205.02,622.94 L205.22,623.04 L205.42,623.15 L205.62,623.26 L205.82,623.38 L206.02,623.49 L206.22,623.60 L206.42,623.71 L206.62,623.80 L206.82,623.89 L207.02,623.97 L207.22,624.04 L207.43,624.11 L207.63,624.17 L207.83,624.22 L208.03,624.27 L208.23,624.32 L208.43,624.36 L208.63,624.40 L208.83,624.43 L209.03,624.46 L209.23,624.49 L209.43,624.51 L209.63,624.54 L209.83,624.56 L210.03,624.58 L210.23,624.60 L210.43,624.61 L210.63,624.63 L210.83,624.64 L211.03,624.65 L211.23,624.66 L211.43,624.67 L211.63,624.68 L211.83,624.69 L212.03,624.70 L212.23,624.71 L212.43,624.72 L212.63,624.72 L212.83,624.73 L213.03,624.73 L213.23,624.73 L213.43,624.72 L213.63,624.71 L213.83,624.70 L214.03,624.67 L214.23,624.63 L214.43,624.57 L214.63,624.49 L214.83,624.38 L215.03,624.26 L215.24,624.11 L215.44,623.95 L215.64,623.77 L215.84,623.60 L216.04,623.44 L216.24,623.32 L216.44,623.24 L216.64,623.23 L216.84,623.29 L217.04,623.43 L217.24,623.65 L217.44,623.93 L217.64,624.27 L217.84,624.64 L218.04,625.03 L218.24,625.41 L218.44,625.76 L218.64,626.08 L218.84,626.37 L219.04,626.61 L219.24,626.80 L219.44,626.96 L219.64,627.08 L219.84,627.17 L220.04,627.24 L220.24,627.29 L220.44,627.32 L220.64,627.35 L220.84,627.36 L221.04,627.37 L221.24,627.38 L221.44,627.39 L221.64,627.39 L221.84,627.39 L222.04,627.39 L222.24,627.40 L222.44,627.40 L222.64,627.40 L222.84,627.40 L223.05,627.40 L223.25,627.40 L223.45,627.40 L223.65,627.40 L223.85,627.40 L224.05,627.40 L224.25,627.40 L224.45,627.40 L224.65,627.40 L224.85,627.40 L225.05,627.40 L225.25,627.40 L225.45,627.40 L225.65,627.40 L225.85,627.40 L226.05,627.40 L226.25,627.40 L226.45,627.40 L226.65,627.40 L226.85,627.40 L227.05,627.40 L227.25,627.40 L227.45,627.40 L227.65,627.40 L227.85,627.40 L228.05,627.40 L228.25,627.40 L228.45,627.40 L228.65,627.40 L228.85,627.40 L229.05,627.40 L229.25,627.40 L229.45,627.40 L229.65,627.40 L229.85,627.40 L230.05,627.40 L230.25,627.40 L230.45,627.40 L230.65,627.40 L230.86,627.40 L231.06,627.40 L231.26,627.40 L231.46,627.40 L231.66,627.40 L231.86,627.40 L232.06,627.40 L232.26,627.40 L232.46,627.40 L232.66,627.40 L232.86,627.40 L233.06,627.40 L233.26,627.40 L233.46,627.40 L233.66,627.40 L233.86,627.40 L234.06,627.40 L234.26,627.40 L234.46,627.40 L234.66,627.40 L234.86,627.40 L235.06,627.40 L235.26,627.40 L235.46,627.40 L235.66,627.40 L235.86,627.40 L236.06,627.40 L236.26,627.40 L236.46,627.40 L236.66,627.40 L236.86,627.40 L237.06,627.40 L237.26,627.40 L237.46,627.40 L237.66,627.40 L237.86,627.40 L238.06,627.40 L238.26,627.40 L238.46,627.40 L238.67,627.40 L238.87,627.40 L239.07,627.40 L239.27,627.40 L239.47,627.40 L239.67,627.40 L239.87,627.40 L240.07,627.40 L240.27,627.40 L240.47,627.40 L240.67,627.40 L240.87,627.40 L241.07,627.40 L241.27,627.40 L241.47,627.40 L241.67,627.40 L241.87,627.40 L242.07,627.40 L242.27,627.40 L242.47,627.40 L242.67,627.40 L242.87,627.40 L243.07,627.40 L243.27,627.40 L243.47,627.40 L243.67,627.40 L243.87,627.40 L244.07,627.40 L244.27,627.40 L244.47,627.40 L244.67,627.40 L244.87,627.40 L245.07,627.40 L245.27,627.40 L245.47,627.40 L245.67,627.40 L245.87,627.40 L246.07,627.40 L246.27,627.40 L246.48,627.40 L246.68,627.40 L246.88,627.40 L247.08,627.40 L247.28,627.40 L247.48,627.40 L247.68,627.40 L247.88,627.40 L248.08,627.40 L248.28,627.40 L248.48,627.40 L248.68,627.40 L248.88,627.40 L249.08,627.40 L249.28,627.40 L249.48,627.40 L249.68,627.40 L249.88,627.40 L250.08,627.40 L250.28,627.40 L250.48,627.40 L250.68,627.40 L250.88,627.40 L251.08,627.40 L251.28,627.40 L251.48,627.40 L251.68,627.40 L251.88,627.40 L252.08,627.40 L252.28,627.40 L252.48,627.40 L252.68,627.40 L252.88,627.40 L253.08,627.40 L253.28,627.40 L253.48,627.40 L253.68,627.40 L253.88,627.40 L254.08,627.40 L254.29,627.40 L254.49,627.40 L254.69,627.40 L254.89,627.40 L255.09,627.40 L255.29,627.40 L255.49,627.40 L255.69,627.40 L255.89,627.40 L256.09,627.40 L256.29,627.40 L256.49,627.40 L256.69,627.40 L256.89,627.40 L257.09,627.40 L257.29,627.40 L257.49,627.40 L257.69,627.40 L257.89,627.40 L258.09,627.40 L258.29,627.40 L258.49,627.40 L258.69,627.40 L258.89,627.40 L259.09,627.40 L259.29,627.40 L259.49,627.40 L259.69,627.40 L259.89,627.40 L260.09,627.40 L260.29,627.40 L260.49,627.40 L260.69,627.40 L260.89,627.40 L261.09,627.40 L261.29,627.40 L261.49,627.40 L261.69,627.40 L261.89,627.40 L262.10,627.40 L262.30,627.40 L262.50,627.40 L262.70,627.40 L262.90,627.40 L263.10,627.40 L263.30,627.40 L263.50,627.40 L263.70,627.40 L263.90,627.40 L264.10,627.40 L264.30,627.40 L264.50,627.40 L264.70,627.40 L264.90,627.40 L265.10,627.40 L265.30,627.40 L265.50,627.40 L265.70,627.40 L265.90,627.40" fill="none" stroke="#62d062" stroke-width="0.9"/>
<path d="M187.80,627.40 L188.00,627.40 L188.20,627.40 L188.40,627.40 L188.60,627.40 L188.80,627.40 L189.00,627.40 L189.20,627.40 L189.40,627.40 L189.60,627.40 L189.80,627.40 L190.00,627.40 L190.20,627.40 L190.40,627.40 L190.60,627.40 L190.80,627.40 L191.00,627.40 L191.20,627.40 L191.40,627.40 L191.60,627.40 L191.81,627.40 L192.01,627.40 L192.21,627.40 L192.41,627.40 L192.61,627.40 L192.81,627.40 L193.01,627.40 L193.21,627.40 L193.41,627.40 L193.61,627.40 L193.81,627.40 L194.01,627.40 L194.21,627.40 L194.41,627.40 L194.61,627.40 L194.81,627.40 L195.01,627.40 L195.21,627.40 L195.41,627.39 L195.61,627.39 L195.81,627.39 L196.01,627.39 L196.21,627.38 L196.41,627.38 L196.61,627.37 L196.81,627.37 L197.01,627.36 L197.21,627.35 L197.41,627.34 L197.61,627.32 L197.81,627.31 L198.01,627.29 L198.21,627.27 L198.41,627.24 L198.61,627.21 L198.81,627.18 L199.01,627.15 L199.21,627.11 L199.41,627.07 L199.62,627.03 L199.82,626.98 L200.02,626.93 L200.22,626.87 L200.42,626.76 L200.62,626.49 L200.82,625.83 L201.02,624.26 L201.22,620.96 L201.42,614.95 L201.62,605.65 L201.82,593.67 L202.02,581.26 L202.22,571.89 L202.42,568.72 L202.62,572.83 L202.82,582.62 L203.02,594.72 L203.22,605.78 L203.42,613.87 L203.62,618.80 L203.82,621.26 L204.02,622.24 L204.22,622.53 L204.42,622.58 L204.62,622.59 L204.82,622.62 L205.02,622.69 L205.22,622.78 L205.42,622.89 L205.62,623.01 L205.82,623.13 L206.02,623.24 L206.22,623.35 L206.42,623.46 L206.62,623.55 L206.82,623.64 L207.02,623.73 L207.22,623.80 L207.43,623.87 L207.63,623.93 L207.83,623.99 L208.03,624.04 L208.23,624.09 L208.43,624.13 L208.63,624.17 L208.83,624.21 L209.03,624.24 L209.23,624.27 L209.43,624.29 L209.63,624.32 L209.83,624.34 L210.03,624.36 L210.23,624.38 L210.43,624.40 L210.63,624.41 L210.83,624.43 L211.03,624.44 L211.23,624.45 L211.43,624.46 L211.63,624.48 L211.83,624.48 L212.03,624.49 L212.23,624.50 L212.43,624.51 L212.63,624.51 L212.83,624.51 L213.03,624.50 L213.23,624.49 L213.43,624.46 L213.63,624.42 L213.83,624.34 L214.03,624.24 L214.23,624.08 L214.43,623.87 L214.63,623.59 L214.83,623.23 L215.03,622.79 L215.24,622.27 L215.44,621.68 L215.64,621.03 L215.84,620.38 L216.04,619.74 L216.24,619.17 L216.44,618.72 L216.64,618.43 L216.84,618.33 L217.04,618.44 L217.24,618.76 L217.44,619.28 L217.64,619.96 L217.84,620.75 L218.04,621.62 L218.24,622.50 L218.44,623.35 L218.64,624.14 L218.84,624.84 L219.04,625.44 L219.24,625.93 L219.44,626.33 L219.64,626.64 L219.84,626.87 L220.04,627.04 L220.24,627.16 L220.44,627.24 L220.64,627.29 L220.84,627.33 L221.04,627.36 L221.24,627.37 L221.44,627.38 L221.64,627.39 L221.84,627.39 L222.04,627.39 L222.24,627.39 L222.44,627.40 L222.64,627.40 L222.84,627.40 L223.05,627.40 L223.25,627.40 L223.45,627.40 L223.65,627.40 L223.85,627.40 L224.05,627.40 L224.25,627.40 L224.45,627.40 L224.65,627.40 L224.85,627.40 L225.05,627.40 L225.25,627.40 L225.45,627.40 L225.65,627.40 L225.85,627.40 L226.05,627.40 L226.25,627.40 L226.45,627.40 L226.65,627.40 L226.85,627.40 L227.05,627.40 L227.25,627.40 L227.45,627.40 L227.65,627.40 L227.85,627.40 L228.05,627.40 L228.25,627.40 L228.45,627.40 L228.65,627.40 L228.85,627.40 L229.05,627.40 L229.25,627.40 L229.45,627.40 L229.65,627.40 L229.85,627.40 L230.05,627.40 L230.25,627.40 L230.45,627.40 L230.65,627.40 L230.86,627.40 L231.06,627.40 L231.26,627.40 L231.46,627.40 L231.66,627.40 L231.86,627.40 L232.06,627.40 L232.26,627.40 L232.46,627.40 L232.66,627.40 L232.86,627.40 L233.06,627.40 L233.26,627.40 L233.46,627.40 L233.66,627.40 L233.86,627.40 L234.06,627.40 L234.26,627.40 L234.46,627.40 L234.66,627.40 L234.86,627.40 L235.06,627.40 L235.26,627.40 L235.46,627.40 L235.66,627.40 L235.86,627.40 L236.06,627.40 L236.26,627.40 L236.46,627.40 L236.66,627.40 L236.86,627.40 L237.06,627.40 L237.26,627.40 L237.46,627.40 L237.66,627.40 L237.86,627.40 L238.06,627.40 L238.26,627.40 L238.46,627.40 L238.67,627.40 L238.87,627.40 L239.07,627.40 L239.27,627.40 L239.47,627.40 L239.67,627.40 L239.87,627.40 L240.07,627.40 L240.27,627.40 L240.47,627.40 L240.67,627.40 L240.87,627.40 L241.07,627.40 L241.27,627.40 L241.47,627.40 L241.67,627.40 L241.87,627.40 L242.07,627.40 L242.27,627.40 L242.47,627.40 L242.67,627.40 L242.87,627.40 L243.07,627.40 L243.27,627.40 L243.47,627.40 L243.67,627.40 L243.87,627.40 L244.07,627.40 L244.27,627.40 L244.47,627.40 L244.67,627.40 L244.87,627.40 L245.07,627.40 L245.27,627.40 L245.47,627.40 L245.67,627.40 L245.87,627.40 L246.07,627.40 L246.27,627.40 L246.48,627.40 L246.68,627.40 L246.88,627.40 L247.08,627.40 L247.28,627.40 L247.48,627.40 L247.68,627.40 L247.88,627.40 L248.08,627.40 L248.28,627.40 L248.48,627.40 L248.68,627.40 L248.88,627.40 L249.08,627.40 L249.28,627.40 L249.48,627.40 L249.68,627.40 L249.88,627.40 L250.08,627.40 L250.28,627.40 L250.48,627.40 L250.68,627.40 L250.88,627.40 L251.08,627.40 L251.28,627.40 L251.48,627.40 L251.68,627.40 L251.88,627.40 L252.08,627.40 L252.28,627.40 L252.48,627.40 L252.68,627.40 L252.88,627.40 L253.08,627.40 L253.28,627.40 L253.48,627.40 L253.68,627.40 L253.88,627.40 L254.08,627.40 L254.29,627.40 L254.49,627.40 L254.69,627.40 L254.89,627.40 L255.09,627.40 L255.29,627.40 L255.49,627.40 L255.69,627.40 L255.89,627.40 L256.09,627.40 L256.29,627.40 L256.49,627.40 L256.69,627.40 L256.89,627.40 L257.09,627.40 L257.29,627.40 L257.49,627.40 L257.69,627.40 L257.89,627.40 L258.09,627.40 L258.29,627.40 L258.49,627.40 L258.69,627.40 L258.89,627.40 L259.09,627.40 L259.29,627.40 L259.49,627.40 L259.69,627.40 L259.89,627.40 L260.09,627.40 L260.29,627.40 L260.49,627.40 L260.69,627.40 L260.89,627.40 L261.09,627.40 L261.29,627.40 L261.49,627.40 L261.69,627.40 L261.89,627.40 L262.10,627.40 L262.30,627.40 L262.50,627.40 L262.70,627.40 L262.90,627.40 L263.10,627.40 L263.30,627.40 L263.50,627.40 L263.70,627.40 L263.90,627.40 L264.10,627.40 L264.30,627.40 L264.50,627.40 L264.70,627.40 L264.90,627.40 L265.10,627.40 L265.30,627.40 L265.50,627.40 L265.70,627.40 L265.90,627.40" fill="none" stroke="#a85a3a" stroke-width="0.9" opacity="0.72"/>
<text x="202.5" y="633.3" font-size="3.3" text-anchor="middle" fill="#a0a0a0" >50K</text>
<text x="216.7" y="633.3" font-size="3.3" text-anchor="middle" fill="#a0a0a0" >100K</text>
<text x="231.9" y="633.3" font-size="3.3" text-anchor="middle" fill="#a0a0a0" >150K</text>
<text x="246" y="633.3" font-size="3.3" text-anchor="middle" fill="#a0a0a0" >200K</text>
<text x="260" y="633.3" font-size="3.3" text-anchor="middle" fill="#a0a0a0" >250K</text>
<rect x="273" y="251.39999999999998" width="246.5" height="12.2" fill="#f2f2f2" />
<rect x="273" y="276.8" width="246.5" height="12.5" fill="#f2f2f2" />
<text x="364.9" y="233.8" font-size="9.0" font-weight="bold" textLength="12.6" lengthAdjust="spacingAndGlyphs" >24h</text>
<text x="464.4" y="233.8" font-size="9.0" font-weight="bold" textLength="11.9" lengthAdjust="spacingAndGlyphs" >48h</text>
<text x="335" y="246.1" font-size="9.5" textLength="22.6" lengthAdjust="spacingAndGlyphs" >DMSO</text>
<text x="378.5" y="246.1" font-size="9.5" textLength="37.5" lengthAdjust="spacingAndGlyphs" >ETP-39010</text>
<text x="436.3" y="246.1" font-size="9.5" textLength="22.5" lengthAdjust="spacingAndGlyphs" >DMSO</text>
<text x="477.3" y="246.1" font-size="9.5" textLength="37.1" lengthAdjust="spacingAndGlyphs" >ETP-39010</text>
<line x1="272.5" y1="250.7" x2="519.5" y2="250.7" stroke="#1a1a1a" stroke-width="1.2" />
<text x="274.2" y="260.7" font-size="9.0" textLength="19.5" lengthAdjust="spacingAndGlyphs" >G0G1</text>
<text x="274.2" y="273.2" font-size="9.0" textLength="4.7" lengthAdjust="spacingAndGlyphs" >S</text>
<text x="274.2" y="286.3" font-size="9.0" textLength="10.4" lengthAdjust="spacingAndGlyphs" >G2</text>
<text x="321.9" y="260.7" font-size="9.0" textLength="43.1" lengthAdjust="spacingAndGlyphs" >56.8% (±0.9)</text>
<text x="373.8" y="260.7" font-size="9.0" textLength="40.2" lengthAdjust="spacingAndGlyphs" >83.7%(±1.7)</text>
<text x="423.5" y="260.7" font-size="9.0" textLength="40.9" lengthAdjust="spacingAndGlyphs" >56.7%(±0.8)</text>
<text x="473.5" y="260.7" font-size="9.0" textLength="40.3" lengthAdjust="spacingAndGlyphs" >82.2%(±3.7)</text>
<text x="321.9" y="273.2" font-size="9.0" textLength="43.1" lengthAdjust="spacingAndGlyphs" >25.4% (±4.8)</text>
<text x="373.8" y="273.2" font-size="9.0" textLength="36.0" lengthAdjust="spacingAndGlyphs" >6.6%(±0.9)</text>
<text x="423.5" y="273.2" font-size="9.0" textLength="40.9" lengthAdjust="spacingAndGlyphs" >17.2%(±0.1)</text>
<text x="473.5" y="273.2" font-size="9.0" textLength="36.5" lengthAdjust="spacingAndGlyphs" >7.9%(±1.8)</text>
<text x="321.9" y="286.3" font-size="9.0" textLength="43.1" lengthAdjust="spacingAndGlyphs" >13.9% (±3.8)</text>
<text x="373.8" y="286.3" font-size="9.0" textLength="36.0" lengthAdjust="spacingAndGlyphs" >5.8%(±0.6)</text>
<text x="423.5" y="286.3" font-size="9.0" textLength="34.6" lengthAdjust="spacingAndGlyphs" >24%(±0.3)</text>
<text x="473.5" y="286.3" font-size="9.0" textLength="36.5" lengthAdjust="spacingAndGlyphs" >8.5%(±1.7)</text>
<rect x="273" y="337.2" width="246.5" height="12.00000000000001" fill="#f2f2f2" />
<rect x="273" y="362.4" width="246.5" height="12.5" fill="#f2f2f2" />
<text x="358" y="320.6" font-size="9.6" font-weight="bold" textLength="13" lengthAdjust="spacingAndGlyphs" >24h</text>
<text x="462.5" y="320.4" font-size="9.6" font-weight="bold" textLength="12.5" lengthAdjust="spacingAndGlyphs" >48h</text>
<text x="330.5" y="334" font-size="9.6" textLength="21.3" lengthAdjust="spacingAndGlyphs" >DMSO</text>
<text x="376.9" y="334" font-size="9.6" textLength="35.0" lengthAdjust="spacingAndGlyphs" >ETP-39010</text>
<text x="435.6" y="334" font-size="9.6" textLength="20.7" lengthAdjust="spacingAndGlyphs" >DMSO</text>
<text x="478.8" y="334" font-size="9.6" textLength="35.0" lengthAdjust="spacingAndGlyphs" >ETP-39010</text>
<line x1="272.5" y1="336.5" x2="519.5" y2="336.5" stroke="#1a1a1a" stroke-width="1.2" />
<text x="274.2" y="346.3" font-size="9.6" textLength="16.7" lengthAdjust="spacingAndGlyphs" >G0G1</text>
<text x="274.2" y="358.8" font-size="9.6" textLength="5" lengthAdjust="spacingAndGlyphs" >S</text>
<text x="274.2" y="371.9" font-size="9.6" textLength="8.8" lengthAdjust="spacingAndGlyphs" >G2</text>
<text x="322.5" y="346.3" font-size="9.6" textLength="46.0" lengthAdjust="spacingAndGlyphs" >70.6%(±0.51)</text>
<text x="374.4" y="346.3" font-size="9.6" textLength="41.9" lengthAdjust="spacingAndGlyphs" >76.7%(±4.9)</text>
<text x="424.8" y="346.3" font-size="9.6" textLength="46.5" lengthAdjust="spacingAndGlyphs" >69.95%(±0.8)</text>
<text x="475" y="346.3" font-size="9.6" textLength="42.3" lengthAdjust="spacingAndGlyphs" >84.4%(±2.2)</text>
<text x="322.5" y="358.8" font-size="9.6" textLength="46.0" lengthAdjust="spacingAndGlyphs" >13.8%(±0.64)</text>
<text x="380.6" y="358.8" font-size="9.6" textLength="35.7" lengthAdjust="spacingAndGlyphs" >6%(±0.22)</text>
<text x="429.4" y="358.8" font-size="9.6" textLength="41.9" lengthAdjust="spacingAndGlyphs" >15.4%(±0.9)</text>
<text x="479.8" y="358.8" font-size="9.6" textLength="37.5" lengthAdjust="spacingAndGlyphs" >3.5%(±0.8)</text>
<text x="322.5" y="371.9" font-size="9.6" textLength="46.0" lengthAdjust="spacingAndGlyphs" >10.1%(±0.33)</text>
<text x="378.1" y="371.9" font-size="9.6" textLength="38.2" lengthAdjust="spacingAndGlyphs" >6.5%(±1.4)</text>
<text x="429.4" y="371.9" font-size="9.6" textLength="41.9" lengthAdjust="spacingAndGlyphs" >13.2%(±1.5)</text>
<text x="479.8" y="371.9" font-size="9.6" textLength="37.5" lengthAdjust="spacingAndGlyphs" >6.1%(±1.7)</text>
<rect x="273" y="415.7" width="246.5" height="11.300000000000022" fill="#f2f2f2" />
<rect x="273" y="439.0" width="246.5" height="12.199999999999989" fill="#f2f2f2" />
<text x="355.6" y="399.8" font-size="9.6" font-weight="bold" textLength="11.9" lengthAdjust="spacingAndGlyphs" >24h</text>
<text x="460.6" y="399.8" font-size="9.6" font-weight="bold" textLength="11.9" lengthAdjust="spacingAndGlyphs" >48h</text>
<text x="326.3" y="411.9" font-size="9.6" textLength="19.3" lengthAdjust="spacingAndGlyphs" >DMSO</text>
<text x="371.3" y="411.9" font-size="9.6" textLength="32.5" lengthAdjust="spacingAndGlyphs" >ETP-39010</text>
<text x="429.4" y="411.9" font-size="9.6" textLength="19.4" lengthAdjust="spacingAndGlyphs" >DMSO</text>
<text x="475.6" y="411.9" font-size="9.6" textLength="31.9" lengthAdjust="spacingAndGlyphs" >ETP-39010</text>
<line x1="272.5" y1="415" x2="519.5" y2="415" stroke="#1a1a1a" stroke-width="1.2" />
<text x="274.2" y="424.1" font-size="9.6" textLength="16.7" lengthAdjust="spacingAndGlyphs" >G0G1</text>
<text x="274.2" y="436.3" font-size="9.6" textLength="5" lengthAdjust="spacingAndGlyphs" >S</text>
<text x="274.2" y="448.2" font-size="9.6" textLength="8.8" lengthAdjust="spacingAndGlyphs" >G2</text>
<text x="320" y="424.1" font-size="9.6" textLength="40" lengthAdjust="spacingAndGlyphs" >61.5%(±0.2)</text>
<text x="371.9" y="424.1" font-size="9.6" textLength="40.0" lengthAdjust="spacingAndGlyphs" >56.9%(±0.4)</text>
<text x="418.1" y="424.1" font-size="9.6" textLength="43.8" lengthAdjust="spacingAndGlyphs" >56.1%(±0.06)</text>
<text x="478.1" y="424.1" font-size="9.6" textLength="39.4" lengthAdjust="spacingAndGlyphs" >57.5%(±1.9)</text>
<text x="321" y="436.3" font-size="9.6" textLength="39" lengthAdjust="spacingAndGlyphs" >16.4%(±1.5)</text>
<text x="371.9" y="436.3" font-size="9.6" textLength="40.0" lengthAdjust="spacingAndGlyphs" >17.4%(±0.4)</text>
<text x="422.5" y="436.3" font-size="9.6" textLength="39.4" lengthAdjust="spacingAndGlyphs" >18.2%(±0.3)</text>
<text x="478.1" y="436.3" font-size="9.6" textLength="39.4" lengthAdjust="spacingAndGlyphs" >19.1%(±1.3)</text>
<text x="326.9" y="448.2" font-size="9.6" textLength="33.1" lengthAdjust="spacingAndGlyphs" >19%(±0.6)</text>
<text x="371.9" y="448.2" font-size="9.6" textLength="40.0" lengthAdjust="spacingAndGlyphs" >20.5%(±1.3)</text>
<text x="422.5" y="448.2" font-size="9.6" textLength="39.4" lengthAdjust="spacingAndGlyphs" >23.1%(±0.0)</text>
<text x="484.4" y="448.2" font-size="9.6" textLength="33.1" lengthAdjust="spacingAndGlyphs" >21%(±1.2)</text>
<rect x="273" y="501.9" width="246.5" height="11.300000000000022" fill="#f2f2f2" />
<rect x="273" y="525.5" width="246.5" height="12.300000000000011" fill="#f2f2f2" />
<text x="361.9" y="486" font-size="9.6" font-weight="bold" textLength="11.2" lengthAdjust="spacingAndGlyphs" >24h</text>
<text x="463.8" y="486" font-size="9.6" font-weight="bold" textLength="11.2" lengthAdjust="spacingAndGlyphs" >48h</text>
<text x="331.9" y="498.1" font-size="9.6" textLength="20.4" lengthAdjust="spacingAndGlyphs" >DMSO</text>
<text x="377.5" y="498.1" font-size="9.6" textLength="32.5" lengthAdjust="spacingAndGlyphs" >ETP-39010</text>
<text x="433.8" y="498.1" font-size="9.6" textLength="20.0" lengthAdjust="spacingAndGlyphs" >DMSO</text>
<text x="477.5" y="498.1" font-size="9.6" textLength="32.5" lengthAdjust="spacingAndGlyphs" >ETP-39010</text>
<line x1="272.5" y1="501.2" x2="519.5" y2="501.2" stroke="#1a1a1a" stroke-width="1.2" />
<text x="274.2" y="510.3" font-size="9.6" textLength="16.7" lengthAdjust="spacingAndGlyphs" >G0G1</text>
<text x="274.2" y="522.6" font-size="9.6" textLength="5" lengthAdjust="spacingAndGlyphs" >S</text>
<text x="274.2" y="534.8" font-size="9.6" textLength="8.8" lengthAdjust="spacingAndGlyphs" >G2</text>
<text x="315.6" y="510.3" font-size="9.6" textLength="46.3" lengthAdjust="spacingAndGlyphs" >40.95%(±1.6%)</text>
<text x="370" y="510.3" font-size="9.6" textLength="45.6" lengthAdjust="spacingAndGlyphs" >42.95%(±1.2%)</text>
<text x="420.3" y="510.3" font-size="9.6" textLength="46.0" lengthAdjust="spacingAndGlyphs" >54.38%(±0.8%)</text>
<text x="470.3" y="510.3" font-size="9.6" textLength="45.7" lengthAdjust="spacingAndGlyphs" >53.22%(±1.4%)</text>
<text x="315.6" y="522.6" font-size="9.6" textLength="42.5" lengthAdjust="spacingAndGlyphs" >23.7%(±0.9%)</text>
<text x="370" y="522.6" font-size="9.6" textLength="45.6" lengthAdjust="spacingAndGlyphs" >22.65%(±1.2%)</text>
<text x="420.3" y="522.6" font-size="9.6" textLength="40.3" lengthAdjust="spacingAndGlyphs" >13.68%(±2%)</text>
<text x="471.3" y="522.6" font-size="9.6" textLength="44.7" lengthAdjust="spacingAndGlyphs" >15.05%(±0.6%)</text>
<text x="315.6" y="534.8" font-size="9.6" textLength="49.4" lengthAdjust="spacingAndGlyphs" >31.55%(±0.07%)</text>
<text x="370" y="534.8" font-size="9.6" textLength="41.5" lengthAdjust="spacingAndGlyphs" >28.8%(±0.2%)</text>
<text x="420.3" y="534.8" font-size="9.6" textLength="46.0" lengthAdjust="spacingAndGlyphs" >29.77%(±1.5%)</text>
<text x="470.3" y="534.8" font-size="9.6" textLength="46.2" lengthAdjust="spacingAndGlyphs" >28.33%(±0.8%)</text>
<rect x="273" y="580.1" width="246.5" height="11.900000000000045" fill="#f2f2f2" />
<rect x="273" y="605.1" width="246.5" height="13.399999999999977" fill="#f2f2f2" />
<text x="353.8" y="562.5" font-size="9.6" font-weight="bold" textLength="12.2" lengthAdjust="spacingAndGlyphs" >24h</text>
<text x="458.8" y="562.5" font-size="9.6" font-weight="bold" textLength="11.8" lengthAdjust="spacingAndGlyphs" >48h</text>
<text x="325" y="576.5" font-size="9.6" textLength="18.8" lengthAdjust="spacingAndGlyphs" >DMSO</text>
<text x="368.8" y="576.5" font-size="9.6" textLength="32.2" lengthAdjust="spacingAndGlyphs" >ETP-39010</text>
<text x="428.8" y="576.5" font-size="9.6" textLength="19.3" lengthAdjust="spacingAndGlyphs" >DMSO</text>
<text x="476.3" y="576.5" font-size="9.6" textLength="31.8" lengthAdjust="spacingAndGlyphs" >ETP-39010</text>
<line x1="272.5" y1="579.4" x2="519.5" y2="579.4" stroke="#1a1a1a" stroke-width="1.2" />
<text x="274.2" y="589.1" font-size="9.6" textLength="16.7" lengthAdjust="spacingAndGlyphs" >G0G1</text>
<text x="274.2" y="602.5" font-size="9.6" textLength="5" lengthAdjust="spacingAndGlyphs" >S</text>
<text x="274.2" y="615.5" font-size="9.6" textLength="8.8" lengthAdjust="spacingAndGlyphs" >G2</text>
<text x="318.8" y="589.1" font-size="9.6" textLength="38.7" lengthAdjust="spacingAndGlyphs" >61.5%(±0.8)</text>
<text x="366.3" y="589.1" font-size="9.6" textLength="42.2" lengthAdjust="spacingAndGlyphs" >74.3%(±0.25)</text>
<text x="420.6" y="589.1" font-size="9.6" textLength="42.5" lengthAdjust="spacingAndGlyphs" >64.8%(±0.52)</text>
<text x="475" y="589.1" font-size="9.6" textLength="42.5" lengthAdjust="spacingAndGlyphs" >78.9%(±0.11)</text>
<text x="315.6" y="602.5" font-size="9.6" textLength="41.9" lengthAdjust="spacingAndGlyphs" >18.26%(±0.6)</text>
<text x="373.8" y="602.5" font-size="9.6" textLength="34.7" lengthAdjust="spacingAndGlyphs" >9.8%(±1.3)</text>
<text x="420.6" y="602.5" font-size="9.6" textLength="42.5" lengthAdjust="spacingAndGlyphs" >16.9%(±0.64)</text>
<text x="478.8" y="602.5" font-size="9.6" textLength="38.7" lengthAdjust="spacingAndGlyphs" >6.8%(±0.30)</text>
<text x="315.6" y="615.5" font-size="9.6" textLength="41.9" lengthAdjust="spacingAndGlyphs" >20.03%(±1.6)</text>
<text x="366.3" y="615.5" font-size="9.6" textLength="42.2" lengthAdjust="spacingAndGlyphs" >14.3%(±1.04)</text>
<text x="420.6" y="615.5" font-size="9.6" textLength="42.5" lengthAdjust="spacingAndGlyphs" >15.7%(±2.05)</text>
<text x="475" y="615.5" font-size="9.6" textLength="42.5" lengthAdjust="spacingAndGlyphs" >10.6%(±0.03)</text>
</svg>
</body></html>
